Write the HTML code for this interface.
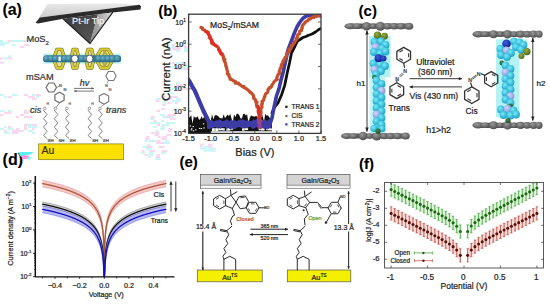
<!DOCTYPE html>
<html><head><meta charset="utf-8"><style>
html,body{margin:0;padding:0;background:#fff;width:550px;height:305px;overflow:hidden}
svg{display:block;font-family:'Liberation Sans',sans-serif}
</style></head><body>
<svg width="550" height="305" viewBox="0 0 550 305" style="font-family:'Liberation Sans',sans-serif">
<rect x="0" y="0" width="550" height="305" fill="#fff"/>
<defs>
<linearGradient id="gface" x1="0" y1="0" x2="0" y2="1"><stop offset="0" stop-color="#e8e8e8"/><stop offset="1" stop-color="#c4c4c4"/></linearGradient>
<linearGradient id="gpyrR" x1="0" y1="0" x2="1" y2="0"><stop offset="0" stop-color="#8a8a8a"/><stop offset="0.6" stop-color="#b8b8b8"/><stop offset="1" stop-color="#e0e0e0"/></linearGradient>
<linearGradient id="gpyrL" x1="0" y1="0" x2="1" y2="1"><stop offset="0" stop-color="#3a3a3a"/><stop offset="1" stop-color="#5a5a5a"/></linearGradient>
<radialGradient id="ggray" cx="0.4" cy="0.35" r="0.7"><stop offset="0" stop-color="#9a9a9a"/><stop offset="1" stop-color="#4a4a4a"/></radialGradient>
<radialGradient id="gcyan" cx="0.4" cy="0.35" r="0.7"><stop offset="0" stop-color="#78ecfa"/><stop offset="1" stop-color="#149cc4"/></radialGradient>
<radialGradient id="gblue" cx="0.4" cy="0.35" r="0.7"><stop offset="0" stop-color="#4060e0"/><stop offset="1" stop-color="#0a1890"/></radialGradient>
<radialGradient id="glav" cx="0.4" cy="0.35" r="0.7"><stop offset="0" stop-color="#d0d8ff"/><stop offset="1" stop-color="#7c90d8"/></radialGradient>
<radialGradient id="gdgreen" cx="0.4" cy="0.35" r="0.7"><stop offset="0" stop-color="#4a8a50"/><stop offset="1" stop-color="#1a4a20"/></radialGradient>
<radialGradient id="ggreen" cx="0.4" cy="0.35" r="0.7"><stop offset="0" stop-color="#9ab040"/><stop offset="1" stop-color="#4a6018"/></radialGradient>
<radialGradient id="gteal" cx="0.4" cy="0.35" r="0.7"><stop offset="0" stop-color="#6ab4cc"/><stop offset="1" stop-color="#24607c"/></radialGradient>
<radialGradient id="gyel" cx="0.4" cy="0.35" r="0.7"><stop offset="0" stop-color="#f0ea70"/><stop offset="1" stop-color="#b0a010"/></radialGradient>
</defs>
<g id="art">
<rect x="0.0" y="40" width="3.2" height="2" fill="#c8f5f5" stroke="none" stroke-width="1" />
<rect x="8.0" y="40" width="4.9" height="2" fill="#f8d6f0" stroke="none" stroke-width="1" />
<rect x="12.0" y="40" width="5.3" height="2" fill="#c8f5f5" stroke="none" stroke-width="1" />
<rect x="16.0" y="40" width="4.6" height="2" fill="#c8f5f5" stroke="none" stroke-width="1" />
<rect x="20.0" y="40" width="4.3" height="2" fill="#c8f5f5" stroke="none" stroke-width="1" />
<rect x="24.0" y="40" width="2.5" height="2" fill="#f8d6f0" stroke="none" stroke-width="1" />
<rect x="0.0" y="42" width="5.4" height="2" fill="#c8f5f5" stroke="none" stroke-width="1" />
<rect x="4.0" y="42" width="5.5" height="2" fill="#c8f5f5" stroke="none" stroke-width="1" />
<rect x="0.0" y="44" width="4.8" height="2" fill="#c8f5f5" stroke="none" stroke-width="1" />
<rect x="12.0" y="44" width="3.0" height="2" fill="#c8f5f5" stroke="none" stroke-width="1" />
<rect x="24.0" y="44" width="5.3" height="2" fill="#f8d6f0" stroke="none" stroke-width="1" />
<rect x="20.0" y="46" width="4.3" height="2" fill="#f8d6f0" stroke="none" stroke-width="1" />
<rect x="8.0" y="55.5" width="3.6" height="2" fill="#c8f5f5" stroke="none" stroke-width="1" />
<rect x="0.0" y="57.5" width="3.2" height="2" fill="#f8d6f0" stroke="none" stroke-width="1" />
<rect x="4.0" y="57.5" width="4.3" height="2" fill="#c8f5f5" stroke="none" stroke-width="1" />
<rect x="8.0" y="57.5" width="4.4" height="2" fill="#f8d6f0" stroke="none" stroke-width="1" />
<rect x="0.0" y="61.5" width="4.0" height="2" fill="#f8d6f0" stroke="none" stroke-width="1" />
<rect x="0.0" y="94" width="3.6" height="2" fill="#c8f5f5" stroke="none" stroke-width="1" />
<rect x="12.0" y="94" width="5.3" height="2" fill="#c8f5f5" stroke="none" stroke-width="1" />
<rect x="24.0" y="94" width="4.1" height="2" fill="#f8d6f0" stroke="none" stroke-width="1" />
<rect x="32.0" y="94" width="3.1" height="2" fill="#c8f5f5" stroke="none" stroke-width="1" />
<rect x="36.0" y="94" width="4.8" height="2" fill="#f8d6f0" stroke="none" stroke-width="1" />
<rect x="4.0" y="96" width="3.4" height="2" fill="#c8f5f5" stroke="none" stroke-width="1" />
<rect x="8.0" y="96" width="3.9" height="2" fill="#f8d6f0" stroke="none" stroke-width="1" />
<rect x="28.0" y="96" width="5.5" height="2" fill="#f8d6f0" stroke="none" stroke-width="1" />
<rect x="32.0" y="96" width="2.7" height="2" fill="#f8d6f0" stroke="none" stroke-width="1" />
<rect x="36.0" y="96" width="3.2" height="2" fill="#c8f5f5" stroke="none" stroke-width="1" />
<rect x="32.0" y="98" width="4.6" height="2" fill="#f8d6f0" stroke="none" stroke-width="1" />
<rect x="0.0" y="110" width="4.7" height="2" fill="#c8f5f5" stroke="none" stroke-width="1" />
<rect x="8.0" y="110" width="3.7" height="2" fill="#c8f5f5" stroke="none" stroke-width="1" />
<rect x="24.0" y="110" width="3.3" height="2" fill="#f8d6f0" stroke="none" stroke-width="1" />
<rect x="28.0" y="110" width="3.2" height="2" fill="#c8f5f5" stroke="none" stroke-width="1" />
<rect x="4.0" y="112" width="5.0" height="2" fill="#f8d6f0" stroke="none" stroke-width="1" />
<rect x="8.0" y="112" width="3.3" height="2" fill="#f8d6f0" stroke="none" stroke-width="1" />
<rect x="24.0" y="112" width="4.5" height="2" fill="#f8d6f0" stroke="none" stroke-width="1" />
<rect x="0.0" y="114" width="3.3" height="2" fill="#f8d6f0" stroke="none" stroke-width="1" />
<rect x="20.0" y="114" width="4.2" height="2" fill="#f8d6f0" stroke="none" stroke-width="1" />
<rect x="16.0" y="116" width="3.2" height="2" fill="#f8d6f0" stroke="none" stroke-width="1" />
<rect x="24.0" y="116" width="4.4" height="2" fill="#f8d6f0" stroke="none" stroke-width="1" />
<rect x="28.0" y="116" width="4.6" height="2" fill="#f8d6f0" stroke="none" stroke-width="1" />
<rect x="24.0" y="124" width="4.9" height="2" fill="#f8d6f0" stroke="none" stroke-width="1" />
<rect x="28.0" y="124" width="5.3" height="2" fill="#c8f5f5" stroke="none" stroke-width="1" />
<rect x="32.0" y="124" width="5.2" height="2" fill="#f8d6f0" stroke="none" stroke-width="1" />
<rect x="4.0" y="126" width="2.4" height="2" fill="#c8f5f5" stroke="none" stroke-width="1" />
<rect x="8.0" y="126" width="3.0" height="2" fill="#f8d6f0" stroke="none" stroke-width="1" />
<rect x="24.0" y="126" width="2.8" height="2" fill="#f8d6f0" stroke="none" stroke-width="1" />
<rect x="28.0" y="126" width="3.1" height="2" fill="#c8f5f5" stroke="none" stroke-width="1" />
<rect x="32.0" y="126" width="5.2" height="2" fill="#c8f5f5" stroke="none" stroke-width="1" />
<rect x="0.0" y="128" width="4.1" height="2" fill="#c8f5f5" stroke="none" stroke-width="1" />
<rect x="8.0" y="128" width="5.5" height="2" fill="#c8f5f5" stroke="none" stroke-width="1" />
<rect x="16.0" y="128" width="3.7" height="2" fill="#f8d6f0" stroke="none" stroke-width="1" />
<rect x="24.0" y="128" width="3.4" height="2" fill="#f8d6f0" stroke="none" stroke-width="1" />
<rect x="32.0" y="128" width="2.6" height="2" fill="#f8d6f0" stroke="none" stroke-width="1" />
<rect x="4.0" y="130" width="3.0" height="2" fill="#f8d6f0" stroke="none" stroke-width="1" />
<rect x="12.0" y="130" width="5.5" height="2" fill="#f8d6f0" stroke="none" stroke-width="1" />
<rect x="16.0" y="130" width="5.1" height="2" fill="#f8d6f0" stroke="none" stroke-width="1" />
<rect x="20.0" y="130" width="3.6" height="2" fill="#f8d6f0" stroke="none" stroke-width="1" />
<rect x="28.0" y="130" width="4.7" height="2" fill="#c8f5f5" stroke="none" stroke-width="1" />
<rect x="4.0" y="132" width="5.4" height="2" fill="#c8f5f5" stroke="none" stroke-width="1" />
<rect x="12.0" y="132" width="5.3" height="2" fill="#f8d6f0" stroke="none" stroke-width="1" />
<rect x="16.0" y="132" width="2.7" height="2" fill="#f8d6f0" stroke="none" stroke-width="1" />
<rect x="32.0" y="132" width="3.1" height="2" fill="#c8f5f5" stroke="none" stroke-width="1" />
<rect x="170.0" y="92" width="2.9" height="2" fill="#c8f5f5" stroke="none" stroke-width="1" />
<rect x="161.4" y="94" width="3.3" height="2" fill="#c8f5f5" stroke="none" stroke-width="1" />
<rect x="160.8" y="96" width="4.5" height="2" fill="#f8d6f0" stroke="none" stroke-width="1" />
<rect x="168.8" y="96" width="3.5" height="2" fill="#f8d6f0" stroke="none" stroke-width="1" />
<rect x="172.8" y="96" width="5.0" height="2" fill="#f8d6f0" stroke="none" stroke-width="1" />
<rect x="156.2" y="98" width="4.6" height="2" fill="#c8f5f5" stroke="none" stroke-width="1" />
<rect x="164.2" y="98" width="4.3" height="2" fill="#c8f5f5" stroke="none" stroke-width="1" />
<rect x="168.2" y="98" width="4.0" height="2" fill="#f8d6f0" stroke="none" stroke-width="1" />
<rect x="176.2" y="98" width="4.4" height="2" fill="#c8f5f5" stroke="none" stroke-width="1" />
<rect x="155.6" y="100" width="3.4" height="2" fill="#f8d6f0" stroke="none" stroke-width="1" />
<rect x="163.6" y="100" width="2.8" height="2" fill="#c8f5f5" stroke="none" stroke-width="1" />
<rect x="171.6" y="100" width="3.6" height="2" fill="#c8f5f5" stroke="none" stroke-width="1" />
<rect x="175.6" y="100" width="5.1" height="2" fill="#c8f5f5" stroke="none" stroke-width="1" />
<rect x="163.0" y="102" width="2.5" height="2" fill="#c8f5f5" stroke="none" stroke-width="1" />
<rect x="167.0" y="102" width="3.6" height="2" fill="#f8d6f0" stroke="none" stroke-width="1" />
<rect x="175.0" y="102" width="2.6" height="2" fill="#f8d6f0" stroke="none" stroke-width="1" />
<rect x="162.4" y="104" width="3.2" height="2" fill="#f8d6f0" stroke="none" stroke-width="1" />
<rect x="161.2" y="108" width="3.8" height="2" fill="#f8d6f0" stroke="none" stroke-width="1" />
<rect x="173.2" y="108" width="3.2" height="2" fill="#c8f5f5" stroke="none" stroke-width="1" />
<rect x="156.6" y="110" width="3.5" height="2" fill="#f8d6f0" stroke="none" stroke-width="1" />
<rect x="159.4" y="114" width="5.5" height="2" fill="#c8f5f5" stroke="none" stroke-width="1" />
<rect x="167.4" y="114" width="3.4" height="2" fill="#f8d6f0" stroke="none" stroke-width="1" />
<rect x="171.4" y="114" width="4.7" height="2" fill="#f8d6f0" stroke="none" stroke-width="1" />
<rect x="150.8" y="116" width="4.2" height="2" fill="#f8d6f0" stroke="none" stroke-width="1" />
<rect x="162.8" y="116" width="4.6" height="2" fill="#c8f5f5" stroke="none" stroke-width="1" />
<rect x="166.8" y="116" width="5.1" height="2" fill="#f8d6f0" stroke="none" stroke-width="1" />
<rect x="170.8" y="116" width="2.9" height="2" fill="#c8f5f5" stroke="none" stroke-width="1" />
<rect x="150.2" y="118" width="3.8" height="2" fill="#c8f5f5" stroke="none" stroke-width="1" />
<rect x="170.2" y="118" width="5.5" height="2" fill="#f8d6f0" stroke="none" stroke-width="1" />
<rect x="153.6" y="120" width="2.9" height="2" fill="#f8d6f0" stroke="none" stroke-width="1" />
<rect x="161.6" y="120" width="2.5" height="2" fill="#c8f5f5" stroke="none" stroke-width="1" />
<rect x="150.0" y="122" width="3.7" height="2" fill="#c8f5f5" stroke="none" stroke-width="1" />
<rect x="154.0" y="122" width="3.6" height="2" fill="#c8f5f5" stroke="none" stroke-width="1" />
<rect x="158.0" y="122" width="2.5" height="2" fill="#c8f5f5" stroke="none" stroke-width="1" />
<rect x="166.0" y="122" width="4.2" height="2" fill="#c8f5f5" stroke="none" stroke-width="1" />
<rect x="170.0" y="122" width="5.4" height="2" fill="#c8f5f5" stroke="none" stroke-width="1" />
<rect x="157.4" y="124" width="2.6" height="2" fill="#f8d6f0" stroke="none" stroke-width="1" />
<rect x="161.4" y="124" width="3.3" height="2" fill="#c8f5f5" stroke="none" stroke-width="1" />
<rect x="165.4" y="124" width="4.2" height="2" fill="#c8f5f5" stroke="none" stroke-width="1" />
<rect x="152.8" y="126" width="3.6" height="2" fill="#c8f5f5" stroke="none" stroke-width="1" />
<rect x="160.8" y="126" width="4.4" height="2" fill="#c8f5f5" stroke="none" stroke-width="1" />
<rect x="160.2" y="128" width="4.9" height="2" fill="#c8f5f5" stroke="none" stroke-width="1" />
<rect x="168.2" y="128" width="4.1" height="2" fill="#f8d6f0" stroke="none" stroke-width="1" />
<rect x="155.6" y="130" width="2.8" height="2" fill="#c8f5f5" stroke="none" stroke-width="1" />
<rect x="167.6" y="130" width="3.7" height="2" fill="#f8d6f0" stroke="none" stroke-width="1" />
<rect x="151.0" y="132" width="3.5" height="2" fill="#f8d6f0" stroke="none" stroke-width="1" />
<rect x="155.0" y="132" width="4.3" height="2" fill="#f8d6f0" stroke="none" stroke-width="1" />
<rect x="154.4" y="134" width="4.5" height="2" fill="#f8d6f0" stroke="none" stroke-width="1" />
<rect x="166.4" y="134" width="5.2" height="2" fill="#f8d6f0" stroke="none" stroke-width="1" />
<rect x="145.8" y="136" width="3.5" height="2" fill="#f8d6f0" stroke="none" stroke-width="1" />
<rect x="157.8" y="136" width="2.8" height="2" fill="#f8d6f0" stroke="none" stroke-width="1" />
<rect x="161.8" y="136" width="5.3" height="2" fill="#f8d6f0" stroke="none" stroke-width="1" />
<rect x="145.2" y="138" width="4.2" height="2" fill="#f8d6f0" stroke="none" stroke-width="1" />
<rect x="161.2" y="138" width="5.6" height="2" fill="#f8d6f0" stroke="none" stroke-width="1" />
<rect x="144.6" y="140" width="2.9" height="2" fill="#c8f5f5" stroke="none" stroke-width="1" />
<rect x="148.6" y="140" width="4.5" height="2" fill="#c8f5f5" stroke="none" stroke-width="1" />
<rect x="152.6" y="140" width="3.2" height="2" fill="#c8f5f5" stroke="none" stroke-width="1" />
<rect x="156.6" y="140" width="4.1" height="2" fill="#f8d6f0" stroke="none" stroke-width="1" />
<rect x="164.6" y="140" width="4.6" height="2" fill="#c8f5f5" stroke="none" stroke-width="1" />
<rect x="156.0" y="142" width="3.7" height="2" fill="#f8d6f0" stroke="none" stroke-width="1" />
<rect x="160.0" y="142" width="4.4" height="2" fill="#f8d6f0" stroke="none" stroke-width="1" />
<rect x="164.0" y="142" width="5.6" height="2" fill="#c8f5f5" stroke="none" stroke-width="1" />
<rect x="147.4" y="144" width="2.7" height="2" fill="#c8f5f5" stroke="none" stroke-width="1" />
<rect x="142.8" y="146" width="4.4" height="2" fill="#c8f5f5" stroke="none" stroke-width="1" />
<rect x="146.8" y="146" width="5.5" height="2" fill="#f8d6f0" stroke="none" stroke-width="1" />
<rect x="158.8" y="146" width="5.6" height="2" fill="#f8d6f0" stroke="none" stroke-width="1" />
<rect x="146.2" y="148" width="4.8" height="2" fill="#c8f5f5" stroke="none" stroke-width="1" />
<rect x="141.6" y="150" width="2.9" height="2" fill="#f8d6f0" stroke="none" stroke-width="1" />
<rect x="149.6" y="150" width="5.5" height="2" fill="#f8d6f0" stroke="none" stroke-width="1" />
<rect x="161.6" y="150" width="5.3" height="2" fill="#f8d6f0" stroke="none" stroke-width="1" />
<rect x="141.0" y="152" width="4.1" height="2" fill="#c8f5f5" stroke="none" stroke-width="1" />
<rect x="149.0" y="152" width="4.4" height="2" fill="#c8f5f5" stroke="none" stroke-width="1" />
<rect x="161.0" y="152" width="5.0" height="2" fill="#c8f5f5" stroke="none" stroke-width="1" />
<rect x="144.4" y="154" width="3.5" height="2" fill="#f8d6f0" stroke="none" stroke-width="1" />
<rect x="148.4" y="154" width="4.9" height="2" fill="#c8f5f5" stroke="none" stroke-width="1" />
<rect x="156.4" y="154" width="3.8" height="2" fill="#f8d6f0" stroke="none" stroke-width="1" />
<rect x="147.8" y="156" width="2.7" height="2" fill="#c8f5f5" stroke="none" stroke-width="1" />
<rect x="155.8" y="156" width="4.4" height="2" fill="#f8d6f0" stroke="none" stroke-width="1" />
<rect x="155.2" y="158" width="5.3" height="2" fill="#c8f5f5" stroke="none" stroke-width="1" />
<rect x="172.0" y="44" width="2.8" height="2" fill="#f8d6f0" stroke="none" stroke-width="1" />
<rect x="180.0" y="44" width="5.0" height="2" fill="#c8f5f5" stroke="none" stroke-width="1" />
<rect x="172.0" y="46" width="3.9" height="2" fill="#c8f5f5" stroke="none" stroke-width="1" />
<rect x="176.0" y="46" width="4.2" height="2" fill="#f8d6f0" stroke="none" stroke-width="1" />
<rect x="184.0" y="46" width="3.1" height="2" fill="#f8d6f0" stroke="none" stroke-width="1" />
<rect x="172.0" y="48" width="4.1" height="2" fill="#f8d6f0" stroke="none" stroke-width="1" />
<rect x="176.0" y="48" width="4.7" height="2" fill="#f8d6f0" stroke="none" stroke-width="1" />
<rect x="184.0" y="48" width="3.6" height="2" fill="#c8f5f5" stroke="none" stroke-width="1" />
<rect x="176.0" y="50" width="3.5" height="2" fill="#c8f5f5" stroke="none" stroke-width="1" />
<rect x="184.0" y="50" width="4.3" height="2" fill="#c8f5f5" stroke="none" stroke-width="1" />
<rect x="172.0" y="62" width="3.3" height="2" fill="#f8d6f0" stroke="none" stroke-width="1" />
<rect x="176.0" y="62" width="3.5" height="2" fill="#c8f5f5" stroke="none" stroke-width="1" />
<rect x="180.0" y="62" width="3.5" height="2" fill="#c8f5f5" stroke="none" stroke-width="1" />
<rect x="180.0" y="64" width="5.4" height="2" fill="#f8d6f0" stroke="none" stroke-width="1" />
<rect x="184.0" y="64" width="3.2" height="2" fill="#c8f5f5" stroke="none" stroke-width="1" />
<rect x="172.0" y="66" width="4.9" height="2" fill="#c8f5f5" stroke="none" stroke-width="1" />
<rect x="176.0" y="66" width="5.3" height="2" fill="#c8f5f5" stroke="none" stroke-width="1" />
<rect x="180.0" y="66" width="4.7" height="2" fill="#c8f5f5" stroke="none" stroke-width="1" />
<rect x="184.0" y="66" width="4.9" height="2" fill="#c8f5f5" stroke="none" stroke-width="1" />
<rect x="176.0" y="68" width="5.0" height="2" fill="#f8d6f0" stroke="none" stroke-width="1" />
<rect x="180.0" y="68" width="5.2" height="2" fill="#c8f5f5" stroke="none" stroke-width="1" />
<rect x="184.0" y="68" width="5.1" height="2" fill="#f8d6f0" stroke="none" stroke-width="1" />
<rect x="176.0" y="82" width="3.1" height="2" fill="#c8f5f5" stroke="none" stroke-width="1" />
<rect x="176.0" y="84" width="3.4" height="2" fill="#f8d6f0" stroke="none" stroke-width="1" />
<rect x="180.0" y="84" width="2.5" height="2" fill="#f8d6f0" stroke="none" stroke-width="1" />
<rect x="176.0" y="86" width="5.0" height="2" fill="#f8d6f0" stroke="none" stroke-width="1" />
<rect x="180.0" y="86" width="4.6" height="2" fill="#c8f5f5" stroke="none" stroke-width="1" />
<rect x="172.0" y="88" width="5.5" height="2" fill="#c8f5f5" stroke="none" stroke-width="1" />
<rect x="180.0" y="88" width="3.2" height="2" fill="#c8f5f5" stroke="none" stroke-width="1" />
<rect x="184.0" y="88" width="4.1" height="2" fill="#f8d6f0" stroke="none" stroke-width="1" />
<rect x="200.0" y="143.6" width="3.8" height="2" fill="#f8d6f0" stroke="none" stroke-width="1" />
<rect x="208.0" y="143.6" width="4.4" height="2" fill="#f8d6f0" stroke="none" stroke-width="1" />
<rect x="200.0" y="145.6" width="2.9" height="2" fill="#f8d6f0" stroke="none" stroke-width="1" />
<rect x="204.0" y="145.6" width="4.3" height="2" fill="#c8f5f5" stroke="none" stroke-width="1" />
<rect x="208.0" y="145.6" width="4.5" height="2" fill="#f8d6f0" stroke="none" stroke-width="1" />
<rect x="200.0" y="147.6" width="5.1" height="2" fill="#c8f5f5" stroke="none" stroke-width="1" />
<rect x="204.0" y="147.6" width="3.0" height="2" fill="#c8f5f5" stroke="none" stroke-width="1" />
<rect x="208.0" y="147.6" width="4.9" height="2" fill="#c8f5f5" stroke="none" stroke-width="1" />
<rect x="212.0" y="147.6" width="4.1" height="2" fill="#c8f5f5" stroke="none" stroke-width="1" />
<rect x="204.0" y="149.6" width="3.9" height="2" fill="#c8f5f5" stroke="none" stroke-width="1" />
<rect x="208.0" y="149.6" width="4.7" height="2" fill="#c8f5f5" stroke="none" stroke-width="1" />
<rect x="212.0" y="149.6" width="4.0" height="2" fill="#c8f5f5" stroke="none" stroke-width="1" />
</g>
<text x="2.4" y="14.8" font-size="16" fill="#000" stroke="#000" stroke-width="0.1" font-weight="bold" font-style="normal" text-anchor="start" >(a)</text>
<polygon points="47.50,4.00 124.00,3.60 139.00,5.60 41.00,17.20 36.50,21.50" fill="url(#gface)" stroke="none" stroke-width="1" />
<polygon points="35.50,22.80 40.00,17.60 139.50,4.80 141.00,6.20 140.50,9.40 112.50,12.60 63.00,18.80 38.00,23.50" fill="#2b2b2b" stroke="none" stroke-width="1" />
<polygon points="63.00,18.80 98.00,14.30 90.00,43.50" fill="url(#gpyrL)" stroke="none" stroke-width="1" />
<polygon points="98.00,14.30 112.50,12.60 90.00,43.50" fill="url(#gpyrR)" stroke="none" stroke-width="1" />
<polyline points="63.00,18.80 90.00,43.50 112.50,12.60" stroke="#222" stroke-width="1.2" fill="none" stroke-linejoin="round" stroke-linecap="round" />
<text x="72" y="24.2" font-size="9.2" fill="#eee" stroke="#eee" stroke-width="0.22" font-weight="normal" font-style="normal" text-anchor="start" >Pt-Ir Tip</text>
<text x="26.4" y="42.4" font-size="9.3" fill="#333" stroke="#333" stroke-width="0.22" font-weight="normal" font-style="normal" text-anchor="start" >MoS</text>
<text x="45.6" y="45" font-size="6" fill="#333" stroke="#333" stroke-width="0.22" font-weight="normal" font-style="normal" text-anchor="start" >2</text>
<rect x="43" y="53.5" width="78" height="10.2" fill="#c4f2f2" stroke="none" stroke-width="1" />
<polygon points="54.70,55.70 56.87,49.40 61.73,49.40 63.90,55.70" fill="#d8d060" stroke="none" stroke-width="1" opacity="0.55"/>
<polyline points="54.70,55.70 56.87,49.40 61.73,49.40 63.90,55.70" stroke="#6a6420" stroke-width="3.4" fill="none" stroke-linejoin="round" stroke-linecap="round" />
<polyline points="54.70,55.70 56.87,49.40 61.73,49.40 63.90,55.70" stroke="#d8cc34" stroke-width="2.4" fill="none" stroke-linejoin="round" stroke-linecap="round" />
<polygon points="54.70,61.70 56.87,68.00 61.73,68.00 63.90,61.70" fill="#d8d060" stroke="none" stroke-width="1" opacity="0.55"/>
<polyline points="54.70,61.70 56.87,68.00 61.73,68.00 63.90,61.70" stroke="#6a6420" stroke-width="3.4" fill="none" stroke-linejoin="round" stroke-linecap="round" />
<polyline points="54.70,61.70 56.87,68.00 61.73,68.00 63.90,61.70" stroke="#d8cc34" stroke-width="2.4" fill="none" stroke-linejoin="round" stroke-linecap="round" />
<polygon points="71.70,55.70 73.13,49.40 76.77,49.40 78.20,55.70" fill="#d8d060" stroke="none" stroke-width="1" opacity="0.55"/>
<polyline points="71.70,55.70 73.13,49.40 76.77,49.40 78.20,55.70" stroke="#6a6420" stroke-width="3.4" fill="none" stroke-linejoin="round" stroke-linecap="round" />
<polyline points="71.70,55.70 73.13,49.40 76.77,49.40 78.20,55.70" stroke="#d8cc34" stroke-width="2.4" fill="none" stroke-linejoin="round" stroke-linecap="round" />
<polygon points="71.70,61.70 73.13,68.00 76.77,68.00 78.20,61.70" fill="#d8d060" stroke="none" stroke-width="1" opacity="0.55"/>
<polyline points="71.70,61.70 73.13,68.00 76.77,68.00 78.20,61.70" stroke="#6a6420" stroke-width="3.4" fill="none" stroke-linejoin="round" stroke-linecap="round" />
<polyline points="71.70,61.70 73.13,68.00 76.77,68.00 78.20,61.70" stroke="#d8cc34" stroke-width="2.4" fill="none" stroke-linejoin="round" stroke-linecap="round" />
<polygon points="86.40,55.70 87.91,49.40 91.69,49.40 93.20,55.70" fill="#d8d060" stroke="none" stroke-width="1" opacity="0.55"/>
<polyline points="86.40,55.70 87.91,49.40 91.69,49.40 93.20,55.70" stroke="#6a6420" stroke-width="3.4" fill="none" stroke-linejoin="round" stroke-linecap="round" />
<polyline points="86.40,55.70 87.91,49.40 91.69,49.40 93.20,55.70" stroke="#d8cc34" stroke-width="2.4" fill="none" stroke-linejoin="round" stroke-linecap="round" />
<polygon points="86.40,61.70 87.91,68.00 91.69,68.00 93.20,61.70" fill="#d8d060" stroke="none" stroke-width="1" opacity="0.55"/>
<polyline points="86.40,61.70 87.91,68.00 91.69,68.00 93.20,61.70" stroke="#6a6420" stroke-width="3.4" fill="none" stroke-linejoin="round" stroke-linecap="round" />
<polyline points="86.40,61.70 87.91,68.00 91.69,68.00 93.20,61.70" stroke="#d8cc34" stroke-width="2.4" fill="none" stroke-linejoin="round" stroke-linecap="round" />
<polygon points="97.30,55.70 100.93,49.40 108.17,49.40 111.80,55.70" fill="#d8d060" stroke="none" stroke-width="1" opacity="0.55"/>
<polyline points="97.30,55.70 100.93,49.40 108.17,49.40 111.80,55.70" stroke="#6a6420" stroke-width="3.4" fill="none" stroke-linejoin="round" stroke-linecap="round" />
<polyline points="97.30,55.70 100.93,49.40 108.17,49.40 111.80,55.70" stroke="#d8cc34" stroke-width="2.4" fill="none" stroke-linejoin="round" stroke-linecap="round" />
<polyline points="102.94,55.70 104.55,50.90 106.97,55.70" stroke="#b8ac28" stroke-width="2.0" fill="none" stroke-linejoin="round" stroke-linecap="round" />
<polygon points="97.30,61.70 100.93,68.00 108.17,68.00 111.80,61.70" fill="#d8d060" stroke="none" stroke-width="1" opacity="0.55"/>
<polyline points="97.30,61.70 100.93,68.00 108.17,68.00 111.80,61.70" stroke="#6a6420" stroke-width="3.4" fill="none" stroke-linejoin="round" stroke-linecap="round" />
<polyline points="97.30,61.70 100.93,68.00 108.17,68.00 111.80,61.70" stroke="#d8cc34" stroke-width="2.4" fill="none" stroke-linejoin="round" stroke-linecap="round" />
<polyline points="102.94,61.70 104.55,66.50 106.97,61.70" stroke="#b8ac28" stroke-width="2.0" fill="none" stroke-linejoin="round" stroke-linecap="round" />
<rect x="43.2" y="55.2" width="78" height="7" rx="3.5" fill="#2f7894"/>
<circle cx="46.4" cy="58.7" r="3.3" fill="url(#gteal)" stroke="none" stroke-width="1" />
<circle cx="51" cy="58.7" r="3.3" fill="url(#gteal)" stroke="none" stroke-width="1" />
<circle cx="55.6" cy="58.7" r="3.3" fill="url(#gteal)" stroke="none" stroke-width="1" />
<circle cx="64.5" cy="58.7" r="3.3" fill="url(#gteal)" stroke="none" stroke-width="1" />
<circle cx="68.8" cy="58.7" r="3.3" fill="url(#gteal)" stroke="none" stroke-width="1" />
<circle cx="81.7" cy="58.7" r="3.3" fill="url(#gteal)" stroke="none" stroke-width="1" />
<circle cx="86.4" cy="58.7" r="3.3" fill="url(#gteal)" stroke="none" stroke-width="1" />
<circle cx="98.7" cy="58.7" r="3.3" fill="url(#gteal)" stroke="none" stroke-width="1" />
<circle cx="103.4" cy="58.7" r="3.3" fill="url(#gteal)" stroke="none" stroke-width="1" />
<circle cx="108" cy="58.7" r="3.3" fill="url(#gteal)" stroke="none" stroke-width="1" />
<circle cx="112.5" cy="58.7" r="3.3" fill="url(#gteal)" stroke="none" stroke-width="1" />
<circle cx="117.6" cy="58.7" r="3.3" fill="url(#gteal)" stroke="none" stroke-width="1" />
<rect x="58.4" y="56.5" width="2.4" height="4.5" fill="#e8f8f8" stroke="none" stroke-width="1" />
<ellipse cx="74.8" cy="58.7" rx="3.3" ry="3.6" fill="#fff" stroke="#4a3a5a" stroke-width="0.8"/>
<ellipse cx="89.6" cy="58.7" rx="3.3" ry="3.6" fill="#fff" stroke="#4a3a5a" stroke-width="0.8"/>
<text x="26" y="79.5" font-size="9.2" fill="#333" stroke="#333" stroke-width="0.22" font-weight="normal" font-style="normal" text-anchor="start" >mSAM</text>
<text x="79.8" y="85.8" font-size="9" fill="#333" stroke="#333" stroke-width="0.22" font-weight="normal" font-style="italic" text-anchor="start" >hv</text>
<line x1="74" y1="88.4" x2="94" y2="88.4" stroke="#555" stroke-width="0.8" />
<polygon points="94.00,88.40 91.50,89.60 91.50,87.20" fill="#555" stroke="none" stroke-width="1" />
<line x1="94" y1="91.1" x2="74" y2="91.1" stroke="#555" stroke-width="0.8" />
<polygon points="74.00,91.10 76.50,89.90 76.50,92.30" fill="#555" stroke="none" stroke-width="1" />
<polyline points="56.50,87.50 53.90,92.00 48.70,92.00 46.10,87.50 48.70,83.00 53.90,83.00 56.50,87.50" stroke="#6a6a6a" stroke-width="1.2" fill="none" stroke-linejoin="round" stroke-linecap="round" />
<text x="59" y="87" font-size="4" fill="#555" stroke="#555" stroke-width="0.22" font-weight="normal" font-style="normal" text-anchor="start" >N</text>
<text x="63.5" y="90.5" font-size="4" fill="#555" stroke="#555" stroke-width="0.22" font-weight="normal" font-style="normal" text-anchor="start" >N</text>
<line x1="56.5" y1="87.5" x2="59.5" y2="86" stroke="#777" stroke-width="0.8" />
<polyline points="64.09,100.15 59.50,102.80 54.91,100.15 54.91,94.85 59.50,92.20 64.09,94.85 64.09,100.15" stroke="#6a6a6a" stroke-width="1.2" fill="none" stroke-linejoin="round" stroke-linecap="round" />
<line x1="59.5" y1="102.8" x2="56.5" y2="107" stroke="#777" stroke-width="0.8" />
<polyline points="116.20,76.00 113.60,80.50 108.40,80.50 105.80,76.00 108.40,71.50 113.60,71.50 116.20,76.00" stroke="#777" stroke-width="1.1" fill="none" stroke-linejoin="round" stroke-linecap="round" />
<line x1="108.5" y1="80.5" x2="107" y2="83.5" stroke="#888" stroke-width="0.8" />
<text x="105" y="86.5" font-size="4" fill="#666" stroke="#666" stroke-width="0.22" font-weight="normal" font-style="normal" text-anchor="start" >N</text>
<text x="108.5" y="90.5" font-size="4" fill="#666" stroke="#666" stroke-width="0.22" font-weight="normal" font-style="normal" text-anchor="start" >N</text>
<polyline points="108.68,101.50 104.00,104.20 99.32,101.50 99.32,96.10 104.00,93.40 108.68,96.10 108.68,101.50" stroke="#777" stroke-width="1.1" fill="none" stroke-linejoin="round" stroke-linecap="round" />
<line x1="104" y1="104.2" x2="101" y2="106.8" stroke="#888" stroke-width="0.8" />
<text x="30" y="113" font-size="9.2" fill="#333" stroke="#333" stroke-width="0.22" font-weight="normal" font-style="italic" text-anchor="start" >cis</text>
<text x="106" y="113" font-size="9.2" fill="#333" stroke="#333" stroke-width="0.22" font-weight="normal" font-style="italic" text-anchor="start" >trans</text>
<circle cx="44.8" cy="108.4" r="1.3" fill="none" stroke="#777" stroke-width="0.7"/>
<text x="46.599999999999994" y="105" font-size="3.5" fill="#777" stroke="#777" stroke-width="0.22" font-weight="normal" font-style="normal" text-anchor="start" >H</text>
<polyline points="43.50,110.30 47.10,114.50 43.50,118.70 47.10,122.90 43.50,127.10 47.10,131.30 43.50,135.50 46.80,138.30" stroke="#777" stroke-width="0.9" fill="none" stroke-linejoin="round" stroke-linecap="round" />
<text x="47.599999999999994" y="141.9" font-size="4.3" fill="#444" stroke="#444" stroke-width="0.22" font-weight="normal" font-style="normal" text-anchor="start" >SH</text>
<circle cx="55.6" cy="108.4" r="1.3" fill="none" stroke="#777" stroke-width="0.7"/>
<polyline points="54.30,110.30 57.90,114.50 54.30,118.70 57.90,122.90 54.30,127.10 57.90,131.30 54.30,135.50 57.60,138.30" stroke="#777" stroke-width="0.9" fill="none" stroke-linejoin="round" stroke-linecap="round" />
<text x="58.4" y="141.9" font-size="4.3" fill="#444" stroke="#444" stroke-width="0.22" font-weight="normal" font-style="normal" text-anchor="start" >SH</text>
<circle cx="66.8" cy="108.4" r="1.3" fill="none" stroke="#777" stroke-width="0.7"/>
<text x="68.6" y="105" font-size="3.5" fill="#777" stroke="#777" stroke-width="0.22" font-weight="normal" font-style="normal" text-anchor="start" >H</text>
<polyline points="65.50,110.30 69.10,114.50 65.50,118.70 69.10,122.90 65.50,127.10 69.10,131.30 65.50,135.50 68.80,138.30" stroke="#777" stroke-width="0.9" fill="none" stroke-linejoin="round" stroke-linecap="round" />
<text x="69.6" y="141.9" font-size="4.3" fill="#444" stroke="#444" stroke-width="0.22" font-weight="normal" font-style="normal" text-anchor="start" >SH</text>
<circle cx="89.4" cy="108.4" r="1.3" fill="none" stroke="#777" stroke-width="0.7"/>
<text x="91.2" y="105" font-size="3.5" fill="#777" stroke="#777" stroke-width="0.22" font-weight="normal" font-style="normal" text-anchor="start" >H</text>
<polyline points="88.10,110.30 91.70,114.50 88.10,118.70 91.70,122.90 88.10,127.10 91.70,131.30 88.10,135.50 91.40,138.30" stroke="#777" stroke-width="0.9" fill="none" stroke-linejoin="round" stroke-linecap="round" />
<text x="92.2" y="141.9" font-size="4.3" fill="#444" stroke="#444" stroke-width="0.22" font-weight="normal" font-style="normal" text-anchor="start" >SH</text>
<circle cx="100" cy="108.4" r="1.3" fill="none" stroke="#777" stroke-width="0.7"/>
<polyline points="98.70,110.30 102.30,114.50 98.70,118.70 102.30,122.90 98.70,127.10 102.30,131.30 98.70,135.50 102.00,138.30" stroke="#777" stroke-width="0.9" fill="none" stroke-linejoin="round" stroke-linecap="round" />
<text x="102.8" y="141.9" font-size="4.3" fill="#444" stroke="#444" stroke-width="0.22" font-weight="normal" font-style="normal" text-anchor="start" >SH</text>
<rect x="38.7" y="143.9" width="84.7" height="15.8" fill="#fce000" stroke="#7a7a20" stroke-width="0.7" />
<text x="41.6" y="154.1" font-size="10.5" fill="#3a3000" stroke="#3a3000" stroke-width="0.22" font-weight="normal" font-style="normal" text-anchor="start" >Au</text>
<text x="158.2" y="16" font-size="15" fill="#000" stroke="#000" stroke-width="0.1" font-weight="bold" font-style="normal" text-anchor="start" >(b)</text>
<clipPath id="cb"><rect x="188.6" y="14.2" width="132.4" height="119.2"/></clipPath>
<g clip-path="url(#cb)">
<polygon points="188.60,116.95 189.90,117.37 191.20,115.11 192.50,123.74 193.80,116.18 195.10,117.40 196.40,117.58 197.70,116.27 199.00,119.65 200.30,119.24 201.60,116.35 202.90,118.88 204.20,116.51 205.50,118.66 206.80,120.64 208.10,120.98 209.40,120.60 210.70,121.36 212.00,113.99 213.30,119.58 214.60,115.68 215.90,115.01 217.20,115.43 218.50,116.43 219.80,118.02 221.10,118.14 222.40,118.45 223.70,114.32 225.00,118.32 226.30,116.35 227.60,114.56 228.90,116.37 230.20,113.82 231.50,118.45 232.80,122.50 234.10,114.25 235.40,117.34 236.70,113.72 238.00,113.72 239.30,115.15 240.60,118.40 241.90,118.49 243.20,113.88 244.50,113.66 245.80,115.54 247.10,114.28 248.40,122.84 249.70,118.29 251.00,115.39 252.30,116.10 253.60,116.48 254.90,116.60 256.20,116.04 257.50,117.10 258.80,115.01 260.10,116.11 261.40,113.56 262.70,116.40 264.00,121.58 265.30,113.80 266.60,115.83 267.90,115.26 269.20,117.19 270.50,118.80 271.80,118.32 272.00,131.20 211.00,131.20 211.00,133.40 188.60,133.40" fill="#111" stroke="none" stroke-width="1" />
<rect x="199.1" y="127.9" width="1.3" height="1.1" fill="#fff" stroke="none" stroke-width="1" />
<rect x="202.9" y="123.3" width="1.3" height="1.1" fill="#fff" stroke="none" stroke-width="1" />
<rect x="189.8" y="125.4" width="1.3" height="1.1" fill="#fff" stroke="none" stroke-width="1" />
<rect x="195.1" y="129.3" width="1.3" height="1.1" fill="#fff" stroke="none" stroke-width="1" />
<rect x="203.4" y="127.4" width="1.3" height="1.1" fill="#fff" stroke="none" stroke-width="1" />
<rect x="200.8" y="128.0" width="1.3" height="1.1" fill="#fff" stroke="none" stroke-width="1" />
<rect x="192.5" y="126.0" width="1.3" height="1.1" fill="#fff" stroke="none" stroke-width="1" />
<rect x="192.8" y="130.2" width="1.3" height="1.1" fill="#fff" stroke="none" stroke-width="1" />
<rect x="190.8" y="129.4" width="1.3" height="1.1" fill="#fff" stroke="none" stroke-width="1" />
<rect x="191.1" y="128.2" width="1.3" height="1.1" fill="#fff" stroke="none" stroke-width="1" />
<rect x="212" y="128.2" width="2.3" height="2.8" fill="#fff" stroke="none" stroke-width="1" />
<rect x="214.3" y="128.2" width="1.1" height="2.9" fill="#fff" stroke="none" stroke-width="1" />
<rect x="215.4" y="128.2" width="3.0" height="3.0" fill="#fff" stroke="none" stroke-width="1" />
<rect x="218.5" y="128.2" width="4.8" height="2.1" fill="#fff" stroke="none" stroke-width="1" />
<rect x="223.2" y="128.2" width="1.5" height="2.4" fill="#fff" stroke="none" stroke-width="1" />
<rect x="226.4" y="128.2" width="1.2" height="2.7" fill="#fff" stroke="none" stroke-width="1" />
<rect x="227.6" y="128.2" width="2.6" height="2.4" fill="#fff" stroke="none" stroke-width="1" />
<rect x="230.2" y="128.2" width="2.9" height="1.5" fill="#fff" stroke="none" stroke-width="1" />
<rect x="242.0" y="128.2" width="2.4" height="2.5" fill="#fff" stroke="none" stroke-width="1" />
<rect x="244.4" y="128.2" width="3.7" height="1.9" fill="#fff" stroke="none" stroke-width="1" />
<rect x="258.6" y="128.2" width="1.9" height="2.1" fill="#fff" stroke="none" stroke-width="1" />
<rect x="260.5" y="128.2" width="4.1" height="2.3" fill="#fff" stroke="none" stroke-width="1" />
<rect x="266.3" y="128.2" width="1.1" height="2.0" fill="#fff" stroke="none" stroke-width="1" />
<rect x="267.4" y="128.2" width="3.5" height="2.2" fill="#fff" stroke="none" stroke-width="1" />
<rect x="271.0" y="128.2" width="1.8" height="2.2" fill="#fff" stroke="none" stroke-width="1" />
<polyline points="272.00,113.00 274.00,108.00 276.00,105.50 278.00,103.00 281.50,95.00 284.70,85.40 287.00,74.00 289.60,62.50 291.50,53.00 294.80,46.50 296.50,43.00 297.50,41.00 300.00,39.50 302.90,37.50 306.00,36.50 308.00,35.50 310.00,34.80 312.50,33.80 315.50,32.00 317.50,30.50 319.00,29.40 321.00,28.50 323.00,27.50" stroke="#111" stroke-width="2.8" fill="none" stroke-linejoin="round" stroke-linecap="round" />
<polyline points="186.00,77.00 189.30,81.00 192.00,86.00 194.80,90.70 197.50,97.00 200.70,104.50 203.50,111.00 206.60,117.30 208.60,121.30" stroke="#3c3ca4" stroke-width="4.2" fill="none" stroke-linejoin="round" stroke-linecap="round" />
<polygon points="207.00,120.57 208.50,120.95 210.00,120.83 211.50,119.26 213.00,121.28 214.50,121.18 216.00,120.23 217.50,120.40 219.00,119.23 220.50,119.81 222.00,120.88 223.50,120.95 225.00,120.56 226.50,119.20 228.00,119.66 229.50,121.36 231.00,119.84 232.50,120.39 234.00,119.65 235.50,120.72 237.00,121.17 238.50,119.99 240.00,119.52 241.50,119.86 243.00,119.21 244.50,119.94 246.00,121.00 247.50,119.89 249.00,120.75 250.50,121.35 252.00,120.85 253.50,119.24 255.00,120.01 256.50,119.22 258.00,119.60 259.50,119.63 261.00,121.25 262.50,119.96 264.00,120.35 265.50,119.44 267.00,120.95 268.50,119.28 270.00,119.40 271.50,120.54 271.50,129.00 270.00,127.62 268.50,129.07 267.00,128.86 265.50,128.60 264.00,128.66 262.50,127.65 261.00,129.06 259.50,128.61 258.00,129.09 256.50,126.91 255.00,128.19 253.50,128.69 252.00,128.83 250.50,126.85 249.00,126.94 247.50,127.95 246.00,127.95 244.50,127.54 243.00,128.43 241.50,128.25 240.00,126.96 238.50,127.20 237.00,127.52 235.50,129.12 234.00,129.06 232.50,128.43 231.00,129.11 229.50,128.89 228.00,127.32 226.50,128.89 225.00,127.10 223.50,127.13 222.00,127.18 220.50,129.00 219.00,127.32 217.50,128.18 216.00,127.39 214.50,127.07 213.00,128.36 211.50,127.92 210.00,129.01 208.50,129.06 207.00,128.58" fill="#3c3ca4" stroke="none" stroke-width="1" />
<polyline points="270.00,124.00 272.00,118.00 274.50,105.00 276.50,96.00 279.00,88.70 281.00,80.00 283.50,70.70 285.80,60.00 288.20,49.30 292.00,39.30 294.80,32.00 297.00,27.00 299.30,23.00 301.50,20.00 303.80,17.60 307.40,15.40 322.00,15.40" stroke="#3c3ca4" stroke-width="3.6" fill="none" stroke-linejoin="round" stroke-linecap="round" />
<polyline points="200.96,27.50 202.55,28.10 202.71,29.53 204.49,30.02 205.01,30.33 205.21,31.29 207.14,31.56 208.47,32.57 208.07,33.52 209.80,35.88 210.10,36.94 209.25,37.73 210.62,38.64 211.97,40.29 211.32,42.26 211.90,43.68 213.43,44.08 214.25,44.98 215.50,45.26 217.44,46.58 218.15,47.53 219.30,49.63 219.81,50.42 220.33,51.87 220.40,52.96 222.42,54.02 223.48,56.62 223.10,56.98 223.60,58.22 224.91,59.42 223.80,60.15 225.35,62.79 225.39,63.25 225.88,64.93 225.76,65.97 226.69,67.26 226.49,67.81 227.16,70.28 227.41,71.04 227.61,71.53 227.49,73.94 228.88,74.52 228.99,76.28 230.10,77.90 230.08,79.12 231.74,79.64 232.88,80.32 233.33,80.76 235.40,81.46 235.15,83.09 237.32,83.17 238.46,83.08 238.57,84.06 239.87,84.47 240.49,85.24 242.99,86.77 243.92,86.47 244.30,87.73 245.84,88.37 246.15,88.54 248.54,90.47 249.61,91.26 249.88,92.33 251.56,92.99 252.05,94.04 253.18,94.77 253.80,97.43 253.49,98.00 255.23,99.56 255.63,99.86 255.85,102.23 257.15,102.16 256.35,103.35 256.54,105.11 257.03,106.99 258.15,107.00 258.26,108.52 258.49,109.55 258.11,110.89 258.58,113.14 259.00,113.47 259.40,116.20 259.64,117.47 258.42,118.16 258.52,119.87 258.71,121.01 258.85,122.20 258.96,122.38 259.09,124.03 259.92,125.23 259.29,126.86 260.02,127.36 259.57,126.79 259.90,126.30 259.33,124.65 259.79,123.21 259.16,122.39 260.73,120.44 259.79,120.23 259.56,117.54 259.62,117.50 260.88,115.62 260.81,113.63 261.01,113.01 260.97,111.62 260.94,110.06 260.54,109.09 261.02,108.23 262.09,106.96 261.67,104.88 261.72,103.98 262.46,103.57 261.94,101.63 262.94,100.85 263.92,99.78 263.85,98.58 264.27,97.57 265.02,96.04 264.99,95.17 265.92,93.43 267.32,92.74 268.32,90.21 267.97,89.70 268.83,88.43 269.95,87.33 270.42,87.71 271.99,85.94 271.77,85.40 273.53,82.86 273.74,82.23 275.59,80.42 277.32,79.32 276.66,78.92 276.96,77.43 277.49,76.07 278.07,74.49 279.59,73.40 279.24,72.42 279.45,70.48 280.06,69.44 280.18,69.34 280.38,67.90 282.26,66.53 281.23,65.00 281.80,64.01 283.40,62.26 282.83,61.59 283.51,60.05 284.63,59.83 285.07,57.32 286.32,57.12 286.47,54.58 286.50,53.84 287.73,52.39 288.78,52.20 289.63,51.09 288.83,49.43 289.65,48.86 291.45,47.56 291.28,45.37 293.00,45.17 293.49,43.95 294.58,42.74 294.53,41.77 295.38,41.20 296.90,39.06 296.16,38.52 297.71,36.75 297.63,35.29 297.99,34.66 299.76,33.58 299.65,31.37 301.46,30.81 301.20,29.81 302.29,28.29 301.83,27.52 302.78,24.93 303.73,24.39 304.91,22.48 305.97,21.99 306.03,21.56 307.99,20.65 308.95,18.75 310.28,19.04 311.05,18.25 312.88,17.00 313.96,17.45 314.85,15.54 315.26,16.08 316.97,16.31 318.33,15.36 320.09,15.96 321.31,15.43 322.00,15.90" stroke="#c4502c" stroke-width="3.2" fill="none" stroke-linejoin="round" stroke-linecap="round" />
<polyline points="206.00,31.50 208.50,34.00 211.00,39.50 213.00,43.00 216.00,46.00" stroke="#e42a24" stroke-width="3.0" fill="none" stroke-linejoin="round" stroke-linecap="round" />
<polyline points="218.50,49.50 221.50,54.50" stroke="#e42a24" stroke-width="3.0" fill="none" stroke-linejoin="round" stroke-linecap="round" />
<polyline points="258.30,106.00 259.10,116.50 259.30,121.00" stroke="#e42a24" stroke-width="2.6" fill="none" stroke-linejoin="round" stroke-linecap="round" />
<polyline points="258.80,120.00 259.50,127.00" stroke="#9040a0" stroke-width="3.0" fill="none" stroke-linejoin="round" stroke-linecap="round" />
</g>
<rect x="188.6" y="14.2" width="132.4" height="119.2" fill="none" stroke="#3a3a3a" stroke-width="1.3" />
<line x1="188.6" y1="133.4" x2="191.6" y2="133.4" stroke="#444" stroke-width="0.8" />
<line x1="321" y1="133.4" x2="318" y2="133.4" stroke="#444" stroke-width="0.8" />
<text x="186" y="136.0" font-size="7.2" fill="#222" stroke="#222" stroke-width="0.22" text-anchor="end">10<tspan font-size="4.8" dy="-3">-4</tspan></text>
<line x1="188.6" y1="111.12" x2="191.6" y2="111.12" stroke="#444" stroke-width="0.8" />
<line x1="321" y1="111.12" x2="318" y2="111.12" stroke="#444" stroke-width="0.8" />
<text x="186" y="113.7" font-size="7.2" fill="#222" stroke="#222" stroke-width="0.22" text-anchor="end">10<tspan font-size="4.8" dy="-3">-3</tspan></text>
<line x1="188.6" y1="88.84" x2="191.6" y2="88.84" stroke="#444" stroke-width="0.8" />
<line x1="321" y1="88.84" x2="318" y2="88.84" stroke="#444" stroke-width="0.8" />
<text x="186" y="91.4" font-size="7.2" fill="#222" stroke="#222" stroke-width="0.22" text-anchor="end">10<tspan font-size="4.8" dy="-3">-2</tspan></text>
<line x1="188.6" y1="66.56" x2="191.6" y2="66.56" stroke="#444" stroke-width="0.8" />
<line x1="321" y1="66.56" x2="318" y2="66.56" stroke="#444" stroke-width="0.8" />
<text x="186" y="69.2" font-size="7.2" fill="#222" stroke="#222" stroke-width="0.22" text-anchor="end">10<tspan font-size="4.8" dy="-3">-1</tspan></text>
<line x1="188.6" y1="44.28" x2="191.6" y2="44.28" stroke="#444" stroke-width="0.8" />
<line x1="321" y1="44.28" x2="318" y2="44.28" stroke="#444" stroke-width="0.8" />
<text x="186" y="46.9" font-size="7.2" fill="#222" stroke="#222" stroke-width="0.22" text-anchor="end">10<tspan font-size="4.8" dy="-3">0</tspan></text>
<line x1="188.6" y1="22.0" x2="191.6" y2="22.0" stroke="#444" stroke-width="0.8" />
<line x1="321" y1="22.0" x2="318" y2="22.0" stroke="#444" stroke-width="0.8" />
<text x="186" y="24.6" font-size="7.2" fill="#222" stroke="#222" stroke-width="0.22" text-anchor="end">10<tspan font-size="4.8" dy="-3">1</tspan></text>
<line x1="188.6" y1="133.4" x2="188.6" y2="130.4" stroke="#444" stroke-width="0.8" />
<text x="188.6" y="141" font-size="7.4" fill="#222" stroke="#222" stroke-width="0.22" font-weight="normal" font-style="normal" text-anchor="middle" >-1.5</text>
<line x1="210.66666666666666" y1="133.4" x2="210.66666666666666" y2="130.4" stroke="#444" stroke-width="0.8" />
<text x="210.7" y="141" font-size="7.4" fill="#222" stroke="#222" stroke-width="0.22" font-weight="normal" font-style="normal" text-anchor="middle" >-1.0</text>
<line x1="232.73333333333332" y1="133.4" x2="232.73333333333332" y2="130.4" stroke="#444" stroke-width="0.8" />
<text x="232.7" y="141" font-size="7.4" fill="#222" stroke="#222" stroke-width="0.22" font-weight="normal" font-style="normal" text-anchor="middle" >-0.5</text>
<line x1="254.8" y1="133.4" x2="254.8" y2="130.4" stroke="#444" stroke-width="0.8" />
<text x="254.8" y="141" font-size="7.4" fill="#222" stroke="#222" stroke-width="0.22" font-weight="normal" font-style="normal" text-anchor="middle" >0.0</text>
<line x1="276.8666666666667" y1="133.4" x2="276.8666666666667" y2="130.4" stroke="#444" stroke-width="0.8" />
<text x="276.9" y="141" font-size="7.4" fill="#222" stroke="#222" stroke-width="0.22" font-weight="normal" font-style="normal" text-anchor="middle" >0.5</text>
<line x1="298.93333333333334" y1="133.4" x2="298.93333333333334" y2="130.4" stroke="#444" stroke-width="0.8" />
<text x="298.9" y="141" font-size="7.4" fill="#222" stroke="#222" stroke-width="0.22" font-weight="normal" font-style="normal" text-anchor="middle" >1.0</text>
<line x1="321.0" y1="133.4" x2="321.0" y2="130.4" stroke="#444" stroke-width="0.8" />
<text x="321.0" y="141" font-size="7.4" fill="#222" stroke="#222" stroke-width="0.22" font-weight="normal" font-style="normal" text-anchor="middle" >1.5</text>
<text x="254.9" y="156.2" font-size="11" fill="#222" stroke="#222" stroke-width="0.22" font-weight="normal" font-style="normal" text-anchor="middle" >Bias (V)</text>
<text x="0" y="0" font-size="11.6" fill="#222" stroke="#222" stroke-width="0.22" text-anchor="middle" transform="translate(169.9,69.2) rotate(-90)">Current (nA)</text>
<text x="210" y="27.6" font-size="8.6" fill="#222" stroke="#222" stroke-width="0.22">MoS<tspan font-size="5.6" dy="2">2</tspan><tspan dy="-2">/mSAM</tspan></text>
<rect x="285.3" y="105.7" width="2.2" height="2.2" fill="#111" stroke="none" stroke-width="1" />
<text x="291.5" y="109.0" font-size="6.6" fill="#222" stroke="#222" stroke-width="0.22" font-weight="normal" font-style="normal" text-anchor="start" >TRANS 1</text>
<rect x="285.3" y="115.0" width="2.2" height="2.2" fill="#8a6a40" stroke="none" stroke-width="1" />
<text x="291.5" y="118.3" font-size="6.6" fill="#222" stroke="#222" stroke-width="0.22" font-weight="normal" font-style="normal" text-anchor="start" >CIS</text>
<rect x="285.3" y="123.3" width="2.2" height="2.2" fill="#3a3aa8" stroke="none" stroke-width="1" />
<text x="291.5" y="126.6" font-size="6.6" fill="#222" stroke="#222" stroke-width="0.22" font-weight="normal" font-style="normal" text-anchor="start" >TRANS 2</text>
<text x="358.6" y="16" font-size="15" fill="#000" stroke="#000" stroke-width="0.1" font-weight="bold" font-style="normal" text-anchor="start" >(c)</text>
<rect x="348" y="23.599999999999998" width="63" height="5.2" rx="2.6" fill="#5a5a5a"/>
<ellipse cx="350" cy="26.2" rx="5.5" ry="3.0" fill="url(#ggray)"/>
<ellipse cx="357" cy="26.2" rx="4.5" ry="2.8" fill="url(#ggray)"/>
<ellipse cx="366.5" cy="26.2" rx="4.3" ry="4.2" fill="url(#ggray)"/>
<ellipse cx="373" cy="26.2" rx="3" ry="2.6" fill="url(#ggray)"/>
<ellipse cx="380.3" cy="26.2" rx="4.6" ry="4.5" fill="url(#ggray)"/>
<ellipse cx="387.5" cy="26.2" rx="4" ry="3.2" fill="url(#ggray)"/>
<ellipse cx="394" cy="26.2" rx="4" ry="3.3" fill="url(#ggray)"/>
<ellipse cx="401" cy="26.2" rx="4" ry="3.3" fill="url(#ggray)"/>
<ellipse cx="409" cy="26.2" rx="4.3" ry="3.5" fill="url(#ggray)"/>
<rect x="344.5" y="133.4" width="63.0" height="5.2" rx="2.6" fill="#5a5a5a"/>
<ellipse cx="346.5" cy="136" rx="5.5" ry="3.0" fill="url(#ggray)"/>
<ellipse cx="353.5" cy="136" rx="4.5" ry="2.8" fill="url(#ggray)"/>
<ellipse cx="363.0" cy="136" rx="4.3" ry="4.2" fill="url(#ggray)"/>
<ellipse cx="369.5" cy="136" rx="3" ry="2.6" fill="url(#ggray)"/>
<ellipse cx="376.8" cy="136" rx="4.6" ry="4.5" fill="url(#ggray)"/>
<ellipse cx="384.0" cy="136" rx="4" ry="3.2" fill="url(#ggray)"/>
<ellipse cx="390.5" cy="136" rx="4" ry="3.3" fill="url(#ggray)"/>
<ellipse cx="397.5" cy="136" rx="4" ry="3.3" fill="url(#ggray)"/>
<ellipse cx="405.5" cy="136" rx="4.3" ry="3.5" fill="url(#ggray)"/>
<rect x="476" y="31.6" width="65" height="5.2" rx="2.6" fill="#5a5a5a"/>
<ellipse cx="478" cy="34.2" rx="5.5" ry="3.2" fill="url(#ggray)"/>
<ellipse cx="485" cy="34.2" rx="4.5" ry="2.8" fill="url(#ggray)"/>
<ellipse cx="493.5" cy="34.2" rx="4.2" ry="4.0" fill="url(#ggray)"/>
<ellipse cx="500" cy="34.2" rx="3" ry="2.6" fill="url(#ggray)"/>
<ellipse cx="507.5" cy="34.2" rx="4.5" ry="4.3" fill="url(#ggray)"/>
<ellipse cx="514" cy="34.2" rx="3.2" ry="2.8" fill="url(#ggray)"/>
<ellipse cx="520.5" cy="34.2" rx="4.2" ry="3.6" fill="url(#ggray)"/>
<ellipse cx="527" cy="34.2" rx="4" ry="3.4" fill="url(#ggray)"/>
<ellipse cx="533.5" cy="34.2" rx="4" ry="3.6" fill="url(#ggray)"/>
<ellipse cx="539" cy="34.2" rx="3.6" ry="3.6" fill="url(#ggray)"/>
<rect x="476" y="122.7" width="65" height="5.2" rx="2.6" fill="#5a5a5a"/>
<ellipse cx="478" cy="125.3" rx="5.5" ry="3.2" fill="url(#ggray)"/>
<ellipse cx="485" cy="125.3" rx="4.5" ry="2.8" fill="url(#ggray)"/>
<ellipse cx="493.5" cy="125.3" rx="4.2" ry="4.0" fill="url(#ggray)"/>
<ellipse cx="500" cy="125.3" rx="3" ry="2.6" fill="url(#ggray)"/>
<ellipse cx="507.5" cy="125.3" rx="4.5" ry="4.3" fill="url(#ggray)"/>
<ellipse cx="514" cy="125.3" rx="3.2" ry="2.8" fill="url(#ggray)"/>
<ellipse cx="520.5" cy="125.3" rx="4.2" ry="3.6" fill="url(#ggray)"/>
<ellipse cx="527" cy="125.3" rx="4" ry="3.4" fill="url(#ggray)"/>
<ellipse cx="533.5" cy="125.3" rx="4" ry="3.6" fill="url(#ggray)"/>
<ellipse cx="539" cy="125.3" rx="3.6" ry="3.6" fill="url(#ggray)"/>
<rect x="369" y="36" width="21.5" height="41" fill="#b0f0f4" stroke="none" stroke-width="1" />
<rect x="369.5" y="77" width="16" height="56" fill="#c4f4f6" stroke="none" stroke-width="1" />
<circle cx="377.5" cy="35.2" r="3.7" fill="url(#ggreen)" stroke="none" stroke-width="1" />
<circle cx="384.5" cy="36.2" r="3.4" fill="url(#ggreen)" stroke="none" stroke-width="1" />
<circle cx="374.5" cy="42" r="3.9" fill="url(#gcyan)" stroke="none" stroke-width="1" />
<circle cx="381" cy="41.5" r="3.9" fill="url(#gcyan)" stroke="none" stroke-width="1" />
<circle cx="385.5" cy="45" r="3.9" fill="url(#gcyan)" stroke="none" stroke-width="1" />
<circle cx="375.5" cy="47" r="3.9" fill="url(#glav)" stroke="none" stroke-width="1" />
<circle cx="382" cy="48.5" r="3.9" fill="url(#gcyan)" stroke="none" stroke-width="1" />
<circle cx="374" cy="52" r="3.9" fill="url(#gcyan)" stroke="none" stroke-width="1" />
<circle cx="380" cy="53.5" r="3.9" fill="url(#gcyan)" stroke="none" stroke-width="1" />
<circle cx="385.5" cy="51.5" r="3.9" fill="url(#gcyan)" stroke="none" stroke-width="1" />
<circle cx="373.5" cy="63.5" r="3.9" fill="url(#gcyan)" stroke="none" stroke-width="1" />
<circle cx="380" cy="64.5" r="3.9" fill="url(#gcyan)" stroke="none" stroke-width="1" />
<circle cx="385" cy="66" r="3.9" fill="url(#gcyan)" stroke="none" stroke-width="1" />
<circle cx="374.5" cy="69.5" r="3.9" fill="url(#glav)" stroke="none" stroke-width="1" />
<circle cx="381" cy="71" r="3.9" fill="url(#gcyan)" stroke="none" stroke-width="1" />
<circle cx="376" cy="74.5" r="3.9" fill="url(#gcyan)" stroke="none" stroke-width="1" />
<circle cx="378.5" cy="58.2" r="3.9" fill="url(#gblue)" stroke="none" stroke-width="1" />
<circle cx="383.5" cy="58.6" r="3.0" fill="url(#gblue)" stroke="none" stroke-width="1" />
<circle cx="374.5" cy="77.2" r="2.3" fill="url(#gdgreen)" stroke="none" stroke-width="1" />
<circle cx="376.5" cy="80.5" r="3.9" fill="url(#gcyan)" stroke="none" stroke-width="1" />
<circle cx="381.5" cy="83.9" r="3.9" fill="url(#gcyan)" stroke="none" stroke-width="1" />
<circle cx="376.5" cy="87.30000000000001" r="3.9" fill="url(#gcyan)" stroke="none" stroke-width="1" />
<circle cx="381.5" cy="90.70000000000002" r="3.9" fill="url(#glav)" stroke="none" stroke-width="1" />
<circle cx="376.5" cy="94.10000000000002" r="3.9" fill="url(#gcyan)" stroke="none" stroke-width="1" />
<circle cx="381.5" cy="97.50000000000003" r="3.9" fill="url(#gcyan)" stroke="none" stroke-width="1" />
<circle cx="376.5" cy="100.90000000000003" r="3.9" fill="url(#gcyan)" stroke="none" stroke-width="1" />
<circle cx="381.5" cy="104.30000000000004" r="3.9" fill="url(#gcyan)" stroke="none" stroke-width="1" />
<circle cx="376.5" cy="107.70000000000005" r="3.9" fill="url(#gcyan)" stroke="none" stroke-width="1" />
<circle cx="381.5" cy="111.10000000000005" r="3.9" fill="url(#gcyan)" stroke="none" stroke-width="1" />
<circle cx="376.5" cy="114.50000000000006" r="3.9" fill="url(#glav)" stroke="none" stroke-width="1" />
<circle cx="381.5" cy="117.90000000000006" r="3.9" fill="url(#gcyan)" stroke="none" stroke-width="1" />
<circle cx="376.5" cy="121.30000000000007" r="3.9" fill="url(#gcyan)" stroke="none" stroke-width="1" />
<circle cx="381.5" cy="124.70000000000007" r="3.9" fill="url(#gcyan)" stroke="none" stroke-width="1" />
<circle cx="376.5" cy="128.10000000000008" r="3.9" fill="url(#gcyan)" stroke="none" stroke-width="1" />
<circle cx="374" cy="128.5" r="3.6" fill="url(#gcyan)" stroke="none" stroke-width="1" />
<circle cx="382" cy="128.8" r="3.5" fill="url(#gcyan)" stroke="none" stroke-width="1" />
<circle cx="378" cy="131.2" r="2.6" fill="url(#gdgreen)" stroke="none" stroke-width="1" />
<line x1="367" y1="31" x2="367" y2="131.5" stroke="#222" stroke-width="0.9" />
<polygon points="367.00,30.00 365.30,34.50 368.70,34.50" fill="#222" stroke="none" stroke-width="1" />
<polygon points="367.00,132.00 365.30,127.50 368.70,127.50" fill="#222" stroke="none" stroke-width="1" />
<text x="356.6" y="85.5" font-size="8" fill="#222" stroke="#222" stroke-width="0.22" font-weight="normal" font-style="normal" text-anchor="start" >h1</text>
<rect x="496" y="39.4" width="23.5" height="78" fill="#b4f2f4" stroke="none" stroke-width="1" />
<rect x="510" y="39.4" width="17" height="16" fill="#b4f2f4" stroke="none" stroke-width="1" />
<circle cx="514" cy="41.5" r="3.9" fill="url(#gcyan)" stroke="none" stroke-width="1" />
<circle cx="519.5" cy="42.5" r="3.9" fill="url(#gcyan)" stroke="none" stroke-width="1" />
<circle cx="523.5" cy="45" r="3.9" fill="url(#gcyan)" stroke="none" stroke-width="1" />
<circle cx="516" cy="47" r="3.9" fill="url(#gcyan)" stroke="none" stroke-width="1" />
<circle cx="521" cy="49.5" r="3.9" fill="url(#gcyan)" stroke="none" stroke-width="1" />
<circle cx="506.5" cy="43.8" r="4.3" fill="url(#gblue)" stroke="none" stroke-width="1" />
<circle cx="527" cy="51.6" r="3.6" fill="url(#ggreen)" stroke="none" stroke-width="1" />
<circle cx="521.5" cy="56" r="3.0" fill="url(#ggreen)" stroke="none" stroke-width="1" />
<circle cx="500.5" cy="49" r="3.9" fill="url(#gcyan)" stroke="none" stroke-width="1" />
<circle cx="506.5" cy="50.5" r="3.9" fill="url(#glav)" stroke="none" stroke-width="1" />
<circle cx="511" cy="53" r="3.9" fill="url(#gcyan)" stroke="none" stroke-width="1" />
<circle cx="501" cy="55" r="3.9" fill="url(#gcyan)" stroke="none" stroke-width="1" />
<circle cx="507" cy="57" r="3.9" fill="url(#gcyan)" stroke="none" stroke-width="1" />
<circle cx="501.8" cy="63" r="2.4" fill="url(#gdgreen)" stroke="none" stroke-width="1" />
<circle cx="505.5" cy="65.5" r="3.9" fill="url(#gcyan)" stroke="none" stroke-width="1" />
<circle cx="510.5" cy="68.9" r="3.9" fill="url(#gcyan)" stroke="none" stroke-width="1" />
<circle cx="505.5" cy="72.30000000000001" r="3.9" fill="url(#glav)" stroke="none" stroke-width="1" />
<circle cx="510.5" cy="75.70000000000002" r="3.9" fill="url(#gcyan)" stroke="none" stroke-width="1" />
<circle cx="505.5" cy="79.10000000000002" r="3.9" fill="url(#gcyan)" stroke="none" stroke-width="1" />
<circle cx="510.5" cy="82.50000000000003" r="3.9" fill="url(#gcyan)" stroke="none" stroke-width="1" />
<circle cx="505.5" cy="85.90000000000003" r="3.9" fill="url(#gcyan)" stroke="none" stroke-width="1" />
<circle cx="510.5" cy="89.30000000000004" r="3.9" fill="url(#gcyan)" stroke="none" stroke-width="1" />
<circle cx="505.5" cy="92.70000000000005" r="3.9" fill="url(#gcyan)" stroke="none" stroke-width="1" />
<circle cx="510.5" cy="96.10000000000005" r="3.9" fill="url(#glav)" stroke="none" stroke-width="1" />
<circle cx="505.5" cy="99.50000000000006" r="3.9" fill="url(#gcyan)" stroke="none" stroke-width="1" />
<circle cx="510.5" cy="102.90000000000006" r="3.9" fill="url(#gcyan)" stroke="none" stroke-width="1" />
<circle cx="510.6" cy="105.8" r="2.3" fill="url(#gdgreen)" stroke="none" stroke-width="1" />
<circle cx="501" cy="109.5" r="3.9" fill="url(#gcyan)" stroke="none" stroke-width="1" />
<circle cx="507.5" cy="109" r="3.9" fill="url(#glav)" stroke="none" stroke-width="1" />
<circle cx="513.5" cy="110.5" r="3.9" fill="url(#gcyan)" stroke="none" stroke-width="1" />
<circle cx="503.5" cy="115" r="3.9" fill="url(#gcyan)" stroke="none" stroke-width="1" />
<circle cx="510.5" cy="115.5" r="3.9" fill="url(#gcyan)" stroke="none" stroke-width="1" />
<circle cx="516" cy="114.5" r="3.9" fill="url(#gcyan)" stroke="none" stroke-width="1" />
<circle cx="508" cy="120.5" r="2.6" fill="url(#gdgreen)" stroke="none" stroke-width="1" />
<line x1="532.8" y1="38" x2="532.8" y2="120.5" stroke="#222" stroke-width="0.9" />
<polygon points="532.80,37.50 531.10,42.00 534.50,42.00" fill="#222" stroke="none" stroke-width="1" />
<polygon points="532.80,121.00 531.10,116.50 534.50,116.50" fill="#222" stroke="none" stroke-width="1" />
<text x="536.5" y="85.5" font-size="8" fill="#222" stroke="#222" stroke-width="0.22" font-weight="normal" font-style="normal" text-anchor="start" >h2</text>
<polyline points="410.54,59.25 403.70,63.20 396.86,59.25 396.86,51.35 403.70,47.40 410.54,51.35 410.54,59.25" stroke="#333" stroke-width="1.3" fill="none" stroke-linejoin="round" stroke-linecap="round" />
<line x1="402.96" y1="60.56" x2="399.51" y2="58.57" stroke="#333" stroke-width="1.04" />
<line x1="399.51" y1="52.03" x2="402.96" y2="50.04" stroke="#333" stroke-width="1.04" />
<line x1="408.63" y1="53.31" x2="408.63" y2="57.29" stroke="#333" stroke-width="1.04" />
<line x1="403.7" y1="63.2" x2="404.6" y2="67.8" stroke="#333" stroke-width="1.2" />
<text x="403.2" y="73.3" font-size="5.2" fill="#333" stroke="#333" stroke-width="0.22" font-weight="normal" font-style="normal" text-anchor="start" >N</text>
<line x1="402.6" y1="72.8" x2="399.3" y2="76.2" stroke="#333" stroke-width="0.8" />
<line x1="403.6" y1="73.8" x2="400.3" y2="77.2" stroke="#333" stroke-width="0.8" />
<text x="395.3" y="80.6" font-size="5.2" fill="#333" stroke="#333" stroke-width="0.22" font-weight="normal" font-style="normal" text-anchor="start" >N</text>
<line x1="396.8" y1="80.6" x2="396.8" y2="82.8" stroke="#333" stroke-width="1.2" />
<polyline points="403.64,94.65 396.80,98.60 389.96,94.65 389.96,86.75 396.80,82.80 403.64,86.75 403.64,94.65" stroke="#333" stroke-width="1.3" fill="none" stroke-linejoin="round" stroke-linecap="round" />
<line x1="400.99" y1="93.97" x2="397.54" y2="95.96" stroke="#333" stroke-width="1.04" />
<line x1="391.87" y1="92.69" x2="391.87" y2="88.71" stroke="#333" stroke-width="1.04" />
<line x1="397.54" y1="85.44" x2="400.99" y2="87.43" stroke="#333" stroke-width="1.04" />
<text x="388.5" y="110.6" font-size="8.5" fill="#222" stroke="#222" stroke-width="0.22" font-weight="normal" font-style="normal" text-anchor="start" >Trans</text>
<text x="416.2" y="65" font-size="8.6" fill="#222" stroke="#222" stroke-width="0.22" font-weight="normal" font-style="normal" text-anchor="start" >Ultraviolet</text>
<text x="418" y="74.8" font-size="8.6" fill="#222" stroke="#222" stroke-width="0.22" font-weight="normal" font-style="normal" text-anchor="start" >(360 nm)</text>
<line x1="409.6" y1="78.7" x2="462" y2="78.7" stroke="#222" stroke-width="0.9" />
<polygon points="462.00,78.70 458.80,80.30 458.80,77.10" fill="#222" stroke="none" stroke-width="1" />
<line x1="462" y1="86.9" x2="409.6" y2="86.9" stroke="#222" stroke-width="0.9" />
<polygon points="409.60,86.90 412.80,85.30 412.80,88.50" fill="#222" stroke="none" stroke-width="1" />
<text x="409.6" y="98.5" font-size="8.6" fill="#222" stroke="#222" stroke-width="0.22" font-weight="normal" font-style="normal" text-anchor="start" >Vis (430 nm)</text>
<text x="426.3" y="132.5" font-size="8.8" fill="#222" stroke="#222" stroke-width="0.22" font-weight="normal" font-style="normal" text-anchor="start" >h1&gt;h2</text>
<text x="468.2" y="82" font-size="5.2" fill="#333" stroke="#333" stroke-width="0.22" font-weight="normal" font-style="normal" text-anchor="start" >N</text>
<text x="476.8" y="76" font-size="5.2" fill="#333" stroke="#333" stroke-width="0.22" font-weight="normal" font-style="normal" text-anchor="start" >N</text>
<line x1="471.8" y1="78.3" x2="476.2" y2="75.0" stroke="#333" stroke-width="0.8" />
<line x1="472.4" y1="79.3" x2="476.8" y2="76.0" stroke="#333" stroke-width="0.8" />
<line x1="480.8" y1="73.6" x2="484.8" y2="75.3" stroke="#333" stroke-width="1.2" />
<polyline points="497.78,83.00 491.20,86.80 484.62,83.00 484.62,75.40 491.20,71.60 497.78,75.40 497.78,83.00" stroke="#333" stroke-width="1.3" fill="none" stroke-linejoin="round" stroke-linecap="round" />
<line x1="495.23" y1="82.35" x2="491.91" y2="84.26" stroke="#333" stroke-width="1.04" />
<line x1="486.46" y1="81.12" x2="486.46" y2="77.28" stroke="#333" stroke-width="1.04" />
<line x1="491.91" y1="74.14" x2="495.23" y2="76.05" stroke="#333" stroke-width="1.04" />
<line x1="470.5" y1="82.5" x2="472" y2="86.8" stroke="#333" stroke-width="1.2" />
<polyline points="478.99,99.35 471.80,103.50 464.61,99.35 464.61,91.05 471.80,86.90 478.99,91.05 478.99,99.35" stroke="#333" stroke-width="1.3" fill="none" stroke-linejoin="round" stroke-linecap="round" />
<line x1="471.02" y1="100.73" x2="467.4" y2="98.64" stroke="#333" stroke-width="1.04" />
<line x1="467.4" y1="91.76" x2="471.02" y2="89.67" stroke="#333" stroke-width="1.04" />
<line x1="476.98" y1="93.11" x2="476.98" y2="97.29" stroke="#333" stroke-width="1.04" />
<text x="465.6" y="114.2" font-size="8.3" fill="#222" stroke="#222" stroke-width="0.22" font-weight="normal" font-style="normal" text-anchor="start" >Cis</text>
<text x="2.6" y="164.8" font-size="16" fill="#000" stroke="#000" stroke-width="0.1" font-weight="bold" font-style="normal" text-anchor="start" >(d)</text>
<clipPath id="cd"><rect x="36" y="170" width="140" height="106.89999999999998"/></clipPath>
<g clip-path="url(#cd)">
<polygon points="42.67,180.37 42.98,180.43 43.29,180.49 43.60,180.56 43.91,180.62 44.22,180.69 44.52,180.75 44.83,180.82 45.14,180.88 45.45,180.95 45.76,181.01 46.06,181.08 46.37,181.15 46.68,181.21 46.99,181.28 47.30,181.35 47.60,181.42 47.91,181.49 48.22,181.56 48.53,181.63 48.84,181.70 49.15,181.77 49.45,181.84 49.76,181.91 50.07,181.98 50.38,182.05 50.69,182.12 50.99,182.20 51.30,182.27 51.61,182.34 51.92,182.42 52.23,182.49 52.53,182.57 52.84,182.64 53.15,182.72 53.46,182.79 53.77,182.87 54.08,182.95 54.38,183.02 54.69,183.10 55.00,183.18 55.31,183.26 55.62,183.34 55.92,183.42 56.23,183.50 56.54,183.58 56.85,183.66 57.16,183.74 57.46,183.83 57.77,183.91 58.08,183.99 58.39,184.08 58.70,184.16 59.01,184.25 59.31,184.33 59.62,184.42 59.93,184.51 60.24,184.60 60.55,184.68 60.85,184.77 61.16,184.86 61.47,184.95 61.78,185.04 62.09,185.14 62.39,185.23 62.70,185.32 63.01,185.41 63.32,185.51 63.63,185.60 63.94,185.70 64.24,185.80 64.55,185.89 64.86,185.99 65.17,186.09 65.48,186.19 65.78,186.29 66.09,186.39 66.40,186.49 66.71,186.60 67.02,186.70 67.32,186.81 67.63,186.91 67.94,187.02 68.25,187.12 68.56,187.23 68.87,187.34 69.17,187.45 69.48,187.56 69.79,187.67 70.10,187.79 70.41,187.90 70.71,188.02 71.02,188.13 71.33,188.25 71.64,188.37 71.95,188.49 72.25,188.61 72.56,188.73 72.87,188.85 73.18,188.98 73.49,189.10 73.80,189.23 74.10,189.36 74.41,189.49 74.72,189.62 75.03,189.75 75.34,189.88 75.64,190.02 75.95,190.15 76.26,190.29 76.57,190.43 76.88,190.57 77.19,190.71 77.49,190.86 77.80,191.00 78.11,191.15 78.42,191.30 78.73,191.45 79.03,191.60 79.34,191.76 79.65,191.91 79.96,192.07 80.27,192.23 80.57,192.40 80.88,192.56 81.19,192.73 81.50,192.90 81.81,193.07 82.11,193.24 82.42,193.42 82.73,193.60 83.04,193.78 83.35,193.96 83.66,194.15 83.96,194.34 84.27,194.53 84.58,194.73 84.89,194.93 85.20,195.13 85.50,195.33 85.81,195.54 86.12,195.75 86.43,195.97 86.74,196.19 87.04,196.41 87.35,196.64 87.66,196.87 87.97,197.10 88.28,197.34 88.59,197.59 88.89,197.84 89.20,198.09 89.51,198.35 89.82,198.62 90.13,198.89 90.43,199.17 90.74,199.45 91.05,199.74 91.36,200.03 91.67,200.34 91.97,200.65 92.28,200.97 92.59,201.30 92.90,201.63 93.21,201.98 93.52,202.33 93.82,202.70 94.13,203.07 94.44,203.46 94.75,203.86 95.06,204.27 95.36,204.70 95.67,205.14 95.98,205.60 96.29,206.08 96.60,206.57 96.91,207.09 97.21,207.62 97.52,208.18 97.83,208.77 98.14,209.38 98.45,210.03 98.75,210.71 99.06,211.43 99.37,212.20 99.68,213.01 99.99,213.88 100.29,214.81 100.60,215.82 100.91,216.92 101.22,218.12 101.53,219.45 101.83,220.93 102.14,222.61 102.45,224.56 102.76,226.85 103.07,229.67 103.38,233.29 103.68,238.40 103.99,247.13 104.30,276.90 104.61,247.13 104.92,238.40 105.22,233.29 105.53,229.67 105.84,226.85 106.15,224.56 106.46,222.61 106.77,220.93 107.07,219.45 107.38,218.12 107.69,216.92 108.00,215.82 108.31,214.81 108.61,213.88 108.92,213.01 109.23,212.20 109.54,211.43 109.85,210.71 110.15,210.03 110.46,209.38 110.77,208.77 111.08,208.18 111.39,207.62 111.69,207.09 112.00,206.57 112.31,206.08 112.62,205.60 112.93,205.14 113.24,204.70 113.54,204.27 113.85,203.86 114.16,203.46 114.47,203.07 114.78,202.70 115.08,202.33 115.39,201.98 115.70,201.63 116.01,201.30 116.32,200.97 116.62,200.65 116.93,200.34 117.24,200.03 117.55,199.74 117.86,199.45 118.17,199.17 118.47,198.89 118.78,198.62 119.09,198.35 119.40,198.09 119.71,197.84 120.01,197.59 120.32,197.34 120.63,197.10 120.94,196.87 121.25,196.64 121.56,196.41 121.86,196.19 122.17,195.97 122.48,195.75 122.79,195.54 123.10,195.33 123.40,195.13 123.71,194.93 124.02,194.73 124.33,194.53 124.64,194.34 124.94,194.15 125.25,193.96 125.56,193.78 125.87,193.60 126.18,193.42 126.48,193.24 126.79,193.07 127.10,192.90 127.41,192.73 127.72,192.56 128.03,192.40 128.33,192.23 128.64,192.07 128.95,191.91 129.26,191.76 129.57,191.60 129.87,191.45 130.18,191.30 130.49,191.15 130.80,191.00 131.11,190.86 131.41,190.71 131.72,190.57 132.03,190.43 132.34,190.29 132.65,190.15 132.96,190.02 133.26,189.88 133.57,189.75 133.88,189.62 134.19,189.49 134.50,189.36 134.80,189.23 135.11,189.10 135.42,188.98 135.73,188.85 136.04,188.73 136.34,188.61 136.65,188.49 136.96,188.37 137.27,188.25 137.58,188.13 137.89,188.02 138.19,187.90 138.50,187.79 138.81,187.67 139.12,187.56 139.43,187.45 139.73,187.34 140.04,187.23 140.35,187.12 140.66,187.02 140.97,186.91 141.28,186.81 141.58,186.70 141.89,186.60 142.20,186.49 142.51,186.39 142.82,186.29 143.12,186.19 143.43,186.09 143.74,185.99 144.05,185.89 144.36,185.80 144.66,185.70 144.97,185.60 145.28,185.51 145.59,185.41 145.90,185.32 146.20,185.23 146.51,185.14 146.82,185.04 147.13,184.95 147.44,184.86 147.75,184.77 148.05,184.68 148.36,184.60 148.67,184.51 148.98,184.42 149.29,184.33 149.59,184.25 149.90,184.16 150.21,184.08 150.52,183.99 150.83,183.91 151.13,183.83 151.44,183.74 151.75,183.66 152.06,183.58 152.37,183.50 152.68,183.42 152.98,183.34 153.29,183.26 153.60,183.18 153.91,183.10 154.22,183.02 154.52,182.95 154.83,182.87 155.14,182.79 155.45,182.72 155.76,182.64 156.06,182.57 156.37,182.49 156.68,182.42 156.99,182.34 157.30,182.27 157.61,182.20 157.91,182.12 158.22,182.05 158.53,181.98 158.84,181.91 159.15,181.84 159.45,181.77 159.76,181.70 160.07,181.63 160.38,181.56 160.69,181.49 161.00,181.42 161.30,181.35 161.61,181.28 161.92,181.21 162.23,181.15 162.54,181.08 162.84,181.01 163.15,180.95 163.46,180.88 163.77,180.82 164.08,180.75 164.38,180.69 164.69,180.62 165.00,180.56 165.31,180.49 165.62,180.43 165.93,180.37 165.93,186.77 165.62,186.83 165.31,186.89 165.00,186.96 164.69,187.02 164.38,187.09 164.08,187.15 163.77,187.22 163.46,187.28 163.15,187.35 162.84,187.41 162.54,187.48 162.23,187.55 161.92,187.61 161.61,187.68 161.30,187.75 161.00,187.82 160.69,187.89 160.38,187.96 160.07,188.03 159.76,188.10 159.45,188.17 159.15,188.24 158.84,188.31 158.53,188.38 158.22,188.45 157.91,188.52 157.61,188.60 157.30,188.67 156.99,188.74 156.68,188.82 156.37,188.89 156.06,188.97 155.76,189.04 155.45,189.12 155.14,189.19 154.83,189.27 154.52,189.35 154.22,189.42 153.91,189.50 153.60,189.58 153.29,189.66 152.98,189.74 152.68,189.82 152.37,189.90 152.06,189.98 151.75,190.06 151.44,190.14 151.13,190.23 150.83,190.31 150.52,190.39 150.21,190.48 149.90,190.56 149.59,190.65 149.29,190.73 148.98,190.82 148.67,190.91 148.36,191.00 148.05,191.08 147.75,191.17 147.44,191.26 147.13,191.35 146.82,191.44 146.51,191.54 146.20,191.63 145.90,191.72 145.59,191.81 145.28,191.91 144.97,192.00 144.66,192.10 144.36,192.20 144.05,192.29 143.74,192.39 143.43,192.49 143.12,192.59 142.82,192.69 142.51,192.79 142.20,192.89 141.89,193.00 141.58,193.10 141.28,193.21 140.97,193.31 140.66,193.42 140.35,193.52 140.04,193.63 139.73,193.74 139.43,193.85 139.12,193.96 138.81,194.07 138.50,194.19 138.19,194.30 137.89,194.42 137.58,194.53 137.27,194.65 136.96,194.77 136.65,194.89 136.34,195.01 136.04,195.13 135.73,195.25 135.42,195.38 135.11,195.50 134.80,195.63 134.50,195.76 134.19,195.89 133.88,196.02 133.57,196.15 133.26,196.28 132.96,196.42 132.65,196.55 132.34,196.69 132.03,196.83 131.72,196.97 131.41,197.11 131.11,197.26 130.80,197.40 130.49,197.55 130.18,197.70 129.87,197.85 129.57,198.00 129.26,198.16 128.95,198.31 128.64,198.47 128.33,198.63 128.03,198.80 127.72,198.96 127.41,199.13 127.10,199.30 126.79,199.47 126.48,199.64 126.18,199.82 125.87,200.00 125.56,200.18 125.25,200.36 124.94,200.55 124.64,200.74 124.33,200.93 124.02,201.13 123.71,201.33 123.40,201.53 123.10,201.73 122.79,201.94 122.48,202.15 122.17,202.37 121.86,202.59 121.56,202.81 121.25,203.04 120.94,203.27 120.63,203.50 120.32,203.74 120.01,203.99 119.71,204.24 119.40,204.49 119.09,204.75 118.78,205.02 118.47,205.29 118.17,205.57 117.86,205.85 117.55,206.14 117.24,206.43 116.93,206.74 116.62,207.05 116.32,207.37 116.01,207.70 115.70,208.03 115.39,208.38 115.08,208.73 114.78,209.10 114.47,209.47 114.16,209.86 113.85,210.26 113.54,210.67 113.24,211.10 112.93,211.54 112.62,212.00 112.31,212.48 112.00,212.97 111.69,213.49 111.39,214.02 111.08,214.58 110.77,215.17 110.46,215.78 110.15,216.43 109.85,217.11 109.54,217.83 109.23,218.60 108.92,219.41 108.61,220.28 108.31,221.21 108.00,222.22 107.69,223.32 107.38,224.52 107.07,225.85 106.77,227.33 106.46,229.01 106.15,230.96 105.84,233.25 105.53,236.07 105.22,239.69 104.92,244.80 104.61,253.53 104.30,276.90 103.99,253.53 103.68,244.80 103.38,239.69 103.07,236.07 102.76,233.25 102.45,230.96 102.14,229.01 101.83,227.33 101.53,225.85 101.22,224.52 100.91,223.32 100.60,222.22 100.29,221.21 99.99,220.28 99.68,219.41 99.37,218.60 99.06,217.83 98.75,217.11 98.45,216.43 98.14,215.78 97.83,215.17 97.52,214.58 97.21,214.02 96.91,213.49 96.60,212.97 96.29,212.48 95.98,212.00 95.67,211.54 95.36,211.10 95.06,210.67 94.75,210.26 94.44,209.86 94.13,209.47 93.82,209.10 93.52,208.73 93.21,208.38 92.90,208.03 92.59,207.70 92.28,207.37 91.97,207.05 91.67,206.74 91.36,206.43 91.05,206.14 90.74,205.85 90.43,205.57 90.13,205.29 89.82,205.02 89.51,204.75 89.20,204.49 88.89,204.24 88.59,203.99 88.28,203.74 87.97,203.50 87.66,203.27 87.35,203.04 87.04,202.81 86.74,202.59 86.43,202.37 86.12,202.15 85.81,201.94 85.50,201.73 85.20,201.53 84.89,201.33 84.58,201.13 84.27,200.93 83.96,200.74 83.66,200.55 83.35,200.36 83.04,200.18 82.73,200.00 82.42,199.82 82.11,199.64 81.81,199.47 81.50,199.30 81.19,199.13 80.88,198.96 80.57,198.80 80.27,198.63 79.96,198.47 79.65,198.31 79.34,198.16 79.03,198.00 78.73,197.85 78.42,197.70 78.11,197.55 77.80,197.40 77.49,197.26 77.19,197.11 76.88,196.97 76.57,196.83 76.26,196.69 75.95,196.55 75.64,196.42 75.34,196.28 75.03,196.15 74.72,196.02 74.41,195.89 74.10,195.76 73.80,195.63 73.49,195.50 73.18,195.38 72.87,195.25 72.56,195.13 72.25,195.01 71.95,194.89 71.64,194.77 71.33,194.65 71.02,194.53 70.71,194.42 70.41,194.30 70.10,194.19 69.79,194.07 69.48,193.96 69.17,193.85 68.87,193.74 68.56,193.63 68.25,193.52 67.94,193.42 67.63,193.31 67.32,193.21 67.02,193.10 66.71,193.00 66.40,192.89 66.09,192.79 65.78,192.69 65.48,192.59 65.17,192.49 64.86,192.39 64.55,192.29 64.24,192.20 63.94,192.10 63.63,192.00 63.32,191.91 63.01,191.81 62.70,191.72 62.39,191.63 62.09,191.54 61.78,191.44 61.47,191.35 61.16,191.26 60.85,191.17 60.55,191.08 60.24,191.00 59.93,190.91 59.62,190.82 59.31,190.73 59.01,190.65 58.70,190.56 58.39,190.48 58.08,190.39 57.77,190.31 57.46,190.23 57.16,190.14 56.85,190.06 56.54,189.98 56.23,189.90 55.92,189.82 55.62,189.74 55.31,189.66 55.00,189.58 54.69,189.50 54.38,189.42 54.08,189.35 53.77,189.27 53.46,189.19 53.15,189.12 52.84,189.04 52.53,188.97 52.23,188.89 51.92,188.82 51.61,188.74 51.30,188.67 50.99,188.60 50.69,188.52 50.38,188.45 50.07,188.38 49.76,188.31 49.45,188.24 49.15,188.17 48.84,188.10 48.53,188.03 48.22,187.96 47.91,187.89 47.60,187.82 47.30,187.75 46.99,187.68 46.68,187.61 46.37,187.55 46.06,187.48 45.76,187.41 45.45,187.35 45.14,187.28 44.83,187.22 44.52,187.15 44.22,187.09 43.91,187.02 43.60,186.96 43.29,186.89 42.98,186.83 42.67,186.77" fill="#f6c8c8" stroke="none" stroke-width="1" />
<polyline points="42.67,180.37 42.98,180.43 43.29,180.49 43.60,180.56 43.91,180.62 44.22,180.69 44.52,180.75 44.83,180.82 45.14,180.88 45.45,180.95 45.76,181.01 46.06,181.08 46.37,181.15 46.68,181.21 46.99,181.28 47.30,181.35 47.60,181.42 47.91,181.49 48.22,181.56 48.53,181.63 48.84,181.70 49.15,181.77 49.45,181.84 49.76,181.91 50.07,181.98 50.38,182.05 50.69,182.12 50.99,182.20 51.30,182.27 51.61,182.34 51.92,182.42 52.23,182.49 52.53,182.57 52.84,182.64 53.15,182.72 53.46,182.79 53.77,182.87 54.08,182.95 54.38,183.02 54.69,183.10 55.00,183.18 55.31,183.26 55.62,183.34 55.92,183.42 56.23,183.50 56.54,183.58 56.85,183.66 57.16,183.74 57.46,183.83 57.77,183.91 58.08,183.99 58.39,184.08 58.70,184.16 59.01,184.25 59.31,184.33 59.62,184.42 59.93,184.51 60.24,184.60 60.55,184.68 60.85,184.77 61.16,184.86 61.47,184.95 61.78,185.04 62.09,185.14 62.39,185.23 62.70,185.32 63.01,185.41 63.32,185.51 63.63,185.60 63.94,185.70 64.24,185.80 64.55,185.89 64.86,185.99 65.17,186.09 65.48,186.19 65.78,186.29 66.09,186.39 66.40,186.49 66.71,186.60 67.02,186.70 67.32,186.81 67.63,186.91 67.94,187.02 68.25,187.12 68.56,187.23 68.87,187.34 69.17,187.45 69.48,187.56 69.79,187.67 70.10,187.79 70.41,187.90 70.71,188.02 71.02,188.13 71.33,188.25 71.64,188.37 71.95,188.49 72.25,188.61 72.56,188.73 72.87,188.85 73.18,188.98 73.49,189.10 73.80,189.23 74.10,189.36 74.41,189.49 74.72,189.62 75.03,189.75 75.34,189.88 75.64,190.02 75.95,190.15 76.26,190.29 76.57,190.43 76.88,190.57 77.19,190.71 77.49,190.86 77.80,191.00 78.11,191.15 78.42,191.30 78.73,191.45 79.03,191.60 79.34,191.76 79.65,191.91 79.96,192.07 80.27,192.23 80.57,192.40 80.88,192.56 81.19,192.73 81.50,192.90 81.81,193.07 82.11,193.24 82.42,193.42 82.73,193.60 83.04,193.78 83.35,193.96 83.66,194.15 83.96,194.34 84.27,194.53 84.58,194.73 84.89,194.93 85.20,195.13 85.50,195.33 85.81,195.54 86.12,195.75 86.43,195.97 86.74,196.19 87.04,196.41 87.35,196.64 87.66,196.87 87.97,197.10 88.28,197.34 88.59,197.59 88.89,197.84 89.20,198.09 89.51,198.35 89.82,198.62 90.13,198.89 90.43,199.17 90.74,199.45 91.05,199.74 91.36,200.03 91.67,200.34 91.97,200.65 92.28,200.97 92.59,201.30 92.90,201.63 93.21,201.98 93.52,202.33 93.82,202.70 94.13,203.07 94.44,203.46 94.75,203.86 95.06,204.27 95.36,204.70 95.67,205.14 95.98,205.60 96.29,206.08 96.60,206.57 96.91,207.09 97.21,207.62 97.52,208.18 97.83,208.77 98.14,209.38 98.45,210.03 98.75,210.71 99.06,211.43 99.37,212.20 99.68,213.01 99.99,213.88 100.29,214.81 100.60,215.82 100.91,216.92 101.22,218.12 101.53,219.45 101.83,220.93 102.14,222.61 102.45,224.56 102.76,226.85 103.07,229.67 103.38,233.29 103.68,238.40 103.99,247.13 104.30,276.90 104.61,247.13 104.92,238.40 105.22,233.29 105.53,229.67 105.84,226.85 106.15,224.56 106.46,222.61 106.77,220.93 107.07,219.45 107.38,218.12 107.69,216.92 108.00,215.82 108.31,214.81 108.61,213.88 108.92,213.01 109.23,212.20 109.54,211.43 109.85,210.71 110.15,210.03 110.46,209.38 110.77,208.77 111.08,208.18 111.39,207.62 111.69,207.09 112.00,206.57 112.31,206.08 112.62,205.60 112.93,205.14 113.24,204.70 113.54,204.27 113.85,203.86 114.16,203.46 114.47,203.07 114.78,202.70 115.08,202.33 115.39,201.98 115.70,201.63 116.01,201.30 116.32,200.97 116.62,200.65 116.93,200.34 117.24,200.03 117.55,199.74 117.86,199.45 118.17,199.17 118.47,198.89 118.78,198.62 119.09,198.35 119.40,198.09 119.71,197.84 120.01,197.59 120.32,197.34 120.63,197.10 120.94,196.87 121.25,196.64 121.56,196.41 121.86,196.19 122.17,195.97 122.48,195.75 122.79,195.54 123.10,195.33 123.40,195.13 123.71,194.93 124.02,194.73 124.33,194.53 124.64,194.34 124.94,194.15 125.25,193.96 125.56,193.78 125.87,193.60 126.18,193.42 126.48,193.24 126.79,193.07 127.10,192.90 127.41,192.73 127.72,192.56 128.03,192.40 128.33,192.23 128.64,192.07 128.95,191.91 129.26,191.76 129.57,191.60 129.87,191.45 130.18,191.30 130.49,191.15 130.80,191.00 131.11,190.86 131.41,190.71 131.72,190.57 132.03,190.43 132.34,190.29 132.65,190.15 132.96,190.02 133.26,189.88 133.57,189.75 133.88,189.62 134.19,189.49 134.50,189.36 134.80,189.23 135.11,189.10 135.42,188.98 135.73,188.85 136.04,188.73 136.34,188.61 136.65,188.49 136.96,188.37 137.27,188.25 137.58,188.13 137.89,188.02 138.19,187.90 138.50,187.79 138.81,187.67 139.12,187.56 139.43,187.45 139.73,187.34 140.04,187.23 140.35,187.12 140.66,187.02 140.97,186.91 141.28,186.81 141.58,186.70 141.89,186.60 142.20,186.49 142.51,186.39 142.82,186.29 143.12,186.19 143.43,186.09 143.74,185.99 144.05,185.89 144.36,185.80 144.66,185.70 144.97,185.60 145.28,185.51 145.59,185.41 145.90,185.32 146.20,185.23 146.51,185.14 146.82,185.04 147.13,184.95 147.44,184.86 147.75,184.77 148.05,184.68 148.36,184.60 148.67,184.51 148.98,184.42 149.29,184.33 149.59,184.25 149.90,184.16 150.21,184.08 150.52,183.99 150.83,183.91 151.13,183.83 151.44,183.74 151.75,183.66 152.06,183.58 152.37,183.50 152.68,183.42 152.98,183.34 153.29,183.26 153.60,183.18 153.91,183.10 154.22,183.02 154.52,182.95 154.83,182.87 155.14,182.79 155.45,182.72 155.76,182.64 156.06,182.57 156.37,182.49 156.68,182.42 156.99,182.34 157.30,182.27 157.61,182.20 157.91,182.12 158.22,182.05 158.53,181.98 158.84,181.91 159.15,181.84 159.45,181.77 159.76,181.70 160.07,181.63 160.38,181.56 160.69,181.49 161.00,181.42 161.30,181.35 161.61,181.28 161.92,181.21 162.23,181.15 162.54,181.08 162.84,181.01 163.15,180.95 163.46,180.88 163.77,180.82 164.08,180.75 164.38,180.69 164.69,180.62 165.00,180.56 165.31,180.49 165.62,180.43 165.93,180.37" stroke="#e08080" stroke-width="0.6" fill="none" stroke-linejoin="round" stroke-linecap="round" />
<polyline points="42.67,186.77 42.98,186.83 43.29,186.89 43.60,186.96 43.91,187.02 44.22,187.09 44.52,187.15 44.83,187.22 45.14,187.28 45.45,187.35 45.76,187.41 46.06,187.48 46.37,187.55 46.68,187.61 46.99,187.68 47.30,187.75 47.60,187.82 47.91,187.89 48.22,187.96 48.53,188.03 48.84,188.10 49.15,188.17 49.45,188.24 49.76,188.31 50.07,188.38 50.38,188.45 50.69,188.52 50.99,188.60 51.30,188.67 51.61,188.74 51.92,188.82 52.23,188.89 52.53,188.97 52.84,189.04 53.15,189.12 53.46,189.19 53.77,189.27 54.08,189.35 54.38,189.42 54.69,189.50 55.00,189.58 55.31,189.66 55.62,189.74 55.92,189.82 56.23,189.90 56.54,189.98 56.85,190.06 57.16,190.14 57.46,190.23 57.77,190.31 58.08,190.39 58.39,190.48 58.70,190.56 59.01,190.65 59.31,190.73 59.62,190.82 59.93,190.91 60.24,191.00 60.55,191.08 60.85,191.17 61.16,191.26 61.47,191.35 61.78,191.44 62.09,191.54 62.39,191.63 62.70,191.72 63.01,191.81 63.32,191.91 63.63,192.00 63.94,192.10 64.24,192.20 64.55,192.29 64.86,192.39 65.17,192.49 65.48,192.59 65.78,192.69 66.09,192.79 66.40,192.89 66.71,193.00 67.02,193.10 67.32,193.21 67.63,193.31 67.94,193.42 68.25,193.52 68.56,193.63 68.87,193.74 69.17,193.85 69.48,193.96 69.79,194.07 70.10,194.19 70.41,194.30 70.71,194.42 71.02,194.53 71.33,194.65 71.64,194.77 71.95,194.89 72.25,195.01 72.56,195.13 72.87,195.25 73.18,195.38 73.49,195.50 73.80,195.63 74.10,195.76 74.41,195.89 74.72,196.02 75.03,196.15 75.34,196.28 75.64,196.42 75.95,196.55 76.26,196.69 76.57,196.83 76.88,196.97 77.19,197.11 77.49,197.26 77.80,197.40 78.11,197.55 78.42,197.70 78.73,197.85 79.03,198.00 79.34,198.16 79.65,198.31 79.96,198.47 80.27,198.63 80.57,198.80 80.88,198.96 81.19,199.13 81.50,199.30 81.81,199.47 82.11,199.64 82.42,199.82 82.73,200.00 83.04,200.18 83.35,200.36 83.66,200.55 83.96,200.74 84.27,200.93 84.58,201.13 84.89,201.33 85.20,201.53 85.50,201.73 85.81,201.94 86.12,202.15 86.43,202.37 86.74,202.59 87.04,202.81 87.35,203.04 87.66,203.27 87.97,203.50 88.28,203.74 88.59,203.99 88.89,204.24 89.20,204.49 89.51,204.75 89.82,205.02 90.13,205.29 90.43,205.57 90.74,205.85 91.05,206.14 91.36,206.43 91.67,206.74 91.97,207.05 92.28,207.37 92.59,207.70 92.90,208.03 93.21,208.38 93.52,208.73 93.82,209.10 94.13,209.47 94.44,209.86 94.75,210.26 95.06,210.67 95.36,211.10 95.67,211.54 95.98,212.00 96.29,212.48 96.60,212.97 96.91,213.49 97.21,214.02 97.52,214.58 97.83,215.17 98.14,215.78 98.45,216.43 98.75,217.11 99.06,217.83 99.37,218.60 99.68,219.41 99.99,220.28 100.29,221.21 100.60,222.22 100.91,223.32 101.22,224.52 101.53,225.85 101.83,227.33 102.14,229.01 102.45,230.96 102.76,233.25 103.07,236.07 103.38,239.69 103.68,244.80 103.99,253.53 104.30,276.90 104.61,253.53 104.92,244.80 105.22,239.69 105.53,236.07 105.84,233.25 106.15,230.96 106.46,229.01 106.77,227.33 107.07,225.85 107.38,224.52 107.69,223.32 108.00,222.22 108.31,221.21 108.61,220.28 108.92,219.41 109.23,218.60 109.54,217.83 109.85,217.11 110.15,216.43 110.46,215.78 110.77,215.17 111.08,214.58 111.39,214.02 111.69,213.49 112.00,212.97 112.31,212.48 112.62,212.00 112.93,211.54 113.24,211.10 113.54,210.67 113.85,210.26 114.16,209.86 114.47,209.47 114.78,209.10 115.08,208.73 115.39,208.38 115.70,208.03 116.01,207.70 116.32,207.37 116.62,207.05 116.93,206.74 117.24,206.43 117.55,206.14 117.86,205.85 118.17,205.57 118.47,205.29 118.78,205.02 119.09,204.75 119.40,204.49 119.71,204.24 120.01,203.99 120.32,203.74 120.63,203.50 120.94,203.27 121.25,203.04 121.56,202.81 121.86,202.59 122.17,202.37 122.48,202.15 122.79,201.94 123.10,201.73 123.40,201.53 123.71,201.33 124.02,201.13 124.33,200.93 124.64,200.74 124.94,200.55 125.25,200.36 125.56,200.18 125.87,200.00 126.18,199.82 126.48,199.64 126.79,199.47 127.10,199.30 127.41,199.13 127.72,198.96 128.03,198.80 128.33,198.63 128.64,198.47 128.95,198.31 129.26,198.16 129.57,198.00 129.87,197.85 130.18,197.70 130.49,197.55 130.80,197.40 131.11,197.26 131.41,197.11 131.72,196.97 132.03,196.83 132.34,196.69 132.65,196.55 132.96,196.42 133.26,196.28 133.57,196.15 133.88,196.02 134.19,195.89 134.50,195.76 134.80,195.63 135.11,195.50 135.42,195.38 135.73,195.25 136.04,195.13 136.34,195.01 136.65,194.89 136.96,194.77 137.27,194.65 137.58,194.53 137.89,194.42 138.19,194.30 138.50,194.19 138.81,194.07 139.12,193.96 139.43,193.85 139.73,193.74 140.04,193.63 140.35,193.52 140.66,193.42 140.97,193.31 141.28,193.21 141.58,193.10 141.89,193.00 142.20,192.89 142.51,192.79 142.82,192.69 143.12,192.59 143.43,192.49 143.74,192.39 144.05,192.29 144.36,192.20 144.66,192.10 144.97,192.00 145.28,191.91 145.59,191.81 145.90,191.72 146.20,191.63 146.51,191.54 146.82,191.44 147.13,191.35 147.44,191.26 147.75,191.17 148.05,191.08 148.36,191.00 148.67,190.91 148.98,190.82 149.29,190.73 149.59,190.65 149.90,190.56 150.21,190.48 150.52,190.39 150.83,190.31 151.13,190.23 151.44,190.14 151.75,190.06 152.06,189.98 152.37,189.90 152.68,189.82 152.98,189.74 153.29,189.66 153.60,189.58 153.91,189.50 154.22,189.42 154.52,189.35 154.83,189.27 155.14,189.19 155.45,189.12 155.76,189.04 156.06,188.97 156.37,188.89 156.68,188.82 156.99,188.74 157.30,188.67 157.61,188.60 157.91,188.52 158.22,188.45 158.53,188.38 158.84,188.31 159.15,188.24 159.45,188.17 159.76,188.10 160.07,188.03 160.38,187.96 160.69,187.89 161.00,187.82 161.30,187.75 161.61,187.68 161.92,187.61 162.23,187.55 162.54,187.48 162.84,187.41 163.15,187.35 163.46,187.28 163.77,187.22 164.08,187.15 164.38,187.09 164.69,187.02 165.00,186.96 165.31,186.89 165.62,186.83 165.93,186.77" stroke="#e08080" stroke-width="0.6" fill="none" stroke-linejoin="round" stroke-linecap="round" />
<polyline points="42.67,183.57 42.98,183.63 43.29,183.69 43.60,183.76 43.91,183.82 44.22,183.89 44.52,183.95 44.83,184.02 45.14,184.08 45.45,184.15 45.76,184.21 46.06,184.28 46.37,184.35 46.68,184.41 46.99,184.48 47.30,184.55 47.60,184.62 47.91,184.69 48.22,184.76 48.53,184.83 48.84,184.90 49.15,184.97 49.45,185.04 49.76,185.11 50.07,185.18 50.38,185.25 50.69,185.32 50.99,185.40 51.30,185.47 51.61,185.54 51.92,185.62 52.23,185.69 52.53,185.77 52.84,185.84 53.15,185.92 53.46,185.99 53.77,186.07 54.08,186.15 54.38,186.22 54.69,186.30 55.00,186.38 55.31,186.46 55.62,186.54 55.92,186.62 56.23,186.70 56.54,186.78 56.85,186.86 57.16,186.94 57.46,187.03 57.77,187.11 58.08,187.19 58.39,187.28 58.70,187.36 59.01,187.45 59.31,187.53 59.62,187.62 59.93,187.71 60.24,187.80 60.55,187.88 60.85,187.97 61.16,188.06 61.47,188.15 61.78,188.24 62.09,188.34 62.39,188.43 62.70,188.52 63.01,188.61 63.32,188.71 63.63,188.80 63.94,188.90 64.24,189.00 64.55,189.09 64.86,189.19 65.17,189.29 65.48,189.39 65.78,189.49 66.09,189.59 66.40,189.69 66.71,189.80 67.02,189.90 67.32,190.01 67.63,190.11 67.94,190.22 68.25,190.32 68.56,190.43 68.87,190.54 69.17,190.65 69.48,190.76 69.79,190.87 70.10,190.99 70.41,191.10 70.71,191.22 71.02,191.33 71.33,191.45 71.64,191.57 71.95,191.69 72.25,191.81 72.56,191.93 72.87,192.05 73.18,192.18 73.49,192.30 73.80,192.43 74.10,192.56 74.41,192.69 74.72,192.82 75.03,192.95 75.34,193.08 75.64,193.22 75.95,193.35 76.26,193.49 76.57,193.63 76.88,193.77 77.19,193.91 77.49,194.06 77.80,194.20 78.11,194.35 78.42,194.50 78.73,194.65 79.03,194.80 79.34,194.96 79.65,195.11 79.96,195.27 80.27,195.43 80.57,195.60 80.88,195.76 81.19,195.93 81.50,196.10 81.81,196.27 82.11,196.44 82.42,196.62 82.73,196.80 83.04,196.98 83.35,197.16 83.66,197.35 83.96,197.54 84.27,197.73 84.58,197.93 84.89,198.13 85.20,198.33 85.50,198.53 85.81,198.74 86.12,198.95 86.43,199.17 86.74,199.39 87.04,199.61 87.35,199.84 87.66,200.07 87.97,200.30 88.28,200.54 88.59,200.79 88.89,201.04 89.20,201.29 89.51,201.55 89.82,201.82 90.13,202.09 90.43,202.37 90.74,202.65 91.05,202.94 91.36,203.23 91.67,203.54 91.97,203.85 92.28,204.17 92.59,204.50 92.90,204.83 93.21,205.18 93.52,205.53 93.82,205.90 94.13,206.27 94.44,206.66 94.75,207.06 95.06,207.47 95.36,207.90 95.67,208.34 95.98,208.80 96.29,209.28 96.60,209.77 96.91,210.29 97.21,210.82 97.52,211.38 97.83,211.97 98.14,212.58 98.45,213.23 98.75,213.91 99.06,214.63 99.37,215.40 99.68,216.21 99.99,217.08 100.29,218.01 100.60,219.02 100.91,220.12 101.22,221.32 101.53,222.65 101.83,224.13 102.14,225.81 102.45,227.76 102.76,230.05 103.07,232.87 103.38,236.49 103.68,241.60 103.99,250.33 104.30,276.90 104.61,250.33 104.92,241.60 105.22,236.49 105.53,232.87 105.84,230.05 106.15,227.76 106.46,225.81 106.77,224.13 107.07,222.65 107.38,221.32 107.69,220.12 108.00,219.02 108.31,218.01 108.61,217.08 108.92,216.21 109.23,215.40 109.54,214.63 109.85,213.91 110.15,213.23 110.46,212.58 110.77,211.97 111.08,211.38 111.39,210.82 111.69,210.29 112.00,209.77 112.31,209.28 112.62,208.80 112.93,208.34 113.24,207.90 113.54,207.47 113.85,207.06 114.16,206.66 114.47,206.27 114.78,205.90 115.08,205.53 115.39,205.18 115.70,204.83 116.01,204.50 116.32,204.17 116.62,203.85 116.93,203.54 117.24,203.23 117.55,202.94 117.86,202.65 118.17,202.37 118.47,202.09 118.78,201.82 119.09,201.55 119.40,201.29 119.71,201.04 120.01,200.79 120.32,200.54 120.63,200.30 120.94,200.07 121.25,199.84 121.56,199.61 121.86,199.39 122.17,199.17 122.48,198.95 122.79,198.74 123.10,198.53 123.40,198.33 123.71,198.13 124.02,197.93 124.33,197.73 124.64,197.54 124.94,197.35 125.25,197.16 125.56,196.98 125.87,196.80 126.18,196.62 126.48,196.44 126.79,196.27 127.10,196.10 127.41,195.93 127.72,195.76 128.03,195.60 128.33,195.43 128.64,195.27 128.95,195.11 129.26,194.96 129.57,194.80 129.87,194.65 130.18,194.50 130.49,194.35 130.80,194.20 131.11,194.06 131.41,193.91 131.72,193.77 132.03,193.63 132.34,193.49 132.65,193.35 132.96,193.22 133.26,193.08 133.57,192.95 133.88,192.82 134.19,192.69 134.50,192.56 134.80,192.43 135.11,192.30 135.42,192.18 135.73,192.05 136.04,191.93 136.34,191.81 136.65,191.69 136.96,191.57 137.27,191.45 137.58,191.33 137.89,191.22 138.19,191.10 138.50,190.99 138.81,190.87 139.12,190.76 139.43,190.65 139.73,190.54 140.04,190.43 140.35,190.32 140.66,190.22 140.97,190.11 141.28,190.01 141.58,189.90 141.89,189.80 142.20,189.69 142.51,189.59 142.82,189.49 143.12,189.39 143.43,189.29 143.74,189.19 144.05,189.09 144.36,189.00 144.66,188.90 144.97,188.80 145.28,188.71 145.59,188.61 145.90,188.52 146.20,188.43 146.51,188.34 146.82,188.24 147.13,188.15 147.44,188.06 147.75,187.97 148.05,187.88 148.36,187.80 148.67,187.71 148.98,187.62 149.29,187.53 149.59,187.45 149.90,187.36 150.21,187.28 150.52,187.19 150.83,187.11 151.13,187.03 151.44,186.94 151.75,186.86 152.06,186.78 152.37,186.70 152.68,186.62 152.98,186.54 153.29,186.46 153.60,186.38 153.91,186.30 154.22,186.22 154.52,186.15 154.83,186.07 155.14,185.99 155.45,185.92 155.76,185.84 156.06,185.77 156.37,185.69 156.68,185.62 156.99,185.54 157.30,185.47 157.61,185.40 157.91,185.32 158.22,185.25 158.53,185.18 158.84,185.11 159.15,185.04 159.45,184.97 159.76,184.90 160.07,184.83 160.38,184.76 160.69,184.69 161.00,184.62 161.30,184.55 161.61,184.48 161.92,184.41 162.23,184.35 162.54,184.28 162.84,184.21 163.15,184.15 163.46,184.08 163.77,184.02 164.08,183.95 164.38,183.89 164.69,183.82 165.00,183.76 165.31,183.69 165.62,183.63 165.93,183.57" stroke="#a85a3a" stroke-width="1.3" fill="none" stroke-linejoin="round" stroke-linecap="round" />
<polygon points="42.67,201.96 42.98,202.02 43.29,202.09 43.60,202.15 43.91,202.21 44.22,202.28 44.52,202.34 44.83,202.41 45.14,202.47 45.45,202.54 45.76,202.61 46.06,202.67 46.37,202.74 46.68,202.81 46.99,202.87 47.30,202.94 47.60,203.01 47.91,203.08 48.22,203.15 48.53,203.22 48.84,203.29 49.15,203.36 49.45,203.43 49.76,203.50 50.07,203.57 50.38,203.64 50.69,203.71 50.99,203.79 51.30,203.86 51.61,203.93 51.92,204.01 52.23,204.08 52.53,204.16 52.84,204.23 53.15,204.31 53.46,204.38 53.77,204.46 54.08,204.54 54.38,204.62 54.69,204.69 55.00,204.77 55.31,204.85 55.62,204.93 55.92,205.01 56.23,205.09 56.54,205.17 56.85,205.25 57.16,205.34 57.46,205.42 57.77,205.50 58.08,205.59 58.39,205.67 58.70,205.75 59.01,205.84 59.31,205.93 59.62,206.01 59.93,206.10 60.24,206.19 60.55,206.28 60.85,206.36 61.16,206.45 61.47,206.54 61.78,206.64 62.09,206.73 62.39,206.82 62.70,206.91 63.01,207.01 63.32,207.10 63.63,207.20 63.94,207.29 64.24,207.39 64.55,207.49 64.86,207.58 65.17,207.68 65.48,207.78 65.78,207.88 66.09,207.98 66.40,208.09 66.71,208.19 67.02,208.29 67.32,208.40 67.63,208.50 67.94,208.61 68.25,208.72 68.56,208.82 68.87,208.93 69.17,209.04 69.48,209.15 69.79,209.27 70.10,209.38 70.41,209.49 70.71,209.61 71.02,209.72 71.33,209.84 71.64,209.96 71.95,210.08 72.25,210.20 72.56,210.32 72.87,210.45 73.18,210.57 73.49,210.69 73.80,210.82 74.10,210.95 74.41,211.08 74.72,211.21 75.03,211.34 75.34,211.47 75.64,211.61 75.95,211.75 76.26,211.88 76.57,212.02 76.88,212.16 77.19,212.31 77.49,212.45 77.80,212.60 78.11,212.74 78.42,212.89 78.73,213.04 79.03,213.20 79.34,213.35 79.65,213.51 79.96,213.67 80.27,213.83 80.57,213.99 80.88,214.15 81.19,214.32 81.50,214.49 81.81,214.66 82.11,214.83 82.42,215.01 82.73,215.19 83.04,215.37 83.35,215.55 83.66,215.74 83.96,215.93 84.27,216.12 84.58,216.32 84.89,216.52 85.20,216.72 85.50,216.92 85.81,217.13 86.12,217.34 86.43,217.56 86.74,217.78 87.04,218.00 87.35,218.23 87.66,218.46 87.97,218.70 88.28,218.94 88.59,219.18 88.89,219.43 89.20,219.68 89.51,219.94 89.82,220.21 90.13,220.48 90.43,220.76 90.74,221.04 91.05,221.33 91.36,221.63 91.67,221.93 91.97,222.24 92.28,222.56 92.59,222.89 92.90,223.22 93.21,223.57 93.52,223.92 93.82,224.29 94.13,224.67 94.44,225.05 94.75,225.45 95.06,225.87 95.36,226.29 95.67,226.74 95.98,227.19 96.29,227.67 96.60,228.16 96.91,228.68 97.21,229.21 97.52,229.77 97.83,230.36 98.14,230.98 98.45,231.62 98.75,232.30 99.06,233.02 99.37,233.79 99.68,234.60 99.99,235.47 100.29,236.40 100.60,237.41 100.91,238.51 101.22,239.71 101.53,241.04 101.83,242.52 102.14,244.21 102.45,246.15 102.76,248.45 103.07,251.26 103.38,254.88 103.68,259.99 103.99,268.73 104.30,276.90 104.61,268.73 104.92,259.99 105.22,254.88 105.53,251.26 105.84,248.45 106.15,246.15 106.46,244.21 106.77,242.52 107.07,241.04 107.38,239.71 107.69,238.51 108.00,237.41 108.31,236.40 108.61,235.47 108.92,234.60 109.23,233.79 109.54,233.02 109.85,232.30 110.15,231.62 110.46,230.98 110.77,230.36 111.08,229.77 111.39,229.21 111.69,228.68 112.00,228.16 112.31,227.67 112.62,227.19 112.93,226.74 113.24,226.29 113.54,225.87 113.85,225.45 114.16,225.05 114.47,224.67 114.78,224.29 115.08,223.92 115.39,223.57 115.70,223.22 116.01,222.89 116.32,222.56 116.62,222.24 116.93,221.93 117.24,221.63 117.55,221.33 117.86,221.04 118.17,220.76 118.47,220.48 118.78,220.21 119.09,219.94 119.40,219.68 119.71,219.43 120.01,219.18 120.32,218.94 120.63,218.70 120.94,218.46 121.25,218.23 121.56,218.00 121.86,217.78 122.17,217.56 122.48,217.34 122.79,217.13 123.10,216.92 123.40,216.72 123.71,216.52 124.02,216.32 124.33,216.12 124.64,215.93 124.94,215.74 125.25,215.55 125.56,215.37 125.87,215.19 126.18,215.01 126.48,214.83 126.79,214.66 127.10,214.49 127.41,214.32 127.72,214.15 128.03,213.99 128.33,213.83 128.64,213.67 128.95,213.51 129.26,213.35 129.57,213.20 129.87,213.04 130.18,212.89 130.49,212.74 130.80,212.60 131.11,212.45 131.41,212.31 131.72,212.16 132.03,212.02 132.34,211.88 132.65,211.75 132.96,211.61 133.26,211.47 133.57,211.34 133.88,211.21 134.19,211.08 134.50,210.95 134.80,210.82 135.11,210.69 135.42,210.57 135.73,210.45 136.04,210.32 136.34,210.20 136.65,210.08 136.96,209.96 137.27,209.84 137.58,209.72 137.89,209.61 138.19,209.49 138.50,209.38 138.81,209.27 139.12,209.15 139.43,209.04 139.73,208.93 140.04,208.82 140.35,208.72 140.66,208.61 140.97,208.50 141.28,208.40 141.58,208.29 141.89,208.19 142.20,208.09 142.51,207.98 142.82,207.88 143.12,207.78 143.43,207.68 143.74,207.58 144.05,207.49 144.36,207.39 144.66,207.29 144.97,207.20 145.28,207.10 145.59,207.01 145.90,206.91 146.20,206.82 146.51,206.73 146.82,206.64 147.13,206.54 147.44,206.45 147.75,206.36 148.05,206.28 148.36,206.19 148.67,206.10 148.98,206.01 149.29,205.93 149.59,205.84 149.90,205.75 150.21,205.67 150.52,205.59 150.83,205.50 151.13,205.42 151.44,205.34 151.75,205.25 152.06,205.17 152.37,205.09 152.68,205.01 152.98,204.93 153.29,204.85 153.60,204.77 153.91,204.69 154.22,204.62 154.52,204.54 154.83,204.46 155.14,204.38 155.45,204.31 155.76,204.23 156.06,204.16 156.37,204.08 156.68,204.01 156.99,203.93 157.30,203.86 157.61,203.79 157.91,203.71 158.22,203.64 158.53,203.57 158.84,203.50 159.15,203.43 159.45,203.36 159.76,203.29 160.07,203.22 160.38,203.15 160.69,203.08 161.00,203.01 161.30,202.94 161.61,202.87 161.92,202.81 162.23,202.74 162.54,202.67 162.84,202.61 163.15,202.54 163.46,202.47 163.77,202.41 164.08,202.34 164.38,202.28 164.69,202.21 165.00,202.15 165.31,202.09 165.62,202.02 165.93,201.96 165.93,206.36 165.62,206.42 165.31,206.49 165.00,206.55 164.69,206.61 164.38,206.68 164.08,206.74 163.77,206.81 163.46,206.87 163.15,206.94 162.84,207.01 162.54,207.07 162.23,207.14 161.92,207.21 161.61,207.27 161.30,207.34 161.00,207.41 160.69,207.48 160.38,207.55 160.07,207.62 159.76,207.69 159.45,207.76 159.15,207.83 158.84,207.90 158.53,207.97 158.22,208.04 157.91,208.11 157.61,208.19 157.30,208.26 156.99,208.33 156.68,208.41 156.37,208.48 156.06,208.56 155.76,208.63 155.45,208.71 155.14,208.78 154.83,208.86 154.52,208.94 154.22,209.02 153.91,209.09 153.60,209.17 153.29,209.25 152.98,209.33 152.68,209.41 152.37,209.49 152.06,209.57 151.75,209.65 151.44,209.74 151.13,209.82 150.83,209.90 150.52,209.99 150.21,210.07 149.90,210.15 149.59,210.24 149.29,210.33 148.98,210.41 148.67,210.50 148.36,210.59 148.05,210.68 147.75,210.76 147.44,210.85 147.13,210.94 146.82,211.04 146.51,211.13 146.20,211.22 145.90,211.31 145.59,211.41 145.28,211.50 144.97,211.60 144.66,211.69 144.36,211.79 144.05,211.89 143.74,211.98 143.43,212.08 143.12,212.18 142.82,212.28 142.51,212.38 142.20,212.49 141.89,212.59 141.58,212.69 141.28,212.80 140.97,212.90 140.66,213.01 140.35,213.12 140.04,213.22 139.73,213.33 139.43,213.44 139.12,213.55 138.81,213.67 138.50,213.78 138.19,213.89 137.89,214.01 137.58,214.12 137.27,214.24 136.96,214.36 136.65,214.48 136.34,214.60 136.04,214.72 135.73,214.85 135.42,214.97 135.11,215.09 134.80,215.22 134.50,215.35 134.19,215.48 133.88,215.61 133.57,215.74 133.26,215.87 132.96,216.01 132.65,216.15 132.34,216.28 132.03,216.42 131.72,216.56 131.41,216.71 131.11,216.85 130.80,217.00 130.49,217.14 130.18,217.29 129.87,217.44 129.57,217.60 129.26,217.75 128.95,217.91 128.64,218.07 128.33,218.23 128.03,218.39 127.72,218.55 127.41,218.72 127.10,218.89 126.79,219.06 126.48,219.23 126.18,219.41 125.87,219.59 125.56,219.77 125.25,219.95 124.94,220.14 124.64,220.33 124.33,220.52 124.02,220.72 123.71,220.92 123.40,221.12 123.10,221.32 122.79,221.53 122.48,221.74 122.17,221.96 121.86,222.18 121.56,222.40 121.25,222.63 120.94,222.86 120.63,223.10 120.32,223.34 120.01,223.58 119.71,223.83 119.40,224.08 119.09,224.34 118.78,224.61 118.47,224.88 118.17,225.16 117.86,225.44 117.55,225.73 117.24,226.03 116.93,226.33 116.62,226.64 116.32,226.96 116.01,227.29 115.70,227.62 115.39,227.97 115.08,228.32 114.78,228.69 114.47,229.07 114.16,229.45 113.85,229.85 113.54,230.27 113.24,230.69 112.93,231.14 112.62,231.59 112.31,232.07 112.00,232.56 111.69,233.08 111.39,233.61 111.08,234.17 110.77,234.76 110.46,235.38 110.15,236.02 109.85,236.70 109.54,237.42 109.23,238.19 108.92,239.00 108.61,239.87 108.31,240.80 108.00,241.81 107.69,242.91 107.38,244.11 107.07,245.44 106.77,246.92 106.46,248.61 106.15,250.55 105.84,252.85 105.53,255.66 105.22,259.28 104.92,264.39 104.61,273.13 104.30,276.90 103.99,273.13 103.68,264.39 103.38,259.28 103.07,255.66 102.76,252.85 102.45,250.55 102.14,248.61 101.83,246.92 101.53,245.44 101.22,244.11 100.91,242.91 100.60,241.81 100.29,240.80 99.99,239.87 99.68,239.00 99.37,238.19 99.06,237.42 98.75,236.70 98.45,236.02 98.14,235.38 97.83,234.76 97.52,234.17 97.21,233.61 96.91,233.08 96.60,232.56 96.29,232.07 95.98,231.59 95.67,231.14 95.36,230.69 95.06,230.27 94.75,229.85 94.44,229.45 94.13,229.07 93.82,228.69 93.52,228.32 93.21,227.97 92.90,227.62 92.59,227.29 92.28,226.96 91.97,226.64 91.67,226.33 91.36,226.03 91.05,225.73 90.74,225.44 90.43,225.16 90.13,224.88 89.82,224.61 89.51,224.34 89.20,224.08 88.89,223.83 88.59,223.58 88.28,223.34 87.97,223.10 87.66,222.86 87.35,222.63 87.04,222.40 86.74,222.18 86.43,221.96 86.12,221.74 85.81,221.53 85.50,221.32 85.20,221.12 84.89,220.92 84.58,220.72 84.27,220.52 83.96,220.33 83.66,220.14 83.35,219.95 83.04,219.77 82.73,219.59 82.42,219.41 82.11,219.23 81.81,219.06 81.50,218.89 81.19,218.72 80.88,218.55 80.57,218.39 80.27,218.23 79.96,218.07 79.65,217.91 79.34,217.75 79.03,217.60 78.73,217.44 78.42,217.29 78.11,217.14 77.80,217.00 77.49,216.85 77.19,216.71 76.88,216.56 76.57,216.42 76.26,216.28 75.95,216.15 75.64,216.01 75.34,215.87 75.03,215.74 74.72,215.61 74.41,215.48 74.10,215.35 73.80,215.22 73.49,215.09 73.18,214.97 72.87,214.85 72.56,214.72 72.25,214.60 71.95,214.48 71.64,214.36 71.33,214.24 71.02,214.12 70.71,214.01 70.41,213.89 70.10,213.78 69.79,213.67 69.48,213.55 69.17,213.44 68.87,213.33 68.56,213.22 68.25,213.12 67.94,213.01 67.63,212.90 67.32,212.80 67.02,212.69 66.71,212.59 66.40,212.49 66.09,212.38 65.78,212.28 65.48,212.18 65.17,212.08 64.86,211.98 64.55,211.89 64.24,211.79 63.94,211.69 63.63,211.60 63.32,211.50 63.01,211.41 62.70,211.31 62.39,211.22 62.09,211.13 61.78,211.04 61.47,210.94 61.16,210.85 60.85,210.76 60.55,210.68 60.24,210.59 59.93,210.50 59.62,210.41 59.31,210.33 59.01,210.24 58.70,210.15 58.39,210.07 58.08,209.99 57.77,209.90 57.46,209.82 57.16,209.74 56.85,209.65 56.54,209.57 56.23,209.49 55.92,209.41 55.62,209.33 55.31,209.25 55.00,209.17 54.69,209.09 54.38,209.02 54.08,208.94 53.77,208.86 53.46,208.78 53.15,208.71 52.84,208.63 52.53,208.56 52.23,208.48 51.92,208.41 51.61,208.33 51.30,208.26 50.99,208.19 50.69,208.11 50.38,208.04 50.07,207.97 49.76,207.90 49.45,207.83 49.15,207.76 48.84,207.69 48.53,207.62 48.22,207.55 47.91,207.48 47.60,207.41 47.30,207.34 46.99,207.27 46.68,207.21 46.37,207.14 46.06,207.07 45.76,207.01 45.45,206.94 45.14,206.87 44.83,206.81 44.52,206.74 44.22,206.68 43.91,206.61 43.60,206.55 43.29,206.49 42.98,206.42 42.67,206.36" fill="#d0d0d0" stroke="none" stroke-width="1" />
<polyline points="42.67,201.96 42.98,202.02 43.29,202.09 43.60,202.15 43.91,202.21 44.22,202.28 44.52,202.34 44.83,202.41 45.14,202.47 45.45,202.54 45.76,202.61 46.06,202.67 46.37,202.74 46.68,202.81 46.99,202.87 47.30,202.94 47.60,203.01 47.91,203.08 48.22,203.15 48.53,203.22 48.84,203.29 49.15,203.36 49.45,203.43 49.76,203.50 50.07,203.57 50.38,203.64 50.69,203.71 50.99,203.79 51.30,203.86 51.61,203.93 51.92,204.01 52.23,204.08 52.53,204.16 52.84,204.23 53.15,204.31 53.46,204.38 53.77,204.46 54.08,204.54 54.38,204.62 54.69,204.69 55.00,204.77 55.31,204.85 55.62,204.93 55.92,205.01 56.23,205.09 56.54,205.17 56.85,205.25 57.16,205.34 57.46,205.42 57.77,205.50 58.08,205.59 58.39,205.67 58.70,205.75 59.01,205.84 59.31,205.93 59.62,206.01 59.93,206.10 60.24,206.19 60.55,206.28 60.85,206.36 61.16,206.45 61.47,206.54 61.78,206.64 62.09,206.73 62.39,206.82 62.70,206.91 63.01,207.01 63.32,207.10 63.63,207.20 63.94,207.29 64.24,207.39 64.55,207.49 64.86,207.58 65.17,207.68 65.48,207.78 65.78,207.88 66.09,207.98 66.40,208.09 66.71,208.19 67.02,208.29 67.32,208.40 67.63,208.50 67.94,208.61 68.25,208.72 68.56,208.82 68.87,208.93 69.17,209.04 69.48,209.15 69.79,209.27 70.10,209.38 70.41,209.49 70.71,209.61 71.02,209.72 71.33,209.84 71.64,209.96 71.95,210.08 72.25,210.20 72.56,210.32 72.87,210.45 73.18,210.57 73.49,210.69 73.80,210.82 74.10,210.95 74.41,211.08 74.72,211.21 75.03,211.34 75.34,211.47 75.64,211.61 75.95,211.75 76.26,211.88 76.57,212.02 76.88,212.16 77.19,212.31 77.49,212.45 77.80,212.60 78.11,212.74 78.42,212.89 78.73,213.04 79.03,213.20 79.34,213.35 79.65,213.51 79.96,213.67 80.27,213.83 80.57,213.99 80.88,214.15 81.19,214.32 81.50,214.49 81.81,214.66 82.11,214.83 82.42,215.01 82.73,215.19 83.04,215.37 83.35,215.55 83.66,215.74 83.96,215.93 84.27,216.12 84.58,216.32 84.89,216.52 85.20,216.72 85.50,216.92 85.81,217.13 86.12,217.34 86.43,217.56 86.74,217.78 87.04,218.00 87.35,218.23 87.66,218.46 87.97,218.70 88.28,218.94 88.59,219.18 88.89,219.43 89.20,219.68 89.51,219.94 89.82,220.21 90.13,220.48 90.43,220.76 90.74,221.04 91.05,221.33 91.36,221.63 91.67,221.93 91.97,222.24 92.28,222.56 92.59,222.89 92.90,223.22 93.21,223.57 93.52,223.92 93.82,224.29 94.13,224.67 94.44,225.05 94.75,225.45 95.06,225.87 95.36,226.29 95.67,226.74 95.98,227.19 96.29,227.67 96.60,228.16 96.91,228.68 97.21,229.21 97.52,229.77 97.83,230.36 98.14,230.98 98.45,231.62 98.75,232.30 99.06,233.02 99.37,233.79 99.68,234.60 99.99,235.47 100.29,236.40 100.60,237.41 100.91,238.51 101.22,239.71 101.53,241.04 101.83,242.52 102.14,244.21 102.45,246.15 102.76,248.45 103.07,251.26 103.38,254.88 103.68,259.99 103.99,268.73 104.30,276.90 104.61,268.73 104.92,259.99 105.22,254.88 105.53,251.26 105.84,248.45 106.15,246.15 106.46,244.21 106.77,242.52 107.07,241.04 107.38,239.71 107.69,238.51 108.00,237.41 108.31,236.40 108.61,235.47 108.92,234.60 109.23,233.79 109.54,233.02 109.85,232.30 110.15,231.62 110.46,230.98 110.77,230.36 111.08,229.77 111.39,229.21 111.69,228.68 112.00,228.16 112.31,227.67 112.62,227.19 112.93,226.74 113.24,226.29 113.54,225.87 113.85,225.45 114.16,225.05 114.47,224.67 114.78,224.29 115.08,223.92 115.39,223.57 115.70,223.22 116.01,222.89 116.32,222.56 116.62,222.24 116.93,221.93 117.24,221.63 117.55,221.33 117.86,221.04 118.17,220.76 118.47,220.48 118.78,220.21 119.09,219.94 119.40,219.68 119.71,219.43 120.01,219.18 120.32,218.94 120.63,218.70 120.94,218.46 121.25,218.23 121.56,218.00 121.86,217.78 122.17,217.56 122.48,217.34 122.79,217.13 123.10,216.92 123.40,216.72 123.71,216.52 124.02,216.32 124.33,216.12 124.64,215.93 124.94,215.74 125.25,215.55 125.56,215.37 125.87,215.19 126.18,215.01 126.48,214.83 126.79,214.66 127.10,214.49 127.41,214.32 127.72,214.15 128.03,213.99 128.33,213.83 128.64,213.67 128.95,213.51 129.26,213.35 129.57,213.20 129.87,213.04 130.18,212.89 130.49,212.74 130.80,212.60 131.11,212.45 131.41,212.31 131.72,212.16 132.03,212.02 132.34,211.88 132.65,211.75 132.96,211.61 133.26,211.47 133.57,211.34 133.88,211.21 134.19,211.08 134.50,210.95 134.80,210.82 135.11,210.69 135.42,210.57 135.73,210.45 136.04,210.32 136.34,210.20 136.65,210.08 136.96,209.96 137.27,209.84 137.58,209.72 137.89,209.61 138.19,209.49 138.50,209.38 138.81,209.27 139.12,209.15 139.43,209.04 139.73,208.93 140.04,208.82 140.35,208.72 140.66,208.61 140.97,208.50 141.28,208.40 141.58,208.29 141.89,208.19 142.20,208.09 142.51,207.98 142.82,207.88 143.12,207.78 143.43,207.68 143.74,207.58 144.05,207.49 144.36,207.39 144.66,207.29 144.97,207.20 145.28,207.10 145.59,207.01 145.90,206.91 146.20,206.82 146.51,206.73 146.82,206.64 147.13,206.54 147.44,206.45 147.75,206.36 148.05,206.28 148.36,206.19 148.67,206.10 148.98,206.01 149.29,205.93 149.59,205.84 149.90,205.75 150.21,205.67 150.52,205.59 150.83,205.50 151.13,205.42 151.44,205.34 151.75,205.25 152.06,205.17 152.37,205.09 152.68,205.01 152.98,204.93 153.29,204.85 153.60,204.77 153.91,204.69 154.22,204.62 154.52,204.54 154.83,204.46 155.14,204.38 155.45,204.31 155.76,204.23 156.06,204.16 156.37,204.08 156.68,204.01 156.99,203.93 157.30,203.86 157.61,203.79 157.91,203.71 158.22,203.64 158.53,203.57 158.84,203.50 159.15,203.43 159.45,203.36 159.76,203.29 160.07,203.22 160.38,203.15 160.69,203.08 161.00,203.01 161.30,202.94 161.61,202.87 161.92,202.81 162.23,202.74 162.54,202.67 162.84,202.61 163.15,202.54 163.46,202.47 163.77,202.41 164.08,202.34 164.38,202.28 164.69,202.21 165.00,202.15 165.31,202.09 165.62,202.02 165.93,201.96" stroke="#777" stroke-width="0.6" fill="none" stroke-linejoin="round" stroke-linecap="round" />
<polyline points="42.67,206.36 42.98,206.42 43.29,206.49 43.60,206.55 43.91,206.61 44.22,206.68 44.52,206.74 44.83,206.81 45.14,206.87 45.45,206.94 45.76,207.01 46.06,207.07 46.37,207.14 46.68,207.21 46.99,207.27 47.30,207.34 47.60,207.41 47.91,207.48 48.22,207.55 48.53,207.62 48.84,207.69 49.15,207.76 49.45,207.83 49.76,207.90 50.07,207.97 50.38,208.04 50.69,208.11 50.99,208.19 51.30,208.26 51.61,208.33 51.92,208.41 52.23,208.48 52.53,208.56 52.84,208.63 53.15,208.71 53.46,208.78 53.77,208.86 54.08,208.94 54.38,209.02 54.69,209.09 55.00,209.17 55.31,209.25 55.62,209.33 55.92,209.41 56.23,209.49 56.54,209.57 56.85,209.65 57.16,209.74 57.46,209.82 57.77,209.90 58.08,209.99 58.39,210.07 58.70,210.15 59.01,210.24 59.31,210.33 59.62,210.41 59.93,210.50 60.24,210.59 60.55,210.68 60.85,210.76 61.16,210.85 61.47,210.94 61.78,211.04 62.09,211.13 62.39,211.22 62.70,211.31 63.01,211.41 63.32,211.50 63.63,211.60 63.94,211.69 64.24,211.79 64.55,211.89 64.86,211.98 65.17,212.08 65.48,212.18 65.78,212.28 66.09,212.38 66.40,212.49 66.71,212.59 67.02,212.69 67.32,212.80 67.63,212.90 67.94,213.01 68.25,213.12 68.56,213.22 68.87,213.33 69.17,213.44 69.48,213.55 69.79,213.67 70.10,213.78 70.41,213.89 70.71,214.01 71.02,214.12 71.33,214.24 71.64,214.36 71.95,214.48 72.25,214.60 72.56,214.72 72.87,214.85 73.18,214.97 73.49,215.09 73.80,215.22 74.10,215.35 74.41,215.48 74.72,215.61 75.03,215.74 75.34,215.87 75.64,216.01 75.95,216.15 76.26,216.28 76.57,216.42 76.88,216.56 77.19,216.71 77.49,216.85 77.80,217.00 78.11,217.14 78.42,217.29 78.73,217.44 79.03,217.60 79.34,217.75 79.65,217.91 79.96,218.07 80.27,218.23 80.57,218.39 80.88,218.55 81.19,218.72 81.50,218.89 81.81,219.06 82.11,219.23 82.42,219.41 82.73,219.59 83.04,219.77 83.35,219.95 83.66,220.14 83.96,220.33 84.27,220.52 84.58,220.72 84.89,220.92 85.20,221.12 85.50,221.32 85.81,221.53 86.12,221.74 86.43,221.96 86.74,222.18 87.04,222.40 87.35,222.63 87.66,222.86 87.97,223.10 88.28,223.34 88.59,223.58 88.89,223.83 89.20,224.08 89.51,224.34 89.82,224.61 90.13,224.88 90.43,225.16 90.74,225.44 91.05,225.73 91.36,226.03 91.67,226.33 91.97,226.64 92.28,226.96 92.59,227.29 92.90,227.62 93.21,227.97 93.52,228.32 93.82,228.69 94.13,229.07 94.44,229.45 94.75,229.85 95.06,230.27 95.36,230.69 95.67,231.14 95.98,231.59 96.29,232.07 96.60,232.56 96.91,233.08 97.21,233.61 97.52,234.17 97.83,234.76 98.14,235.38 98.45,236.02 98.75,236.70 99.06,237.42 99.37,238.19 99.68,239.00 99.99,239.87 100.29,240.80 100.60,241.81 100.91,242.91 101.22,244.11 101.53,245.44 101.83,246.92 102.14,248.61 102.45,250.55 102.76,252.85 103.07,255.66 103.38,259.28 103.68,264.39 103.99,273.13 104.30,276.90 104.61,273.13 104.92,264.39 105.22,259.28 105.53,255.66 105.84,252.85 106.15,250.55 106.46,248.61 106.77,246.92 107.07,245.44 107.38,244.11 107.69,242.91 108.00,241.81 108.31,240.80 108.61,239.87 108.92,239.00 109.23,238.19 109.54,237.42 109.85,236.70 110.15,236.02 110.46,235.38 110.77,234.76 111.08,234.17 111.39,233.61 111.69,233.08 112.00,232.56 112.31,232.07 112.62,231.59 112.93,231.14 113.24,230.69 113.54,230.27 113.85,229.85 114.16,229.45 114.47,229.07 114.78,228.69 115.08,228.32 115.39,227.97 115.70,227.62 116.01,227.29 116.32,226.96 116.62,226.64 116.93,226.33 117.24,226.03 117.55,225.73 117.86,225.44 118.17,225.16 118.47,224.88 118.78,224.61 119.09,224.34 119.40,224.08 119.71,223.83 120.01,223.58 120.32,223.34 120.63,223.10 120.94,222.86 121.25,222.63 121.56,222.40 121.86,222.18 122.17,221.96 122.48,221.74 122.79,221.53 123.10,221.32 123.40,221.12 123.71,220.92 124.02,220.72 124.33,220.52 124.64,220.33 124.94,220.14 125.25,219.95 125.56,219.77 125.87,219.59 126.18,219.41 126.48,219.23 126.79,219.06 127.10,218.89 127.41,218.72 127.72,218.55 128.03,218.39 128.33,218.23 128.64,218.07 128.95,217.91 129.26,217.75 129.57,217.60 129.87,217.44 130.18,217.29 130.49,217.14 130.80,217.00 131.11,216.85 131.41,216.71 131.72,216.56 132.03,216.42 132.34,216.28 132.65,216.15 132.96,216.01 133.26,215.87 133.57,215.74 133.88,215.61 134.19,215.48 134.50,215.35 134.80,215.22 135.11,215.09 135.42,214.97 135.73,214.85 136.04,214.72 136.34,214.60 136.65,214.48 136.96,214.36 137.27,214.24 137.58,214.12 137.89,214.01 138.19,213.89 138.50,213.78 138.81,213.67 139.12,213.55 139.43,213.44 139.73,213.33 140.04,213.22 140.35,213.12 140.66,213.01 140.97,212.90 141.28,212.80 141.58,212.69 141.89,212.59 142.20,212.49 142.51,212.38 142.82,212.28 143.12,212.18 143.43,212.08 143.74,211.98 144.05,211.89 144.36,211.79 144.66,211.69 144.97,211.60 145.28,211.50 145.59,211.41 145.90,211.31 146.20,211.22 146.51,211.13 146.82,211.04 147.13,210.94 147.44,210.85 147.75,210.76 148.05,210.68 148.36,210.59 148.67,210.50 148.98,210.41 149.29,210.33 149.59,210.24 149.90,210.15 150.21,210.07 150.52,209.99 150.83,209.90 151.13,209.82 151.44,209.74 151.75,209.65 152.06,209.57 152.37,209.49 152.68,209.41 152.98,209.33 153.29,209.25 153.60,209.17 153.91,209.09 154.22,209.02 154.52,208.94 154.83,208.86 155.14,208.78 155.45,208.71 155.76,208.63 156.06,208.56 156.37,208.48 156.68,208.41 156.99,208.33 157.30,208.26 157.61,208.19 157.91,208.11 158.22,208.04 158.53,207.97 158.84,207.90 159.15,207.83 159.45,207.76 159.76,207.69 160.07,207.62 160.38,207.55 160.69,207.48 161.00,207.41 161.30,207.34 161.61,207.27 161.92,207.21 162.23,207.14 162.54,207.07 162.84,207.01 163.15,206.94 163.46,206.87 163.77,206.81 164.08,206.74 164.38,206.68 164.69,206.61 165.00,206.55 165.31,206.49 165.62,206.42 165.93,206.36" stroke="#777" stroke-width="0.6" fill="none" stroke-linejoin="round" stroke-linecap="round" />
<polyline points="42.67,204.16 42.98,204.22 43.29,204.29 43.60,204.35 43.91,204.41 44.22,204.48 44.52,204.54 44.83,204.61 45.14,204.67 45.45,204.74 45.76,204.81 46.06,204.87 46.37,204.94 46.68,205.01 46.99,205.07 47.30,205.14 47.60,205.21 47.91,205.28 48.22,205.35 48.53,205.42 48.84,205.49 49.15,205.56 49.45,205.63 49.76,205.70 50.07,205.77 50.38,205.84 50.69,205.91 50.99,205.99 51.30,206.06 51.61,206.13 51.92,206.21 52.23,206.28 52.53,206.36 52.84,206.43 53.15,206.51 53.46,206.58 53.77,206.66 54.08,206.74 54.38,206.82 54.69,206.89 55.00,206.97 55.31,207.05 55.62,207.13 55.92,207.21 56.23,207.29 56.54,207.37 56.85,207.45 57.16,207.54 57.46,207.62 57.77,207.70 58.08,207.79 58.39,207.87 58.70,207.95 59.01,208.04 59.31,208.13 59.62,208.21 59.93,208.30 60.24,208.39 60.55,208.48 60.85,208.56 61.16,208.65 61.47,208.74 61.78,208.84 62.09,208.93 62.39,209.02 62.70,209.11 63.01,209.21 63.32,209.30 63.63,209.40 63.94,209.49 64.24,209.59 64.55,209.69 64.86,209.78 65.17,209.88 65.48,209.98 65.78,210.08 66.09,210.18 66.40,210.29 66.71,210.39 67.02,210.49 67.32,210.60 67.63,210.70 67.94,210.81 68.25,210.92 68.56,211.02 68.87,211.13 69.17,211.24 69.48,211.35 69.79,211.47 70.10,211.58 70.41,211.69 70.71,211.81 71.02,211.92 71.33,212.04 71.64,212.16 71.95,212.28 72.25,212.40 72.56,212.52 72.87,212.65 73.18,212.77 73.49,212.89 73.80,213.02 74.10,213.15 74.41,213.28 74.72,213.41 75.03,213.54 75.34,213.67 75.64,213.81 75.95,213.95 76.26,214.08 76.57,214.22 76.88,214.36 77.19,214.51 77.49,214.65 77.80,214.80 78.11,214.94 78.42,215.09 78.73,215.24 79.03,215.40 79.34,215.55 79.65,215.71 79.96,215.87 80.27,216.03 80.57,216.19 80.88,216.35 81.19,216.52 81.50,216.69 81.81,216.86 82.11,217.03 82.42,217.21 82.73,217.39 83.04,217.57 83.35,217.75 83.66,217.94 83.96,218.13 84.27,218.32 84.58,218.52 84.89,218.72 85.20,218.92 85.50,219.12 85.81,219.33 86.12,219.54 86.43,219.76 86.74,219.98 87.04,220.20 87.35,220.43 87.66,220.66 87.97,220.90 88.28,221.14 88.59,221.38 88.89,221.63 89.20,221.88 89.51,222.14 89.82,222.41 90.13,222.68 90.43,222.96 90.74,223.24 91.05,223.53 91.36,223.83 91.67,224.13 91.97,224.44 92.28,224.76 92.59,225.09 92.90,225.42 93.21,225.77 93.52,226.12 93.82,226.49 94.13,226.87 94.44,227.25 94.75,227.65 95.06,228.07 95.36,228.49 95.67,228.94 95.98,229.39 96.29,229.87 96.60,230.36 96.91,230.88 97.21,231.41 97.52,231.97 97.83,232.56 98.14,233.18 98.45,233.82 98.75,234.50 99.06,235.22 99.37,235.99 99.68,236.80 99.99,237.67 100.29,238.60 100.60,239.61 100.91,240.71 101.22,241.91 101.53,243.24 101.83,244.72 102.14,246.41 102.45,248.35 102.76,250.65 103.07,253.46 103.38,257.08 103.68,262.19 103.99,270.93 104.30,276.90 104.61,270.93 104.92,262.19 105.22,257.08 105.53,253.46 105.84,250.65 106.15,248.35 106.46,246.41 106.77,244.72 107.07,243.24 107.38,241.91 107.69,240.71 108.00,239.61 108.31,238.60 108.61,237.67 108.92,236.80 109.23,235.99 109.54,235.22 109.85,234.50 110.15,233.82 110.46,233.18 110.77,232.56 111.08,231.97 111.39,231.41 111.69,230.88 112.00,230.36 112.31,229.87 112.62,229.39 112.93,228.94 113.24,228.49 113.54,228.07 113.85,227.65 114.16,227.25 114.47,226.87 114.78,226.49 115.08,226.12 115.39,225.77 115.70,225.42 116.01,225.09 116.32,224.76 116.62,224.44 116.93,224.13 117.24,223.83 117.55,223.53 117.86,223.24 118.17,222.96 118.47,222.68 118.78,222.41 119.09,222.14 119.40,221.88 119.71,221.63 120.01,221.38 120.32,221.14 120.63,220.90 120.94,220.66 121.25,220.43 121.56,220.20 121.86,219.98 122.17,219.76 122.48,219.54 122.79,219.33 123.10,219.12 123.40,218.92 123.71,218.72 124.02,218.52 124.33,218.32 124.64,218.13 124.94,217.94 125.25,217.75 125.56,217.57 125.87,217.39 126.18,217.21 126.48,217.03 126.79,216.86 127.10,216.69 127.41,216.52 127.72,216.35 128.03,216.19 128.33,216.03 128.64,215.87 128.95,215.71 129.26,215.55 129.57,215.40 129.87,215.24 130.18,215.09 130.49,214.94 130.80,214.80 131.11,214.65 131.41,214.51 131.72,214.36 132.03,214.22 132.34,214.08 132.65,213.95 132.96,213.81 133.26,213.67 133.57,213.54 133.88,213.41 134.19,213.28 134.50,213.15 134.80,213.02 135.11,212.89 135.42,212.77 135.73,212.65 136.04,212.52 136.34,212.40 136.65,212.28 136.96,212.16 137.27,212.04 137.58,211.92 137.89,211.81 138.19,211.69 138.50,211.58 138.81,211.47 139.12,211.35 139.43,211.24 139.73,211.13 140.04,211.02 140.35,210.92 140.66,210.81 140.97,210.70 141.28,210.60 141.58,210.49 141.89,210.39 142.20,210.29 142.51,210.18 142.82,210.08 143.12,209.98 143.43,209.88 143.74,209.78 144.05,209.69 144.36,209.59 144.66,209.49 144.97,209.40 145.28,209.30 145.59,209.21 145.90,209.11 146.20,209.02 146.51,208.93 146.82,208.84 147.13,208.74 147.44,208.65 147.75,208.56 148.05,208.48 148.36,208.39 148.67,208.30 148.98,208.21 149.29,208.13 149.59,208.04 149.90,207.95 150.21,207.87 150.52,207.79 150.83,207.70 151.13,207.62 151.44,207.54 151.75,207.45 152.06,207.37 152.37,207.29 152.68,207.21 152.98,207.13 153.29,207.05 153.60,206.97 153.91,206.89 154.22,206.82 154.52,206.74 154.83,206.66 155.14,206.58 155.45,206.51 155.76,206.43 156.06,206.36 156.37,206.28 156.68,206.21 156.99,206.13 157.30,206.06 157.61,205.99 157.91,205.91 158.22,205.84 158.53,205.77 158.84,205.70 159.15,205.63 159.45,205.56 159.76,205.49 160.07,205.42 160.38,205.35 160.69,205.28 161.00,205.21 161.30,205.14 161.61,205.07 161.92,205.01 162.23,204.94 162.54,204.87 162.84,204.81 163.15,204.74 163.46,204.67 163.77,204.61 164.08,204.54 164.38,204.48 164.69,204.41 165.00,204.35 165.31,204.29 165.62,204.22 165.93,204.16" stroke="#111" stroke-width="1.3" fill="none" stroke-linejoin="round" stroke-linecap="round" />
<polygon points="42.67,205.91 42.98,205.97 43.29,206.03 43.60,206.10 43.91,206.16 44.22,206.23 44.52,206.29 44.83,206.36 45.14,206.42 45.45,206.49 45.76,206.55 46.06,206.62 46.37,206.69 46.68,206.75 46.99,206.82 47.30,206.89 47.60,206.96 47.91,207.03 48.22,207.10 48.53,207.17 48.84,207.24 49.15,207.31 49.45,207.38 49.76,207.45 50.07,207.52 50.38,207.59 50.69,207.66 50.99,207.74 51.30,207.81 51.61,207.88 51.92,207.96 52.23,208.03 52.53,208.11 52.84,208.18 53.15,208.26 53.46,208.33 53.77,208.41 54.08,208.49 54.38,208.56 54.69,208.64 55.00,208.72 55.31,208.80 55.62,208.88 55.92,208.96 56.23,209.04 56.54,209.12 56.85,209.20 57.16,209.28 57.46,209.37 57.77,209.45 58.08,209.53 58.39,209.62 58.70,209.70 59.01,209.79 59.31,209.87 59.62,209.96 59.93,210.05 60.24,210.14 60.55,210.22 60.85,210.31 61.16,210.40 61.47,210.49 61.78,210.58 62.09,210.68 62.39,210.77 62.70,210.86 63.01,210.95 63.32,211.05 63.63,211.14 63.94,211.24 64.24,211.34 64.55,211.43 64.86,211.53 65.17,211.63 65.48,211.73 65.78,211.83 66.09,211.93 66.40,212.03 66.71,212.14 67.02,212.24 67.32,212.35 67.63,212.45 67.94,212.56 68.25,212.66 68.56,212.77 68.87,212.88 69.17,212.99 69.48,213.10 69.79,213.21 70.10,213.33 70.41,213.44 70.71,213.56 71.02,213.67 71.33,213.79 71.64,213.91 71.95,214.03 72.25,214.15 72.56,214.27 72.87,214.39 73.18,214.52 73.49,214.64 73.80,214.77 74.10,214.90 74.41,215.03 74.72,215.16 75.03,215.29 75.34,215.42 75.64,215.56 75.95,215.69 76.26,215.83 76.57,215.97 76.88,216.11 77.19,216.25 77.49,216.40 77.80,216.54 78.11,216.69 78.42,216.84 78.73,216.99 79.03,217.14 79.34,217.30 79.65,217.45 79.96,217.61 80.27,217.77 80.57,217.94 80.88,218.10 81.19,218.27 81.50,218.44 81.81,218.61 82.11,218.78 82.42,218.96 82.73,219.14 83.04,219.32 83.35,219.50 83.66,219.69 83.96,219.88 84.27,220.07 84.58,220.27 84.89,220.47 85.20,220.67 85.50,220.87 85.81,221.08 86.12,221.29 86.43,221.51 86.74,221.73 87.04,221.95 87.35,222.18 87.66,222.41 87.97,222.64 88.28,222.88 88.59,223.13 88.89,223.38 89.20,223.63 89.51,223.89 89.82,224.16 90.13,224.43 90.43,224.71 90.74,224.99 91.05,225.28 91.36,225.57 91.67,225.88 91.97,226.19 92.28,226.51 92.59,226.84 92.90,227.17 93.21,227.52 93.52,227.87 93.82,228.24 94.13,228.61 94.44,229.00 94.75,229.40 95.06,229.81 95.36,230.24 95.67,230.68 95.98,231.14 96.29,231.62 96.60,232.11 96.91,232.63 97.21,233.16 97.52,233.72 97.83,234.31 98.14,234.92 98.45,235.57 98.75,236.25 99.06,236.97 99.37,237.74 99.68,238.55 99.99,239.42 100.29,240.35 100.60,241.36 100.91,242.46 101.22,243.66 101.53,244.99 101.83,246.47 102.14,248.15 102.45,250.10 102.76,252.39 103.07,255.21 103.38,258.83 103.68,263.94 103.99,272.67 104.30,276.90 104.61,272.67 104.92,263.94 105.22,258.83 105.53,255.21 105.84,252.39 106.15,250.10 106.46,248.15 106.77,246.47 107.07,244.99 107.38,243.66 107.69,242.46 108.00,241.36 108.31,240.35 108.61,239.42 108.92,238.55 109.23,237.74 109.54,236.97 109.85,236.25 110.15,235.57 110.46,234.92 110.77,234.31 111.08,233.72 111.39,233.16 111.69,232.63 112.00,232.11 112.31,231.62 112.62,231.14 112.93,230.68 113.24,230.24 113.54,229.81 113.85,229.40 114.16,229.00 114.47,228.61 114.78,228.24 115.08,227.87 115.39,227.52 115.70,227.17 116.01,226.84 116.32,226.51 116.62,226.19 116.93,225.88 117.24,225.57 117.55,225.28 117.86,224.99 118.17,224.71 118.47,224.43 118.78,224.16 119.09,223.89 119.40,223.63 119.71,223.38 120.01,223.13 120.32,222.88 120.63,222.64 120.94,222.41 121.25,222.18 121.56,221.95 121.86,221.73 122.17,221.51 122.48,221.29 122.79,221.08 123.10,220.87 123.40,220.67 123.71,220.47 124.02,220.27 124.33,220.07 124.64,219.88 124.94,219.69 125.25,219.50 125.56,219.32 125.87,219.14 126.18,218.96 126.48,218.78 126.79,218.61 127.10,218.44 127.41,218.27 127.72,218.10 128.03,217.94 128.33,217.77 128.64,217.61 128.95,217.45 129.26,217.30 129.57,217.14 129.87,216.99 130.18,216.84 130.49,216.69 130.80,216.54 131.11,216.40 131.41,216.25 131.72,216.11 132.03,215.97 132.34,215.83 132.65,215.69 132.96,215.56 133.26,215.42 133.57,215.29 133.88,215.16 134.19,215.03 134.50,214.90 134.80,214.77 135.11,214.64 135.42,214.52 135.73,214.39 136.04,214.27 136.34,214.15 136.65,214.03 136.96,213.91 137.27,213.79 137.58,213.67 137.89,213.56 138.19,213.44 138.50,213.33 138.81,213.21 139.12,213.10 139.43,212.99 139.73,212.88 140.04,212.77 140.35,212.66 140.66,212.56 140.97,212.45 141.28,212.35 141.58,212.24 141.89,212.14 142.20,212.03 142.51,211.93 142.82,211.83 143.12,211.73 143.43,211.63 143.74,211.53 144.05,211.43 144.36,211.34 144.66,211.24 144.97,211.14 145.28,211.05 145.59,210.95 145.90,210.86 146.20,210.77 146.51,210.68 146.82,210.58 147.13,210.49 147.44,210.40 147.75,210.31 148.05,210.22 148.36,210.14 148.67,210.05 148.98,209.96 149.29,209.87 149.59,209.79 149.90,209.70 150.21,209.62 150.52,209.53 150.83,209.45 151.13,209.37 151.44,209.28 151.75,209.20 152.06,209.12 152.37,209.04 152.68,208.96 152.98,208.88 153.29,208.80 153.60,208.72 153.91,208.64 154.22,208.56 154.52,208.49 154.83,208.41 155.14,208.33 155.45,208.26 155.76,208.18 156.06,208.11 156.37,208.03 156.68,207.96 156.99,207.88 157.30,207.81 157.61,207.74 157.91,207.66 158.22,207.59 158.53,207.52 158.84,207.45 159.15,207.38 159.45,207.31 159.76,207.24 160.07,207.17 160.38,207.10 160.69,207.03 161.00,206.96 161.30,206.89 161.61,206.82 161.92,206.75 162.23,206.69 162.54,206.62 162.84,206.55 163.15,206.49 163.46,206.42 163.77,206.36 164.08,206.29 164.38,206.23 164.69,206.16 165.00,206.10 165.31,206.03 165.62,205.97 165.93,205.91 165.93,212.71 165.62,212.77 165.31,212.83 165.00,212.90 164.69,212.96 164.38,213.03 164.08,213.09 163.77,213.16 163.46,213.22 163.15,213.29 162.84,213.35 162.54,213.42 162.23,213.49 161.92,213.55 161.61,213.62 161.30,213.69 161.00,213.76 160.69,213.83 160.38,213.90 160.07,213.97 159.76,214.04 159.45,214.11 159.15,214.18 158.84,214.25 158.53,214.32 158.22,214.39 157.91,214.46 157.61,214.54 157.30,214.61 156.99,214.68 156.68,214.76 156.37,214.83 156.06,214.91 155.76,214.98 155.45,215.06 155.14,215.13 154.83,215.21 154.52,215.29 154.22,215.36 153.91,215.44 153.60,215.52 153.29,215.60 152.98,215.68 152.68,215.76 152.37,215.84 152.06,215.92 151.75,216.00 151.44,216.08 151.13,216.17 150.83,216.25 150.52,216.33 150.21,216.42 149.90,216.50 149.59,216.59 149.29,216.67 148.98,216.76 148.67,216.85 148.36,216.94 148.05,217.02 147.75,217.11 147.44,217.20 147.13,217.29 146.82,217.38 146.51,217.48 146.20,217.57 145.90,217.66 145.59,217.75 145.28,217.85 144.97,217.94 144.66,218.04 144.36,218.14 144.05,218.23 143.74,218.33 143.43,218.43 143.12,218.53 142.82,218.63 142.51,218.73 142.20,218.83 141.89,218.94 141.58,219.04 141.28,219.15 140.97,219.25 140.66,219.36 140.35,219.46 140.04,219.57 139.73,219.68 139.43,219.79 139.12,219.90 138.81,220.01 138.50,220.13 138.19,220.24 137.89,220.36 137.58,220.47 137.27,220.59 136.96,220.71 136.65,220.83 136.34,220.95 136.04,221.07 135.73,221.19 135.42,221.32 135.11,221.44 134.80,221.57 134.50,221.70 134.19,221.83 133.88,221.96 133.57,222.09 133.26,222.22 132.96,222.36 132.65,222.49 132.34,222.63 132.03,222.77 131.72,222.91 131.41,223.05 131.11,223.20 130.80,223.34 130.49,223.49 130.18,223.64 129.87,223.79 129.57,223.94 129.26,224.10 128.95,224.25 128.64,224.41 128.33,224.57 128.03,224.74 127.72,224.90 127.41,225.07 127.10,225.24 126.79,225.41 126.48,225.58 126.18,225.76 125.87,225.94 125.56,226.12 125.25,226.30 124.94,226.49 124.64,226.68 124.33,226.87 124.02,227.07 123.71,227.27 123.40,227.47 123.10,227.67 122.79,227.88 122.48,228.09 122.17,228.31 121.86,228.53 121.56,228.75 121.25,228.98 120.94,229.21 120.63,229.44 120.32,229.68 120.01,229.93 119.71,230.18 119.40,230.43 119.09,230.69 118.78,230.96 118.47,231.23 118.17,231.51 117.86,231.79 117.55,232.08 117.24,232.37 116.93,232.68 116.62,232.99 116.32,233.31 116.01,233.64 115.70,233.97 115.39,234.32 115.08,234.67 114.78,235.04 114.47,235.41 114.16,235.80 113.85,236.20 113.54,236.61 113.24,237.04 112.93,237.48 112.62,237.94 112.31,238.42 112.00,238.91 111.69,239.43 111.39,239.96 111.08,240.52 110.77,241.11 110.46,241.72 110.15,242.37 109.85,243.05 109.54,243.77 109.23,244.54 108.92,245.35 108.61,246.22 108.31,247.15 108.00,248.16 107.69,249.26 107.38,250.46 107.07,251.79 106.77,253.27 106.46,254.95 106.15,256.90 105.84,259.19 105.53,262.01 105.22,265.63 104.92,270.74 104.61,276.90 104.30,276.90 103.99,276.90 103.68,270.74 103.38,265.63 103.07,262.01 102.76,259.19 102.45,256.90 102.14,254.95 101.83,253.27 101.53,251.79 101.22,250.46 100.91,249.26 100.60,248.16 100.29,247.15 99.99,246.22 99.68,245.35 99.37,244.54 99.06,243.77 98.75,243.05 98.45,242.37 98.14,241.72 97.83,241.11 97.52,240.52 97.21,239.96 96.91,239.43 96.60,238.91 96.29,238.42 95.98,237.94 95.67,237.48 95.36,237.04 95.06,236.61 94.75,236.20 94.44,235.80 94.13,235.41 93.82,235.04 93.52,234.67 93.21,234.32 92.90,233.97 92.59,233.64 92.28,233.31 91.97,232.99 91.67,232.68 91.36,232.37 91.05,232.08 90.74,231.79 90.43,231.51 90.13,231.23 89.82,230.96 89.51,230.69 89.20,230.43 88.89,230.18 88.59,229.93 88.28,229.68 87.97,229.44 87.66,229.21 87.35,228.98 87.04,228.75 86.74,228.53 86.43,228.31 86.12,228.09 85.81,227.88 85.50,227.67 85.20,227.47 84.89,227.27 84.58,227.07 84.27,226.87 83.96,226.68 83.66,226.49 83.35,226.30 83.04,226.12 82.73,225.94 82.42,225.76 82.11,225.58 81.81,225.41 81.50,225.24 81.19,225.07 80.88,224.90 80.57,224.74 80.27,224.57 79.96,224.41 79.65,224.25 79.34,224.10 79.03,223.94 78.73,223.79 78.42,223.64 78.11,223.49 77.80,223.34 77.49,223.20 77.19,223.05 76.88,222.91 76.57,222.77 76.26,222.63 75.95,222.49 75.64,222.36 75.34,222.22 75.03,222.09 74.72,221.96 74.41,221.83 74.10,221.70 73.80,221.57 73.49,221.44 73.18,221.32 72.87,221.19 72.56,221.07 72.25,220.95 71.95,220.83 71.64,220.71 71.33,220.59 71.02,220.47 70.71,220.36 70.41,220.24 70.10,220.13 69.79,220.01 69.48,219.90 69.17,219.79 68.87,219.68 68.56,219.57 68.25,219.46 67.94,219.36 67.63,219.25 67.32,219.15 67.02,219.04 66.71,218.94 66.40,218.83 66.09,218.73 65.78,218.63 65.48,218.53 65.17,218.43 64.86,218.33 64.55,218.23 64.24,218.14 63.94,218.04 63.63,217.94 63.32,217.85 63.01,217.75 62.70,217.66 62.39,217.57 62.09,217.48 61.78,217.38 61.47,217.29 61.16,217.20 60.85,217.11 60.55,217.02 60.24,216.94 59.93,216.85 59.62,216.76 59.31,216.67 59.01,216.59 58.70,216.50 58.39,216.42 58.08,216.33 57.77,216.25 57.46,216.17 57.16,216.08 56.85,216.00 56.54,215.92 56.23,215.84 55.92,215.76 55.62,215.68 55.31,215.60 55.00,215.52 54.69,215.44 54.38,215.36 54.08,215.29 53.77,215.21 53.46,215.13 53.15,215.06 52.84,214.98 52.53,214.91 52.23,214.83 51.92,214.76 51.61,214.68 51.30,214.61 50.99,214.54 50.69,214.46 50.38,214.39 50.07,214.32 49.76,214.25 49.45,214.18 49.15,214.11 48.84,214.04 48.53,213.97 48.22,213.90 47.91,213.83 47.60,213.76 47.30,213.69 46.99,213.62 46.68,213.55 46.37,213.49 46.06,213.42 45.76,213.35 45.45,213.29 45.14,213.22 44.83,213.16 44.52,213.09 44.22,213.03 43.91,212.96 43.60,212.90 43.29,212.83 42.98,212.77 42.67,212.71" fill="#b8b8f0" stroke="none" stroke-width="1" />
<polyline points="42.67,205.91 42.98,205.97 43.29,206.03 43.60,206.10 43.91,206.16 44.22,206.23 44.52,206.29 44.83,206.36 45.14,206.42 45.45,206.49 45.76,206.55 46.06,206.62 46.37,206.69 46.68,206.75 46.99,206.82 47.30,206.89 47.60,206.96 47.91,207.03 48.22,207.10 48.53,207.17 48.84,207.24 49.15,207.31 49.45,207.38 49.76,207.45 50.07,207.52 50.38,207.59 50.69,207.66 50.99,207.74 51.30,207.81 51.61,207.88 51.92,207.96 52.23,208.03 52.53,208.11 52.84,208.18 53.15,208.26 53.46,208.33 53.77,208.41 54.08,208.49 54.38,208.56 54.69,208.64 55.00,208.72 55.31,208.80 55.62,208.88 55.92,208.96 56.23,209.04 56.54,209.12 56.85,209.20 57.16,209.28 57.46,209.37 57.77,209.45 58.08,209.53 58.39,209.62 58.70,209.70 59.01,209.79 59.31,209.87 59.62,209.96 59.93,210.05 60.24,210.14 60.55,210.22 60.85,210.31 61.16,210.40 61.47,210.49 61.78,210.58 62.09,210.68 62.39,210.77 62.70,210.86 63.01,210.95 63.32,211.05 63.63,211.14 63.94,211.24 64.24,211.34 64.55,211.43 64.86,211.53 65.17,211.63 65.48,211.73 65.78,211.83 66.09,211.93 66.40,212.03 66.71,212.14 67.02,212.24 67.32,212.35 67.63,212.45 67.94,212.56 68.25,212.66 68.56,212.77 68.87,212.88 69.17,212.99 69.48,213.10 69.79,213.21 70.10,213.33 70.41,213.44 70.71,213.56 71.02,213.67 71.33,213.79 71.64,213.91 71.95,214.03 72.25,214.15 72.56,214.27 72.87,214.39 73.18,214.52 73.49,214.64 73.80,214.77 74.10,214.90 74.41,215.03 74.72,215.16 75.03,215.29 75.34,215.42 75.64,215.56 75.95,215.69 76.26,215.83 76.57,215.97 76.88,216.11 77.19,216.25 77.49,216.40 77.80,216.54 78.11,216.69 78.42,216.84 78.73,216.99 79.03,217.14 79.34,217.30 79.65,217.45 79.96,217.61 80.27,217.77 80.57,217.94 80.88,218.10 81.19,218.27 81.50,218.44 81.81,218.61 82.11,218.78 82.42,218.96 82.73,219.14 83.04,219.32 83.35,219.50 83.66,219.69 83.96,219.88 84.27,220.07 84.58,220.27 84.89,220.47 85.20,220.67 85.50,220.87 85.81,221.08 86.12,221.29 86.43,221.51 86.74,221.73 87.04,221.95 87.35,222.18 87.66,222.41 87.97,222.64 88.28,222.88 88.59,223.13 88.89,223.38 89.20,223.63 89.51,223.89 89.82,224.16 90.13,224.43 90.43,224.71 90.74,224.99 91.05,225.28 91.36,225.57 91.67,225.88 91.97,226.19 92.28,226.51 92.59,226.84 92.90,227.17 93.21,227.52 93.52,227.87 93.82,228.24 94.13,228.61 94.44,229.00 94.75,229.40 95.06,229.81 95.36,230.24 95.67,230.68 95.98,231.14 96.29,231.62 96.60,232.11 96.91,232.63 97.21,233.16 97.52,233.72 97.83,234.31 98.14,234.92 98.45,235.57 98.75,236.25 99.06,236.97 99.37,237.74 99.68,238.55 99.99,239.42 100.29,240.35 100.60,241.36 100.91,242.46 101.22,243.66 101.53,244.99 101.83,246.47 102.14,248.15 102.45,250.10 102.76,252.39 103.07,255.21 103.38,258.83 103.68,263.94 103.99,272.67 104.30,276.90 104.61,272.67 104.92,263.94 105.22,258.83 105.53,255.21 105.84,252.39 106.15,250.10 106.46,248.15 106.77,246.47 107.07,244.99 107.38,243.66 107.69,242.46 108.00,241.36 108.31,240.35 108.61,239.42 108.92,238.55 109.23,237.74 109.54,236.97 109.85,236.25 110.15,235.57 110.46,234.92 110.77,234.31 111.08,233.72 111.39,233.16 111.69,232.63 112.00,232.11 112.31,231.62 112.62,231.14 112.93,230.68 113.24,230.24 113.54,229.81 113.85,229.40 114.16,229.00 114.47,228.61 114.78,228.24 115.08,227.87 115.39,227.52 115.70,227.17 116.01,226.84 116.32,226.51 116.62,226.19 116.93,225.88 117.24,225.57 117.55,225.28 117.86,224.99 118.17,224.71 118.47,224.43 118.78,224.16 119.09,223.89 119.40,223.63 119.71,223.38 120.01,223.13 120.32,222.88 120.63,222.64 120.94,222.41 121.25,222.18 121.56,221.95 121.86,221.73 122.17,221.51 122.48,221.29 122.79,221.08 123.10,220.87 123.40,220.67 123.71,220.47 124.02,220.27 124.33,220.07 124.64,219.88 124.94,219.69 125.25,219.50 125.56,219.32 125.87,219.14 126.18,218.96 126.48,218.78 126.79,218.61 127.10,218.44 127.41,218.27 127.72,218.10 128.03,217.94 128.33,217.77 128.64,217.61 128.95,217.45 129.26,217.30 129.57,217.14 129.87,216.99 130.18,216.84 130.49,216.69 130.80,216.54 131.11,216.40 131.41,216.25 131.72,216.11 132.03,215.97 132.34,215.83 132.65,215.69 132.96,215.56 133.26,215.42 133.57,215.29 133.88,215.16 134.19,215.03 134.50,214.90 134.80,214.77 135.11,214.64 135.42,214.52 135.73,214.39 136.04,214.27 136.34,214.15 136.65,214.03 136.96,213.91 137.27,213.79 137.58,213.67 137.89,213.56 138.19,213.44 138.50,213.33 138.81,213.21 139.12,213.10 139.43,212.99 139.73,212.88 140.04,212.77 140.35,212.66 140.66,212.56 140.97,212.45 141.28,212.35 141.58,212.24 141.89,212.14 142.20,212.03 142.51,211.93 142.82,211.83 143.12,211.73 143.43,211.63 143.74,211.53 144.05,211.43 144.36,211.34 144.66,211.24 144.97,211.14 145.28,211.05 145.59,210.95 145.90,210.86 146.20,210.77 146.51,210.68 146.82,210.58 147.13,210.49 147.44,210.40 147.75,210.31 148.05,210.22 148.36,210.14 148.67,210.05 148.98,209.96 149.29,209.87 149.59,209.79 149.90,209.70 150.21,209.62 150.52,209.53 150.83,209.45 151.13,209.37 151.44,209.28 151.75,209.20 152.06,209.12 152.37,209.04 152.68,208.96 152.98,208.88 153.29,208.80 153.60,208.72 153.91,208.64 154.22,208.56 154.52,208.49 154.83,208.41 155.14,208.33 155.45,208.26 155.76,208.18 156.06,208.11 156.37,208.03 156.68,207.96 156.99,207.88 157.30,207.81 157.61,207.74 157.91,207.66 158.22,207.59 158.53,207.52 158.84,207.45 159.15,207.38 159.45,207.31 159.76,207.24 160.07,207.17 160.38,207.10 160.69,207.03 161.00,206.96 161.30,206.89 161.61,206.82 161.92,206.75 162.23,206.69 162.54,206.62 162.84,206.55 163.15,206.49 163.46,206.42 163.77,206.36 164.08,206.29 164.38,206.23 164.69,206.16 165.00,206.10 165.31,206.03 165.62,205.97 165.93,205.91" stroke="#6a6ad8" stroke-width="0.6" fill="none" stroke-linejoin="round" stroke-linecap="round" />
<polyline points="42.67,212.71 42.98,212.77 43.29,212.83 43.60,212.90 43.91,212.96 44.22,213.03 44.52,213.09 44.83,213.16 45.14,213.22 45.45,213.29 45.76,213.35 46.06,213.42 46.37,213.49 46.68,213.55 46.99,213.62 47.30,213.69 47.60,213.76 47.91,213.83 48.22,213.90 48.53,213.97 48.84,214.04 49.15,214.11 49.45,214.18 49.76,214.25 50.07,214.32 50.38,214.39 50.69,214.46 50.99,214.54 51.30,214.61 51.61,214.68 51.92,214.76 52.23,214.83 52.53,214.91 52.84,214.98 53.15,215.06 53.46,215.13 53.77,215.21 54.08,215.29 54.38,215.36 54.69,215.44 55.00,215.52 55.31,215.60 55.62,215.68 55.92,215.76 56.23,215.84 56.54,215.92 56.85,216.00 57.16,216.08 57.46,216.17 57.77,216.25 58.08,216.33 58.39,216.42 58.70,216.50 59.01,216.59 59.31,216.67 59.62,216.76 59.93,216.85 60.24,216.94 60.55,217.02 60.85,217.11 61.16,217.20 61.47,217.29 61.78,217.38 62.09,217.48 62.39,217.57 62.70,217.66 63.01,217.75 63.32,217.85 63.63,217.94 63.94,218.04 64.24,218.14 64.55,218.23 64.86,218.33 65.17,218.43 65.48,218.53 65.78,218.63 66.09,218.73 66.40,218.83 66.71,218.94 67.02,219.04 67.32,219.15 67.63,219.25 67.94,219.36 68.25,219.46 68.56,219.57 68.87,219.68 69.17,219.79 69.48,219.90 69.79,220.01 70.10,220.13 70.41,220.24 70.71,220.36 71.02,220.47 71.33,220.59 71.64,220.71 71.95,220.83 72.25,220.95 72.56,221.07 72.87,221.19 73.18,221.32 73.49,221.44 73.80,221.57 74.10,221.70 74.41,221.83 74.72,221.96 75.03,222.09 75.34,222.22 75.64,222.36 75.95,222.49 76.26,222.63 76.57,222.77 76.88,222.91 77.19,223.05 77.49,223.20 77.80,223.34 78.11,223.49 78.42,223.64 78.73,223.79 79.03,223.94 79.34,224.10 79.65,224.25 79.96,224.41 80.27,224.57 80.57,224.74 80.88,224.90 81.19,225.07 81.50,225.24 81.81,225.41 82.11,225.58 82.42,225.76 82.73,225.94 83.04,226.12 83.35,226.30 83.66,226.49 83.96,226.68 84.27,226.87 84.58,227.07 84.89,227.27 85.20,227.47 85.50,227.67 85.81,227.88 86.12,228.09 86.43,228.31 86.74,228.53 87.04,228.75 87.35,228.98 87.66,229.21 87.97,229.44 88.28,229.68 88.59,229.93 88.89,230.18 89.20,230.43 89.51,230.69 89.82,230.96 90.13,231.23 90.43,231.51 90.74,231.79 91.05,232.08 91.36,232.37 91.67,232.68 91.97,232.99 92.28,233.31 92.59,233.64 92.90,233.97 93.21,234.32 93.52,234.67 93.82,235.04 94.13,235.41 94.44,235.80 94.75,236.20 95.06,236.61 95.36,237.04 95.67,237.48 95.98,237.94 96.29,238.42 96.60,238.91 96.91,239.43 97.21,239.96 97.52,240.52 97.83,241.11 98.14,241.72 98.45,242.37 98.75,243.05 99.06,243.77 99.37,244.54 99.68,245.35 99.99,246.22 100.29,247.15 100.60,248.16 100.91,249.26 101.22,250.46 101.53,251.79 101.83,253.27 102.14,254.95 102.45,256.90 102.76,259.19 103.07,262.01 103.38,265.63 103.68,270.74 103.99,276.90 104.30,276.90 104.61,276.90 104.92,270.74 105.22,265.63 105.53,262.01 105.84,259.19 106.15,256.90 106.46,254.95 106.77,253.27 107.07,251.79 107.38,250.46 107.69,249.26 108.00,248.16 108.31,247.15 108.61,246.22 108.92,245.35 109.23,244.54 109.54,243.77 109.85,243.05 110.15,242.37 110.46,241.72 110.77,241.11 111.08,240.52 111.39,239.96 111.69,239.43 112.00,238.91 112.31,238.42 112.62,237.94 112.93,237.48 113.24,237.04 113.54,236.61 113.85,236.20 114.16,235.80 114.47,235.41 114.78,235.04 115.08,234.67 115.39,234.32 115.70,233.97 116.01,233.64 116.32,233.31 116.62,232.99 116.93,232.68 117.24,232.37 117.55,232.08 117.86,231.79 118.17,231.51 118.47,231.23 118.78,230.96 119.09,230.69 119.40,230.43 119.71,230.18 120.01,229.93 120.32,229.68 120.63,229.44 120.94,229.21 121.25,228.98 121.56,228.75 121.86,228.53 122.17,228.31 122.48,228.09 122.79,227.88 123.10,227.67 123.40,227.47 123.71,227.27 124.02,227.07 124.33,226.87 124.64,226.68 124.94,226.49 125.25,226.30 125.56,226.12 125.87,225.94 126.18,225.76 126.48,225.58 126.79,225.41 127.10,225.24 127.41,225.07 127.72,224.90 128.03,224.74 128.33,224.57 128.64,224.41 128.95,224.25 129.26,224.10 129.57,223.94 129.87,223.79 130.18,223.64 130.49,223.49 130.80,223.34 131.11,223.20 131.41,223.05 131.72,222.91 132.03,222.77 132.34,222.63 132.65,222.49 132.96,222.36 133.26,222.22 133.57,222.09 133.88,221.96 134.19,221.83 134.50,221.70 134.80,221.57 135.11,221.44 135.42,221.32 135.73,221.19 136.04,221.07 136.34,220.95 136.65,220.83 136.96,220.71 137.27,220.59 137.58,220.47 137.89,220.36 138.19,220.24 138.50,220.13 138.81,220.01 139.12,219.90 139.43,219.79 139.73,219.68 140.04,219.57 140.35,219.46 140.66,219.36 140.97,219.25 141.28,219.15 141.58,219.04 141.89,218.94 142.20,218.83 142.51,218.73 142.82,218.63 143.12,218.53 143.43,218.43 143.74,218.33 144.05,218.23 144.36,218.14 144.66,218.04 144.97,217.94 145.28,217.85 145.59,217.75 145.90,217.66 146.20,217.57 146.51,217.48 146.82,217.38 147.13,217.29 147.44,217.20 147.75,217.11 148.05,217.02 148.36,216.94 148.67,216.85 148.98,216.76 149.29,216.67 149.59,216.59 149.90,216.50 150.21,216.42 150.52,216.33 150.83,216.25 151.13,216.17 151.44,216.08 151.75,216.00 152.06,215.92 152.37,215.84 152.68,215.76 152.98,215.68 153.29,215.60 153.60,215.52 153.91,215.44 154.22,215.36 154.52,215.29 154.83,215.21 155.14,215.13 155.45,215.06 155.76,214.98 156.06,214.91 156.37,214.83 156.68,214.76 156.99,214.68 157.30,214.61 157.61,214.54 157.91,214.46 158.22,214.39 158.53,214.32 158.84,214.25 159.15,214.18 159.45,214.11 159.76,214.04 160.07,213.97 160.38,213.90 160.69,213.83 161.00,213.76 161.30,213.69 161.61,213.62 161.92,213.55 162.23,213.49 162.54,213.42 162.84,213.35 163.15,213.29 163.46,213.22 163.77,213.16 164.08,213.09 164.38,213.03 164.69,212.96 165.00,212.90 165.31,212.83 165.62,212.77 165.93,212.71" stroke="#6a6ad8" stroke-width="0.6" fill="none" stroke-linejoin="round" stroke-linecap="round" />
<polyline points="42.67,209.31 42.98,209.37 43.29,209.43 43.60,209.50 43.91,209.56 44.22,209.63 44.52,209.69 44.83,209.76 45.14,209.82 45.45,209.89 45.76,209.95 46.06,210.02 46.37,210.09 46.68,210.15 46.99,210.22 47.30,210.29 47.60,210.36 47.91,210.43 48.22,210.50 48.53,210.57 48.84,210.64 49.15,210.71 49.45,210.78 49.76,210.85 50.07,210.92 50.38,210.99 50.69,211.06 50.99,211.14 51.30,211.21 51.61,211.28 51.92,211.36 52.23,211.43 52.53,211.51 52.84,211.58 53.15,211.66 53.46,211.73 53.77,211.81 54.08,211.89 54.38,211.96 54.69,212.04 55.00,212.12 55.31,212.20 55.62,212.28 55.92,212.36 56.23,212.44 56.54,212.52 56.85,212.60 57.16,212.68 57.46,212.77 57.77,212.85 58.08,212.93 58.39,213.02 58.70,213.10 59.01,213.19 59.31,213.27 59.62,213.36 59.93,213.45 60.24,213.54 60.55,213.62 60.85,213.71 61.16,213.80 61.47,213.89 61.78,213.98 62.09,214.08 62.39,214.17 62.70,214.26 63.01,214.35 63.32,214.45 63.63,214.54 63.94,214.64 64.24,214.74 64.55,214.83 64.86,214.93 65.17,215.03 65.48,215.13 65.78,215.23 66.09,215.33 66.40,215.43 66.71,215.54 67.02,215.64 67.32,215.75 67.63,215.85 67.94,215.96 68.25,216.06 68.56,216.17 68.87,216.28 69.17,216.39 69.48,216.50 69.79,216.61 70.10,216.73 70.41,216.84 70.71,216.96 71.02,217.07 71.33,217.19 71.64,217.31 71.95,217.43 72.25,217.55 72.56,217.67 72.87,217.79 73.18,217.92 73.49,218.04 73.80,218.17 74.10,218.30 74.41,218.43 74.72,218.56 75.03,218.69 75.34,218.82 75.64,218.96 75.95,219.09 76.26,219.23 76.57,219.37 76.88,219.51 77.19,219.65 77.49,219.80 77.80,219.94 78.11,220.09 78.42,220.24 78.73,220.39 79.03,220.54 79.34,220.70 79.65,220.85 79.96,221.01 80.27,221.17 80.57,221.34 80.88,221.50 81.19,221.67 81.50,221.84 81.81,222.01 82.11,222.18 82.42,222.36 82.73,222.54 83.04,222.72 83.35,222.90 83.66,223.09 83.96,223.28 84.27,223.47 84.58,223.67 84.89,223.87 85.20,224.07 85.50,224.27 85.81,224.48 86.12,224.69 86.43,224.91 86.74,225.13 87.04,225.35 87.35,225.58 87.66,225.81 87.97,226.04 88.28,226.28 88.59,226.53 88.89,226.78 89.20,227.03 89.51,227.29 89.82,227.56 90.13,227.83 90.43,228.11 90.74,228.39 91.05,228.68 91.36,228.97 91.67,229.28 91.97,229.59 92.28,229.91 92.59,230.24 92.90,230.57 93.21,230.92 93.52,231.27 93.82,231.64 94.13,232.01 94.44,232.40 94.75,232.80 95.06,233.21 95.36,233.64 95.67,234.08 95.98,234.54 96.29,235.02 96.60,235.51 96.91,236.03 97.21,236.56 97.52,237.12 97.83,237.71 98.14,238.32 98.45,238.97 98.75,239.65 99.06,240.37 99.37,241.14 99.68,241.95 99.99,242.82 100.29,243.75 100.60,244.76 100.91,245.86 101.22,247.06 101.53,248.39 101.83,249.87 102.14,251.55 102.45,253.50 102.76,255.79 103.07,258.61 103.38,262.23 103.68,267.34 103.99,276.07 104.30,276.90 104.61,276.07 104.92,267.34 105.22,262.23 105.53,258.61 105.84,255.79 106.15,253.50 106.46,251.55 106.77,249.87 107.07,248.39 107.38,247.06 107.69,245.86 108.00,244.76 108.31,243.75 108.61,242.82 108.92,241.95 109.23,241.14 109.54,240.37 109.85,239.65 110.15,238.97 110.46,238.32 110.77,237.71 111.08,237.12 111.39,236.56 111.69,236.03 112.00,235.51 112.31,235.02 112.62,234.54 112.93,234.08 113.24,233.64 113.54,233.21 113.85,232.80 114.16,232.40 114.47,232.01 114.78,231.64 115.08,231.27 115.39,230.92 115.70,230.57 116.01,230.24 116.32,229.91 116.62,229.59 116.93,229.28 117.24,228.97 117.55,228.68 117.86,228.39 118.17,228.11 118.47,227.83 118.78,227.56 119.09,227.29 119.40,227.03 119.71,226.78 120.01,226.53 120.32,226.28 120.63,226.04 120.94,225.81 121.25,225.58 121.56,225.35 121.86,225.13 122.17,224.91 122.48,224.69 122.79,224.48 123.10,224.27 123.40,224.07 123.71,223.87 124.02,223.67 124.33,223.47 124.64,223.28 124.94,223.09 125.25,222.90 125.56,222.72 125.87,222.54 126.18,222.36 126.48,222.18 126.79,222.01 127.10,221.84 127.41,221.67 127.72,221.50 128.03,221.34 128.33,221.17 128.64,221.01 128.95,220.85 129.26,220.70 129.57,220.54 129.87,220.39 130.18,220.24 130.49,220.09 130.80,219.94 131.11,219.80 131.41,219.65 131.72,219.51 132.03,219.37 132.34,219.23 132.65,219.09 132.96,218.96 133.26,218.82 133.57,218.69 133.88,218.56 134.19,218.43 134.50,218.30 134.80,218.17 135.11,218.04 135.42,217.92 135.73,217.79 136.04,217.67 136.34,217.55 136.65,217.43 136.96,217.31 137.27,217.19 137.58,217.07 137.89,216.96 138.19,216.84 138.50,216.73 138.81,216.61 139.12,216.50 139.43,216.39 139.73,216.28 140.04,216.17 140.35,216.06 140.66,215.96 140.97,215.85 141.28,215.75 141.58,215.64 141.89,215.54 142.20,215.43 142.51,215.33 142.82,215.23 143.12,215.13 143.43,215.03 143.74,214.93 144.05,214.83 144.36,214.74 144.66,214.64 144.97,214.54 145.28,214.45 145.59,214.35 145.90,214.26 146.20,214.17 146.51,214.08 146.82,213.98 147.13,213.89 147.44,213.80 147.75,213.71 148.05,213.62 148.36,213.54 148.67,213.45 148.98,213.36 149.29,213.27 149.59,213.19 149.90,213.10 150.21,213.02 150.52,212.93 150.83,212.85 151.13,212.77 151.44,212.68 151.75,212.60 152.06,212.52 152.37,212.44 152.68,212.36 152.98,212.28 153.29,212.20 153.60,212.12 153.91,212.04 154.22,211.96 154.52,211.89 154.83,211.81 155.14,211.73 155.45,211.66 155.76,211.58 156.06,211.51 156.37,211.43 156.68,211.36 156.99,211.28 157.30,211.21 157.61,211.14 157.91,211.06 158.22,210.99 158.53,210.92 158.84,210.85 159.15,210.78 159.45,210.71 159.76,210.64 160.07,210.57 160.38,210.50 160.69,210.43 161.00,210.36 161.30,210.29 161.61,210.22 161.92,210.15 162.23,210.09 162.54,210.02 162.84,209.95 163.15,209.89 163.46,209.82 163.77,209.76 164.08,209.69 164.38,209.63 164.69,209.56 165.00,209.50 165.31,209.43 165.62,209.37 165.93,209.31" stroke="#1010c0" stroke-width="1.3" fill="none" stroke-linejoin="round" stroke-linecap="round" />
</g>
<line x1="35.3" y1="176" x2="35.3" y2="276.9" stroke="#111" stroke-width="1.5" />
<line x1="35.3" y1="276.9" x2="174.5" y2="276.9" stroke="#111" stroke-width="1.4" />
<line x1="33" y1="276.7" x2="35.3" y2="276.7" stroke="#111" stroke-width="0.9" />
<line x1="34" y1="269.6558981014628" x2="35.3" y2="269.6558981014628" stroke="#111" stroke-width="0.6" />
<line x1="34" y1="265.5353626395599" x2="35.3" y2="265.5353626395599" stroke="#111" stroke-width="0.6" />
<line x1="34" y1="262.6117962029257" x2="35.3" y2="262.6117962029257" stroke="#111" stroke-width="0.6" />
<line x1="34" y1="260.34410189853713" x2="35.3" y2="260.34410189853713" stroke="#111" stroke-width="0.6" />
<line x1="34" y1="258.49126074102276" x2="35.3" y2="258.49126074102276" stroke="#111" stroke-width="0.6" />
<line x1="34" y1="256.92470586366636" x2="35.3" y2="256.92470586366636" stroke="#111" stroke-width="0.6" />
<line x1="34" y1="255.5676943043885" x2="35.3" y2="255.5676943043885" stroke="#111" stroke-width="0.6" />
<line x1="34" y1="254.3707252791198" x2="35.3" y2="254.3707252791198" stroke="#111" stroke-width="0.6" />
<text x="31.4" y="279.1" font-size="6.6" fill="#222" stroke="#222" stroke-width="0.22" text-anchor="end">10<tspan font-size="4.4" dy="-2.8">-2</tspan></text>
<line x1="33" y1="253.3" x2="35.3" y2="253.3" stroke="#111" stroke-width="0.9" />
<line x1="34" y1="246.25589810146286" x2="35.3" y2="246.25589810146286" stroke="#111" stroke-width="0.6" />
<line x1="34" y1="242.1353626395599" x2="35.3" y2="242.1353626395599" stroke="#111" stroke-width="0.6" />
<line x1="34" y1="239.21179620292568" x2="35.3" y2="239.21179620292568" stroke="#111" stroke-width="0.6" />
<line x1="34" y1="236.94410189853716" x2="35.3" y2="236.94410189853716" stroke="#111" stroke-width="0.6" />
<line x1="34" y1="235.09126074102275" x2="35.3" y2="235.09126074102275" stroke="#111" stroke-width="0.6" />
<line x1="34" y1="233.5247058636664" x2="35.3" y2="233.5247058636664" stroke="#111" stroke-width="0.6" />
<line x1="34" y1="232.16769430438853" x2="35.3" y2="232.16769430438853" stroke="#111" stroke-width="0.6" />
<line x1="34" y1="230.97072527911982" x2="35.3" y2="230.97072527911982" stroke="#111" stroke-width="0.6" />
<text x="31.4" y="255.7" font-size="6.6" fill="#222" stroke="#222" stroke-width="0.22" text-anchor="end">10<tspan font-size="4.4" dy="-2.8">-1</tspan></text>
<line x1="33" y1="229.9" x2="35.3" y2="229.9" stroke="#111" stroke-width="0.9" />
<line x1="34" y1="222.85589810146286" x2="35.3" y2="222.85589810146286" stroke="#111" stroke-width="0.6" />
<line x1="34" y1="218.7353626395599" x2="35.3" y2="218.7353626395599" stroke="#111" stroke-width="0.6" />
<line x1="34" y1="215.81179620292568" x2="35.3" y2="215.81179620292568" stroke="#111" stroke-width="0.6" />
<line x1="34" y1="213.54410189853718" x2="35.3" y2="213.54410189853718" stroke="#111" stroke-width="0.6" />
<line x1="34" y1="211.69126074102275" x2="35.3" y2="211.69126074102275" stroke="#111" stroke-width="0.6" />
<line x1="34" y1="210.1247058636664" x2="35.3" y2="210.1247058636664" stroke="#111" stroke-width="0.6" />
<line x1="34" y1="208.76769430438853" x2="35.3" y2="208.76769430438853" stroke="#111" stroke-width="0.6" />
<line x1="34" y1="207.5707252791198" x2="35.3" y2="207.5707252791198" stroke="#111" stroke-width="0.6" />
<text x="31.4" y="232.3" font-size="6.6" fill="#222" stroke="#222" stroke-width="0.22" text-anchor="end">10<tspan font-size="4.4" dy="-2.8">0</tspan></text>
<line x1="33" y1="206.5" x2="35.3" y2="206.5" stroke="#111" stroke-width="0.9" />
<line x1="34" y1="199.45589810146285" x2="35.3" y2="199.45589810146285" stroke="#111" stroke-width="0.6" />
<line x1="34" y1="195.3353626395599" x2="35.3" y2="195.3353626395599" stroke="#111" stroke-width="0.6" />
<line x1="34" y1="192.41179620292567" x2="35.3" y2="192.41179620292567" stroke="#111" stroke-width="0.6" />
<line x1="34" y1="190.14410189853714" x2="35.3" y2="190.14410189853714" stroke="#111" stroke-width="0.6" />
<line x1="34" y1="188.29126074102274" x2="35.3" y2="188.29126074102274" stroke="#111" stroke-width="0.6" />
<line x1="34" y1="186.7247058636664" x2="35.3" y2="186.7247058636664" stroke="#111" stroke-width="0.6" />
<line x1="34" y1="185.36769430438852" x2="35.3" y2="185.36769430438852" stroke="#111" stroke-width="0.6" />
<line x1="34" y1="184.1707252791198" x2="35.3" y2="184.1707252791198" stroke="#111" stroke-width="0.6" />
<text x="31.4" y="208.9" font-size="6.6" fill="#222" stroke="#222" stroke-width="0.22" text-anchor="end">10<tspan font-size="4.4" dy="-2.8">1</tspan></text>
<line x1="33" y1="183.10000000000002" x2="35.3" y2="183.10000000000002" stroke="#111" stroke-width="0.9" />
<text x="31.4" y="185.5" font-size="6.6" fill="#222" stroke="#222" stroke-width="0.22" text-anchor="end">10<tspan font-size="4.4" dy="-2.8">2</tspan></text>
<line x1="42.675" y1="276.9" x2="42.675" y2="278.4" stroke="#111" stroke-width="0.8" />
<line x1="54.99999999999999" y1="276.9" x2="54.99999999999999" y2="278.9" stroke="#111" stroke-width="0.8" />
<line x1="67.32499999999999" y1="276.9" x2="67.32499999999999" y2="278.4" stroke="#111" stroke-width="0.8" />
<line x1="79.64999999999999" y1="276.9" x2="79.64999999999999" y2="278.9" stroke="#111" stroke-width="0.8" />
<line x1="91.975" y1="276.9" x2="91.975" y2="278.4" stroke="#111" stroke-width="0.8" />
<line x1="104.3" y1="276.9" x2="104.3" y2="278.9" stroke="#111" stroke-width="0.8" />
<line x1="116.625" y1="276.9" x2="116.625" y2="278.4" stroke="#111" stroke-width="0.8" />
<line x1="128.95" y1="276.9" x2="128.95" y2="278.9" stroke="#111" stroke-width="0.8" />
<line x1="141.275" y1="276.9" x2="141.275" y2="278.4" stroke="#111" stroke-width="0.8" />
<line x1="153.6" y1="276.9" x2="153.6" y2="278.9" stroke="#111" stroke-width="0.8" />
<line x1="165.925" y1="276.9" x2="165.925" y2="278.4" stroke="#111" stroke-width="0.8" />
<text x="55.0" y="288.2" font-size="7.2" fill="#222" stroke="#222" stroke-width="0.22" font-weight="normal" font-style="normal" text-anchor="middle" >&#8722;0.4</text>
<text x="79.6" y="288.2" font-size="7.2" fill="#222" stroke="#222" stroke-width="0.22" font-weight="normal" font-style="normal" text-anchor="middle" >&#8722;0.2</text>
<text x="104.3" y="288.2" font-size="7.2" fill="#222" stroke="#222" stroke-width="0.22" font-weight="normal" font-style="normal" text-anchor="middle" >0.0</text>
<text x="128.9" y="288.2" font-size="7.2" fill="#222" stroke="#222" stroke-width="0.22" font-weight="normal" font-style="normal" text-anchor="middle" >0.2</text>
<text x="153.6" y="288.2" font-size="7.2" fill="#222" stroke="#222" stroke-width="0.22" font-weight="normal" font-style="normal" text-anchor="middle" >0.4</text>
<text x="106.2" y="297.3" font-size="7.1" fill="#222" stroke="#222" stroke-width="0.22" font-weight="normal" font-style="normal" text-anchor="middle" >Voltage (V)</text>
<text font-size="7.3" fill="#222" stroke="#222" stroke-width="0.22" text-anchor="middle" transform="translate(12.6,228.4) rotate(-90)">Current density (A m<tspan font-size="4.9" dy="-2.8">&#8722;2</tspan><tspan dy="2.8">)</tspan></text>
<text x="153.6" y="197.2" font-size="7.4" fill="#222" stroke="#222" stroke-width="0.22" font-weight="normal" font-style="normal" text-anchor="start" >Cis</text>
<text x="150.7" y="223.3" font-size="6.8" fill="#222" stroke="#222" stroke-width="0.22" font-weight="normal" font-style="normal" text-anchor="start" >Trans</text>
<line x1="171" y1="211.5" x2="171" y2="181.5" stroke="#222" stroke-width="0.9" />
<polygon points="171.00,181.50 172.70,184.70 169.30,184.70" fill="#222" stroke="none" stroke-width="1" />
<line x1="175.8" y1="181.5" x2="175.8" y2="211.5" stroke="#222" stroke-width="0.9" />
<polygon points="175.80,211.50 174.10,208.30 177.50,208.30" fill="#222" stroke="none" stroke-width="1" />
<text x="179.4" y="167.1" font-size="15" fill="#000" stroke="#000" stroke-width="0.1" font-weight="bold" font-style="normal" text-anchor="start" >(e)</text>
<rect x="200.6" y="174.4" width="60.400000000000006" height="14.2" fill="#d4d4d4" stroke="#555" stroke-width="0.7" />
<rect x="201.0" y="185.4" width="59.60000000000001" height="2.9" fill="#f4f4f4" stroke="none" stroke-width="1" />
<line x1="200.6" y1="185.2" x2="261" y2="185.2" stroke="#666" stroke-width="0.6" />
<text x="232.60000000000002" y="182.6" font-size="7.1" fill="#222" stroke="#222" stroke-width="0.22" text-anchor="middle">GaIn/Ga<tspan font-size="4.8" dy="1.8">2</tspan><tspan dy="-1.8">O</tspan><tspan font-size="4.8" dy="1.8">3</tspan></text>
<rect x="287" y="174.4" width="63" height="14.2" fill="#d4d4d4" stroke="#555" stroke-width="0.7" />
<rect x="287.4" y="185.4" width="62.2" height="2.9" fill="#f4f4f4" stroke="none" stroke-width="1" />
<line x1="287" y1="185.2" x2="350" y2="185.2" stroke="#666" stroke-width="0.6" />
<text x="320.3" y="182.6" font-size="7.1" fill="#222" stroke="#222" stroke-width="0.22" text-anchor="middle">GaIn/Ga<tspan font-size="4.8" dy="1.8">2</tspan><tspan dy="-1.8">O</tspan><tspan font-size="4.8" dy="1.8">3</tspan></text>
<rect x="197.3" y="270" width="64.89999999999998" height="11.8" fill="#f4f000" stroke="#555" stroke-width="0.7" />
<text x="229.75" y="279.6" font-size="7.2" fill="#222" stroke="#222" stroke-width="0.22" text-anchor="middle">Au<tspan font-size="4.8" dy="-3">TS</tspan></text>
<rect x="287.3" y="270" width="63.5" height="11.8" fill="#f4f000" stroke="#555" stroke-width="0.7" />
<text x="319.05" y="279.6" font-size="7.2" fill="#222" stroke="#222" stroke-width="0.22" text-anchor="middle">Au<tspan font-size="4.8" dy="-3">TS</tspan></text>
<line x1="202.8" y1="270" x2="202.8" y2="191.3" stroke="#222" stroke-width="0.7" />
<polygon points="202.80,191.30 204.10,193.80 201.50,193.80" fill="#222" stroke="none" stroke-width="1" />
<line x1="202.8" y1="191.3" x2="202.8" y2="270" stroke="#222" stroke-width="0.7" />
<polygon points="202.80,270.00 201.50,267.50 204.10,267.50" fill="#222" stroke="none" stroke-width="1" />
<line x1="348.6" y1="268.7" x2="348.6" y2="191.3" stroke="#222" stroke-width="0.7" />
<polygon points="348.60,191.30 349.90,193.80 347.30,193.80" fill="#222" stroke="none" stroke-width="1" />
<line x1="348.6" y1="191.3" x2="348.6" y2="268.7" stroke="#222" stroke-width="0.7" />
<polygon points="348.60,268.70 347.30,266.20 349.90,266.20" fill="#222" stroke="none" stroke-width="1" />
<rect x="333.5" y="224" width="21" height="7.5" fill="#fff" stroke="none" stroke-width="1" />
<text x="333.7" y="229.6" font-size="7.0" fill="#222" stroke="#222" stroke-width="0.22" font-weight="normal" font-style="normal" text-anchor="start" >13.3 &#197;</text>
<rect x="195.5" y="224" width="21" height="7.5" fill="#fff" stroke="none" stroke-width="1" />
<text x="195.9" y="229.4" font-size="7.0" fill="#222" stroke="#222" stroke-width="0.22" font-weight="normal" font-style="normal" text-anchor="start" >15.4 &#197;</text>
<line x1="250.4" y1="229.2" x2="288" y2="229.2" stroke="#222" stroke-width="1.0" />
<polygon points="288.00,229.20 285.00,230.70 285.00,227.70" fill="#222" stroke="none" stroke-width="1" />
<line x1="288" y1="234.6" x2="249.8" y2="234.6" stroke="#222" stroke-width="1.0" />
<polygon points="249.80,234.60 252.80,233.10 252.80,236.10" fill="#222" stroke="none" stroke-width="1" />
<text x="269.4" y="227.5" font-size="5.3" fill="#222" stroke="#222" stroke-width="0.22" font-weight="normal" font-style="normal" text-anchor="middle" >365 nm</text>
<text x="269.4" y="239.8" font-size="5.3" fill="#222" stroke="#222" stroke-width="0.22" font-weight="normal" font-style="normal" text-anchor="middle" >520 nm</text>
<polyline points="225.58,205.65 219.60,209.10 213.62,205.65 213.62,198.75 219.60,195.30 225.58,198.75 225.58,205.65" stroke="#2a2a2a" stroke-width="1.0" fill="none" stroke-linejoin="round" stroke-linecap="round" />
<line x1="218.95" y1="206.8" x2="215.94" y2="205.06" stroke="#2a2a2a" stroke-width="0.8" />
<line x1="215.94" y1="199.34" x2="218.95" y2="197.6" stroke="#2a2a2a" stroke-width="0.8" />
<line x1="223.9" y1="200.46" x2="223.9" y2="203.94" stroke="#2a2a2a" stroke-width="0.8" />
<polyline points="225.60,198.70 231.00,195.30 236.00,202.20 232.30,208.40 225.60,205.70" stroke="#2a2a2a" stroke-width="1.0" fill="none" stroke-linejoin="round" stroke-linecap="round" />
<line x1="231" y1="195.3" x2="230.4" y2="189.3" stroke="#2a2a2a" stroke-width="1.0" />
<line x1="231" y1="195.3" x2="237.3" y2="191.6" stroke="#2a2a2a" stroke-width="1.0" />
<polyline points="236.00,202.20 239.10,196.60 245.40,196.00 248.50,201.50 246.20,207.80 240.20,208.80 236.00,202.20" stroke="#2a2a2a" stroke-width="1.0" fill="none" stroke-linejoin="round" stroke-linecap="round" />
<line x1="240.3" y1="197.8" x2="244.6" y2="197.3" stroke="#2a2a2a" stroke-width="0.8" />
<polyline points="259.00,207.80 255.80,213.34 249.40,213.34 246.20,207.80 249.40,202.26 255.80,202.26 259.00,207.80" stroke="#2a2a2a" stroke-width="1.0" fill="none" stroke-linejoin="round" stroke-linecap="round" />
<line x1="256.86" y1="208.4" x2="255.25" y2="211.19" stroke="#2a2a2a" stroke-width="0.8" />
<line x1="249.95" y1="211.19" x2="248.34" y2="208.4" stroke="#2a2a2a" stroke-width="0.8" />
<line x1="250.99" y1="203.81" x2="254.21" y2="203.81" stroke="#2a2a2a" stroke-width="0.8" />
<line x1="259" y1="207.8" x2="265.5" y2="207.8" stroke="#2a2a2a" stroke-width="1.0" />
<text x="264.2" y="209.4" font-size="3.4" fill="#444" stroke="#444" stroke-width="0.22" font-weight="normal" font-style="normal" text-anchor="start" >NO</text>
<text x="236.2" y="221.4" font-size="5.3" fill="#b44e32" stroke="#b44e32" stroke-width="0.1" font-weight="bold" font-style="normal" text-anchor="start" >Closed</text>
<polyline points="232.30,208.40 234.60,215.20 232.70,216.00 230.40,220.90 231.70,224.80" stroke="#2a2a2a" stroke-width="1.0" fill="none" stroke-linejoin="round" stroke-linecap="round" />
<polyline points="231.70,226.30 226.80,230.70" stroke="#2a2a2a" stroke-width="1.0" fill="none" stroke-linejoin="round" stroke-linecap="round" />
<line x1="226.8" y1="230.7" x2="220.2" y2="229.3" stroke="#2a2a2a" stroke-width="1.0" />
<line x1="226.6" y1="231.9" x2="220.0" y2="230.5" stroke="#2a2a2a" stroke-width="1.0" />
<polyline points="226.80,230.70 228.80,234.70 225.80,239.60 227.80,243.50 223.90,248.50 225.80,252.40 222.90,256.30 223.90,259.30" stroke="#2a2a2a" stroke-width="1.0" fill="none" stroke-linejoin="round" stroke-linecap="round" />
<polyline points="223.90,270.00 223.90,259.30 229.80,256.30 235.70,259.30 235.70,270.00" stroke="#2a2a2a" stroke-width="1.0" fill="none" stroke-linejoin="round" stroke-linecap="round" />
<polyline points="299.09,205.50 293.20,208.90 287.31,205.50 287.31,198.70 293.20,195.30 299.09,198.70 299.09,205.50" stroke="#2a2a2a" stroke-width="1.0" fill="none" stroke-linejoin="round" stroke-linecap="round" />
<line x1="292.56" y1="206.63" x2="289.6" y2="204.92" stroke="#2a2a2a" stroke-width="0.8" />
<line x1="289.6" y1="199.28" x2="292.56" y2="197.57" stroke="#2a2a2a" stroke-width="0.8" />
<line x1="297.44" y1="200.39" x2="297.44" y2="203.81" stroke="#2a2a2a" stroke-width="0.8" />
<polyline points="299.10,198.50 305.00,196.50 309.60,202.40 305.70,207.70 299.10,205.70" stroke="#2a2a2a" stroke-width="1.0" fill="none" stroke-linejoin="round" stroke-linecap="round" />
<line x1="306.5" y1="203.5" x2="304.5" y2="206.3" stroke="#2a2a2a" stroke-width="0.8" />
<line x1="305" y1="196.5" x2="304.3" y2="190.6" stroke="#2a2a2a" stroke-width="1.0" />
<line x1="305" y1="196.5" x2="311.6" y2="191.9" stroke="#2a2a2a" stroke-width="1.0" />
<polyline points="309.60,202.40 317.50,202.40 322.00,207.70 328.00,207.70" stroke="#2a2a2a" stroke-width="1.0" fill="none" stroke-linejoin="round" stroke-linecap="round" />
<line x1="318.2" y1="204.5" x2="321.4" y2="208.9" stroke="#2a2a2a" stroke-width="0.8" />
<polyline points="341.20,208.00 337.90,213.72 331.30,213.72 328.00,208.00 331.30,202.28 337.90,202.28 341.20,208.00" stroke="#2a2a2a" stroke-width="1.0" fill="none" stroke-linejoin="round" stroke-linecap="round" />
<line x1="336.26" y1="212.12" x2="332.94" y2="212.12" stroke="#2a2a2a" stroke-width="0.8" />
<line x1="330.2" y1="207.38" x2="331.87" y2="204.5" stroke="#2a2a2a" stroke-width="0.8" />
<line x1="337.33" y1="204.5" x2="339.0" y2="207.38" stroke="#2a2a2a" stroke-width="0.8" />
<line x1="337.9" y1="202.3" x2="340.4" y2="196.5" stroke="#2a2a2a" stroke-width="1.0" />
<text x="340.2" y="197.8" font-size="3.4" fill="#444" stroke="#444" stroke-width="0.22" font-weight="normal" font-style="normal" text-anchor="start" >NO</text>
<line x1="331.3" y1="213.7" x2="326.5" y2="221.8" stroke="#2a2a2a" stroke-width="1.0" />
<circle cx="326" cy="222.6" r="1.3" fill="#334" stroke="none" stroke-width="1" />
<circle cx="303.7" cy="210.3" r="1.0" fill="#222" stroke="none" stroke-width="1" />
<text x="308.4" y="219.5" font-size="5.3" fill="#5aa03a" stroke="#5aa03a" stroke-width="0.22" font-weight="normal" font-style="normal" text-anchor="start" >Open</text>
<polyline points="305.70,207.70 308.30,214.20 304.30,218.80 305.00,224.80" stroke="#2a2a2a" stroke-width="1.0" fill="none" stroke-linejoin="round" stroke-linecap="round" />
<polyline points="305.00,226.30 300.20,230.70" stroke="#2a2a2a" stroke-width="1.0" fill="none" stroke-linejoin="round" stroke-linecap="round" />
<line x1="300.2" y1="230.7" x2="293.6" y2="229.3" stroke="#2a2a2a" stroke-width="1.0" />
<line x1="300" y1="231.9" x2="293.4" y2="230.5" stroke="#2a2a2a" stroke-width="1.0" />
<polyline points="300.20,230.70 302.20,234.70 299.20,239.60 301.20,243.50 297.30,248.50 299.20,252.40 296.30,256.30 297.30,259.30" stroke="#2a2a2a" stroke-width="1.0" fill="none" stroke-linejoin="round" stroke-linecap="round" />
<polyline points="297.30,270.00 297.30,259.30 303.20,256.30 309.10,259.30 309.10,270.00" stroke="#2a2a2a" stroke-width="1.0" fill="none" stroke-linejoin="round" stroke-linecap="round" />
<text x="359" y="169.3" font-size="15" fill="#000" stroke="#000" stroke-width="0.1" font-weight="bold" font-style="normal" text-anchor="start" >(f)</text>
<polygon points="391.10,182.99 394.75,184.84 398.39,186.68 402.03,188.53 405.68,190.38 409.32,192.23 412.97,194.07 416.62,195.92 420.26,197.78 423.90,199.63 427.55,201.50 431.19,203.38 434.84,205.28 438.49,207.21 442.13,209.21 445.77,211.31 449.42,213.60 453.06,216.23 456.71,219.60 460.36,224.95 460.36,238.15 456.71,232.80 453.06,229.43 449.42,226.80 445.77,224.51 442.13,222.41 438.49,220.41 434.84,218.48 431.19,216.58 427.55,214.70 423.90,212.83 420.26,210.98 416.62,209.12 412.97,207.27 409.32,205.43 405.68,203.58 402.03,201.73 398.39,199.88 394.75,198.04 391.10,196.19" fill="#e2f4dc" stroke="none" stroke-width="1" />
<polygon points="467.64,224.87 471.29,219.45 474.94,216.00 478.58,213.29 482.23,210.93 485.87,208.75 489.51,206.68 493.16,204.67 496.81,202.69 500.45,200.73 504.10,198.79 507.74,196.86 511.38,194.93 515.03,193.00 518.67,191.08 522.32,189.15 525.97,187.23 529.61,185.31 533.25,183.39 536.90,181.46 536.90,194.66 533.25,196.59 529.61,198.51 525.97,200.43 522.32,202.35 518.67,204.28 515.03,206.20 511.38,208.13 507.74,210.06 504.10,211.99 500.45,213.93 496.81,215.89 493.16,217.87 489.51,219.88 485.87,221.95 482.23,224.13 478.58,226.49 474.94,229.20 471.29,232.65 467.64,238.07" fill="#e2f4dc" stroke="none" stroke-width="1" />
<polygon points="391.10,206.79 394.75,208.64 398.39,210.48 402.03,212.33 405.68,214.18 409.32,216.03 412.97,217.87 416.62,219.72 420.26,221.58 423.90,223.43 427.55,225.30 431.19,227.18 434.84,229.08 438.49,231.01 442.13,233.01 445.77,235.11 449.42,237.40 453.06,240.03 456.71,243.40 460.36,248.75 460.36,261.95 456.71,256.60 453.06,253.23 449.42,250.60 445.77,248.31 442.13,246.21 438.49,244.21 434.84,242.28 431.19,240.38 427.55,238.50 423.90,236.63 420.26,234.78 416.62,232.92 412.97,231.07 409.32,229.23 405.68,227.38 402.03,225.53 398.39,223.68 394.75,221.84 391.10,219.99" fill="#f8dcdc" stroke="none" stroke-width="1" />
<polygon points="467.64,248.75 471.29,243.40 474.94,240.03 478.58,237.40 482.23,235.11 485.87,233.01 489.51,231.01 493.16,229.08 496.81,227.18 500.45,225.30 504.10,223.43 507.74,221.58 511.38,219.72 515.03,217.87 518.67,216.03 522.32,214.18 525.97,212.33 529.61,210.48 533.25,208.64 536.90,206.79 536.90,219.99 533.25,221.84 529.61,223.68 525.97,225.53 522.32,227.38 518.67,229.23 515.03,231.07 511.38,232.92 507.74,234.78 504.10,236.63 500.45,238.50 496.81,240.38 493.16,242.28 489.51,244.21 485.87,246.21 482.23,248.31 478.58,250.60 474.94,253.23 471.29,256.60 467.64,261.95" fill="#f8dcdc" stroke="none" stroke-width="1" />
<clipPath id="cf"><rect x="384.6" y="182.5" width="159.0" height="85.5"/></clipPath>
<g clip-path="url(#cf)">
<line x1="391.1" y1="182.99281416008284" x2="391.1" y2="196.19281416008283" stroke="#2e9a2a" stroke-width="0.75" />
<line x1="389.90000000000003" y1="182.99281416008284" x2="392.3" y2="182.99281416008284" stroke="#2e9a2a" stroke-width="0.6" />
<line x1="389.90000000000003" y1="196.19281416008283" x2="392.3" y2="196.19281416008283" stroke="#2e9a2a" stroke-width="0.6" />
<line x1="394.745" y1="184.83878316480744" x2="394.745" y2="198.03878316480743" stroke="#2e9a2a" stroke-width="0.75" />
<line x1="393.545" y1="184.83878316480744" x2="395.945" y2="184.83878316480744" stroke="#2e9a2a" stroke-width="0.6" />
<line x1="393.545" y1="198.03878316480743" x2="395.945" y2="198.03878316480743" stroke="#2e9a2a" stroke-width="0.6" />
<line x1="398.39" y1="186.68489325226284" x2="398.39" y2="199.88489325226283" stroke="#2e9a2a" stroke-width="0.75" />
<line x1="397.19" y1="186.68489325226284" x2="399.59" y2="186.68489325226284" stroke="#2e9a2a" stroke-width="0.6" />
<line x1="397.19" y1="199.88489325226283" x2="399.59" y2="199.88489325226283" stroke="#2e9a2a" stroke-width="0.6" />
<line x1="402.03499999999997" y1="188.53123596985276" x2="402.03499999999997" y2="201.73123596985275" stroke="#2e9a2a" stroke-width="0.75" />
<line x1="400.835" y1="188.53123596985276" x2="403.23499999999996" y2="188.53123596985276" stroke="#2e9a2a" stroke-width="0.6" />
<line x1="400.835" y1="201.73123596985275" x2="403.23499999999996" y2="201.73123596985275" stroke="#2e9a2a" stroke-width="0.6" />
<line x1="405.68" y1="190.37796229504255" x2="405.68" y2="203.57796229504254" stroke="#2e9a2a" stroke-width="0.75" />
<line x1="404.48" y1="190.37796229504255" x2="406.88" y2="190.37796229504255" stroke="#2e9a2a" stroke-width="0.6" />
<line x1="404.48" y1="203.57796229504254" x2="406.88" y2="203.57796229504254" stroke="#2e9a2a" stroke-width="0.6" />
<line x1="409.325" y1="192.225321259941" x2="409.325" y2="205.425321259941" stroke="#2e9a2a" stroke-width="0.75" />
<line x1="408.125" y1="192.225321259941" x2="410.525" y2="192.225321259941" stroke="#2e9a2a" stroke-width="0.6" />
<line x1="408.125" y1="205.425321259941" x2="410.525" y2="205.425321259941" stroke="#2e9a2a" stroke-width="0.6" />
<line x1="412.97" y1="194.07372375470078" x2="412.97" y2="207.27372375470077" stroke="#2e9a2a" stroke-width="0.75" />
<line x1="411.77000000000004" y1="194.07372375470078" x2="414.17" y2="194.07372375470078" stroke="#2e9a2a" stroke-width="0.6" />
<line x1="411.77000000000004" y1="207.27372375470077" x2="414.17" y2="207.27372375470077" stroke="#2e9a2a" stroke-width="0.6" />
<line x1="416.615" y1="195.92384805439022" x2="416.615" y2="209.1238480543902" stroke="#2e9a2a" stroke-width="0.75" />
<line x1="415.415" y1="195.92384805439022" x2="417.815" y2="195.92384805439022" stroke="#2e9a2a" stroke-width="0.6" />
<line x1="415.415" y1="209.1238480543902" x2="417.815" y2="209.1238480543902" stroke="#2e9a2a" stroke-width="0.6" />
<line x1="420.26" y1="197.77681471082124" x2="420.26" y2="210.97681471082123" stroke="#2e9a2a" stroke-width="0.75" />
<line x1="419.06" y1="197.77681471082124" x2="421.46" y2="197.77681471082124" stroke="#2e9a2a" stroke-width="0.6" />
<line x1="419.06" y1="210.97681471082123" x2="421.46" y2="210.97681471082123" stroke="#2e9a2a" stroke-width="0.6" />
<line x1="423.905" y1="199.63447737902257" x2="423.905" y2="212.83447737902256" stroke="#2e9a2a" stroke-width="0.75" />
<line x1="422.705" y1="199.63447737902257" x2="425.10499999999996" y2="199.63447737902257" stroke="#2e9a2a" stroke-width="0.6" />
<line x1="422.705" y1="212.83447737902256" x2="425.10499999999996" y2="212.83447737902256" stroke="#2e9a2a" stroke-width="0.6" />
<line x1="427.55" y1="201.49990910045003" x2="427.55" y2="214.69990910045001" stroke="#2e9a2a" stroke-width="0.75" />
<line x1="426.35" y1="201.49990910045003" x2="428.75" y2="201.49990910045003" stroke="#2e9a2a" stroke-width="0.6" />
<line x1="426.35" y1="214.69990910045001" x2="428.75" y2="214.69990910045001" stroke="#2e9a2a" stroke-width="0.6" />
<line x1="431.195" y1="203.37822275369095" x2="431.195" y2="216.57822275369094" stroke="#2e9a2a" stroke-width="0.75" />
<line x1="429.995" y1="203.37822275369095" x2="432.395" y2="203.37822275369095" stroke="#2e9a2a" stroke-width="0.6" />
<line x1="429.995" y1="216.57822275369094" x2="432.395" y2="216.57822275369094" stroke="#2e9a2a" stroke-width="0.6" />
<line x1="434.84" y1="205.2779757099611" x2="434.84" y2="218.4779757099611" stroke="#2e9a2a" stroke-width="0.75" />
<line x1="433.64" y1="205.2779757099611" x2="436.03999999999996" y2="205.2779757099611" stroke="#2e9a2a" stroke-width="0.6" />
<line x1="433.64" y1="218.4779757099611" x2="436.03999999999996" y2="218.4779757099611" stroke="#2e9a2a" stroke-width="0.6" />
<line x1="438.485" y1="207.21363211365446" x2="438.485" y2="220.41363211365444" stroke="#2e9a2a" stroke-width="0.75" />
<line x1="437.285" y1="207.21363211365446" x2="439.685" y2="207.21363211365446" stroke="#2e9a2a" stroke-width="0.6" />
<line x1="437.285" y1="220.41363211365444" x2="439.685" y2="220.41363211365444" stroke="#2e9a2a" stroke-width="0.6" />
<line x1="442.13" y1="209.21004471689326" x2="442.13" y2="222.41004471689325" stroke="#2e9a2a" stroke-width="0.75" />
<line x1="440.93" y1="209.21004471689326" x2="443.33" y2="209.21004471689326" stroke="#2e9a2a" stroke-width="0.6" />
<line x1="440.93" y1="222.41004471689325" x2="443.33" y2="222.41004471689325" stroke="#2e9a2a" stroke-width="0.6" />
<line x1="445.775" y1="211.3111102376893" x2="445.775" y2="224.51111023768928" stroke="#2e9a2a" stroke-width="0.75" />
<line x1="444.575" y1="211.3111102376893" x2="446.97499999999997" y2="211.3111102376893" stroke="#2e9a2a" stroke-width="0.6" />
<line x1="444.575" y1="224.51111023768928" x2="446.97499999999997" y2="224.51111023768928" stroke="#2e9a2a" stroke-width="0.6" />
<line x1="449.42" y1="213.59809219383" x2="449.42" y2="226.79809219383" stroke="#2e9a2a" stroke-width="0.75" />
<line x1="448.22" y1="213.59809219383" x2="450.62" y2="213.59809219383" stroke="#2e9a2a" stroke-width="0.6" />
<line x1="448.22" y1="226.79809219383" x2="450.62" y2="226.79809219383" stroke="#2e9a2a" stroke-width="0.6" />
<line x1="453.065" y1="216.23433483972894" x2="453.065" y2="229.43433483972893" stroke="#2e9a2a" stroke-width="0.75" />
<line x1="451.865" y1="216.23433483972894" x2="454.265" y2="216.23433483972894" stroke="#2e9a2a" stroke-width="0.6" />
<line x1="451.865" y1="229.43433483972893" x2="454.265" y2="229.43433483972893" stroke="#2e9a2a" stroke-width="0.6" />
<line x1="456.71" y1="219.60240826878234" x2="456.71" y2="232.80240826878233" stroke="#2e9a2a" stroke-width="0.75" />
<line x1="455.51" y1="219.60240826878234" x2="457.90999999999997" y2="219.60240826878234" stroke="#2e9a2a" stroke-width="0.6" />
<line x1="455.51" y1="232.80240826878233" x2="457.90999999999997" y2="232.80240826878233" stroke="#2e9a2a" stroke-width="0.6" />
<line x1="460.355" y1="224.948273126726" x2="460.355" y2="238.148273126726" stroke="#2e9a2a" stroke-width="0.75" />
<line x1="459.15500000000003" y1="224.948273126726" x2="461.555" y2="224.948273126726" stroke="#2e9a2a" stroke-width="0.6" />
<line x1="459.15500000000003" y1="238.148273126726" x2="461.555" y2="238.148273126726" stroke="#2e9a2a" stroke-width="0.6" />
<line x1="467.645" y1="224.87177312672603" x2="467.645" y2="238.07177312672601" stroke="#2e9a2a" stroke-width="0.75" />
<line x1="466.445" y1="224.87177312672603" x2="468.84499999999997" y2="224.87177312672603" stroke="#2e9a2a" stroke-width="0.6" />
<line x1="466.445" y1="238.07177312672601" x2="468.84499999999997" y2="238.07177312672601" stroke="#2e9a2a" stroke-width="0.6" />
<line x1="471.29" y1="219.44940826878232" x2="471.29" y2="232.6494082687823" stroke="#2e9a2a" stroke-width="0.75" />
<line x1="470.09000000000003" y1="219.44940826878232" x2="472.49" y2="219.44940826878232" stroke="#2e9a2a" stroke-width="0.6" />
<line x1="470.09000000000003" y1="232.6494082687823" x2="472.49" y2="232.6494082687823" stroke="#2e9a2a" stroke-width="0.6" />
<line x1="474.935" y1="216.00483483972894" x2="474.935" y2="229.20483483972893" stroke="#2e9a2a" stroke-width="0.75" />
<line x1="473.735" y1="216.00483483972894" x2="476.135" y2="216.00483483972894" stroke="#2e9a2a" stroke-width="0.6" />
<line x1="473.735" y1="229.20483483972893" x2="476.135" y2="229.20483483972893" stroke="#2e9a2a" stroke-width="0.6" />
<line x1="478.58" y1="213.29209219383" x2="478.58" y2="226.49209219383" stroke="#2e9a2a" stroke-width="0.75" />
<line x1="477.38" y1="213.29209219383" x2="479.78" y2="213.29209219383" stroke="#2e9a2a" stroke-width="0.6" />
<line x1="477.38" y1="226.49209219383" x2="479.78" y2="226.49209219383" stroke="#2e9a2a" stroke-width="0.6" />
<line x1="482.225" y1="210.9286102376893" x2="482.225" y2="224.1286102376893" stroke="#2e9a2a" stroke-width="0.75" />
<line x1="481.02500000000003" y1="210.9286102376893" x2="483.425" y2="210.9286102376893" stroke="#2e9a2a" stroke-width="0.6" />
<line x1="481.02500000000003" y1="224.1286102376893" x2="483.425" y2="224.1286102376893" stroke="#2e9a2a" stroke-width="0.6" />
<line x1="485.87" y1="208.75104471689326" x2="485.87" y2="221.95104471689325" stroke="#2e9a2a" stroke-width="0.75" />
<line x1="484.67" y1="208.75104471689326" x2="487.07" y2="208.75104471689326" stroke="#2e9a2a" stroke-width="0.6" />
<line x1="484.67" y1="221.95104471689325" x2="487.07" y2="221.95104471689325" stroke="#2e9a2a" stroke-width="0.6" />
<line x1="489.515" y1="206.67813211365444" x2="489.515" y2="219.87813211365443" stroke="#2e9a2a" stroke-width="0.75" />
<line x1="488.315" y1="206.67813211365444" x2="490.715" y2="206.67813211365444" stroke="#2e9a2a" stroke-width="0.6" />
<line x1="488.315" y1="219.87813211365443" x2="490.715" y2="219.87813211365443" stroke="#2e9a2a" stroke-width="0.6" />
<line x1="493.16" y1="204.66597570996112" x2="493.16" y2="217.8659757099611" stroke="#2e9a2a" stroke-width="0.75" />
<line x1="491.96000000000004" y1="204.66597570996112" x2="494.36" y2="204.66597570996112" stroke="#2e9a2a" stroke-width="0.6" />
<line x1="491.96000000000004" y1="217.8659757099611" x2="494.36" y2="217.8659757099611" stroke="#2e9a2a" stroke-width="0.6" />
<line x1="496.805" y1="202.68972275369094" x2="496.805" y2="215.88972275369093" stroke="#2e9a2a" stroke-width="0.75" />
<line x1="495.605" y1="202.68972275369094" x2="498.005" y2="202.68972275369094" stroke="#2e9a2a" stroke-width="0.6" />
<line x1="495.605" y1="215.88972275369093" x2="498.005" y2="215.88972275369093" stroke="#2e9a2a" stroke-width="0.6" />
<line x1="500.45" y1="200.73490910045004" x2="500.45" y2="213.93490910045003" stroke="#2e9a2a" stroke-width="0.75" />
<line x1="499.25" y1="200.73490910045004" x2="501.65" y2="200.73490910045004" stroke="#2e9a2a" stroke-width="0.6" />
<line x1="499.25" y1="213.93490910045003" x2="501.65" y2="213.93490910045003" stroke="#2e9a2a" stroke-width="0.6" />
<line x1="504.095" y1="198.79297737902257" x2="504.095" y2="211.99297737902256" stroke="#2e9a2a" stroke-width="0.75" />
<line x1="502.89500000000004" y1="198.79297737902257" x2="505.295" y2="198.79297737902257" stroke="#2e9a2a" stroke-width="0.6" />
<line x1="502.89500000000004" y1="211.99297737902256" x2="505.295" y2="211.99297737902256" stroke="#2e9a2a" stroke-width="0.6" />
<line x1="507.74" y1="196.85881471082124" x2="507.74" y2="210.05881471082122" stroke="#2e9a2a" stroke-width="0.75" />
<line x1="506.54" y1="196.85881471082124" x2="508.94" y2="196.85881471082124" stroke="#2e9a2a" stroke-width="0.6" />
<line x1="506.54" y1="210.05881471082122" x2="508.94" y2="210.05881471082122" stroke="#2e9a2a" stroke-width="0.6" />
<line x1="511.385" y1="194.9293480543902" x2="511.385" y2="208.1293480543902" stroke="#2e9a2a" stroke-width="0.75" />
<line x1="510.185" y1="194.9293480543902" x2="512.585" y2="194.9293480543902" stroke="#2e9a2a" stroke-width="0.6" />
<line x1="510.185" y1="208.1293480543902" x2="512.585" y2="208.1293480543902" stroke="#2e9a2a" stroke-width="0.6" />
<line x1="515.03" y1="193.00272375470078" x2="515.03" y2="206.20272375470077" stroke="#2e9a2a" stroke-width="0.75" />
<line x1="513.8299999999999" y1="193.00272375470078" x2="516.23" y2="193.00272375470078" stroke="#2e9a2a" stroke-width="0.6" />
<line x1="513.8299999999999" y1="206.20272375470077" x2="516.23" y2="206.20272375470077" stroke="#2e9a2a" stroke-width="0.6" />
<line x1="518.675" y1="191.077821259941" x2="518.675" y2="204.277821259941" stroke="#2e9a2a" stroke-width="0.75" />
<line x1="517.4749999999999" y1="191.077821259941" x2="519.875" y2="191.077821259941" stroke="#2e9a2a" stroke-width="0.6" />
<line x1="517.4749999999999" y1="204.277821259941" x2="519.875" y2="204.277821259941" stroke="#2e9a2a" stroke-width="0.6" />
<line x1="522.32" y1="189.15396229504256" x2="522.32" y2="202.35396229504255" stroke="#2e9a2a" stroke-width="0.75" />
<line x1="521.12" y1="189.15396229504256" x2="523.5200000000001" y2="189.15396229504256" stroke="#2e9a2a" stroke-width="0.6" />
<line x1="521.12" y1="202.35396229504255" x2="523.5200000000001" y2="202.35396229504255" stroke="#2e9a2a" stroke-width="0.6" />
<line x1="525.965" y1="187.23073596985276" x2="525.965" y2="200.43073596985275" stroke="#2e9a2a" stroke-width="0.75" />
<line x1="524.765" y1="187.23073596985276" x2="527.1650000000001" y2="187.23073596985276" stroke="#2e9a2a" stroke-width="0.6" />
<line x1="524.765" y1="200.43073596985275" x2="527.1650000000001" y2="200.43073596985275" stroke="#2e9a2a" stroke-width="0.6" />
<line x1="529.61" y1="185.30789325226286" x2="529.61" y2="198.50789325226285" stroke="#2e9a2a" stroke-width="0.75" />
<line x1="528.41" y1="185.30789325226286" x2="530.8100000000001" y2="185.30789325226286" stroke="#2e9a2a" stroke-width="0.6" />
<line x1="528.41" y1="198.50789325226285" x2="530.8100000000001" y2="198.50789325226285" stroke="#2e9a2a" stroke-width="0.6" />
<line x1="533.255" y1="183.38528316480745" x2="533.255" y2="196.58528316480744" stroke="#2e9a2a" stroke-width="0.75" />
<line x1="532.055" y1="183.38528316480745" x2="534.455" y2="183.38528316480745" stroke="#2e9a2a" stroke-width="0.6" />
<line x1="532.055" y1="196.58528316480744" x2="534.455" y2="196.58528316480744" stroke="#2e9a2a" stroke-width="0.6" />
<line x1="536.9" y1="181.46281416008284" x2="536.9" y2="194.66281416008283" stroke="#2e9a2a" stroke-width="0.75" />
<line x1="535.6999999999999" y1="181.46281416008284" x2="538.1" y2="181.46281416008284" stroke="#2e9a2a" stroke-width="0.6" />
<line x1="535.6999999999999" y1="194.66281416008283" x2="538.1" y2="194.66281416008283" stroke="#2e9a2a" stroke-width="0.6" />
<circle cx="391.1" cy="189.59281416008284" r="1.55" fill="#1e6a14" stroke="none" stroke-width="1" />
<circle cx="394.745" cy="191.43878316480743" r="1.55" fill="#1e6a14" stroke="none" stroke-width="1" />
<circle cx="398.39" cy="193.28489325226283" r="1.55" fill="#1e6a14" stroke="none" stroke-width="1" />
<circle cx="402.03499999999997" cy="195.13123596985275" r="1.55" fill="#1e6a14" stroke="none" stroke-width="1" />
<circle cx="405.68" cy="196.97796229504254" r="1.55" fill="#1e6a14" stroke="none" stroke-width="1" />
<circle cx="409.325" cy="198.825321259941" r="1.55" fill="#1e6a14" stroke="none" stroke-width="1" />
<circle cx="412.97" cy="200.67372375470077" r="1.55" fill="#1e6a14" stroke="none" stroke-width="1" />
<circle cx="416.615" cy="202.5238480543902" r="1.55" fill="#1e6a14" stroke="none" stroke-width="1" />
<circle cx="420.26" cy="204.37681471082124" r="1.55" fill="#1e6a14" stroke="none" stroke-width="1" />
<circle cx="423.905" cy="206.23447737902256" r="1.55" fill="#1e6a14" stroke="none" stroke-width="1" />
<circle cx="427.55" cy="208.09990910045002" r="1.55" fill="#1e6a14" stroke="none" stroke-width="1" />
<circle cx="431.195" cy="209.97822275369094" r="1.55" fill="#1e6a14" stroke="none" stroke-width="1" />
<circle cx="434.84" cy="211.8779757099611" r="1.55" fill="#1e6a14" stroke="none" stroke-width="1" />
<circle cx="438.485" cy="213.81363211365445" r="1.55" fill="#1e6a14" stroke="none" stroke-width="1" />
<circle cx="442.13" cy="215.81004471689326" r="1.55" fill="#1e6a14" stroke="none" stroke-width="1" />
<circle cx="445.775" cy="217.9111102376893" r="1.55" fill="#1e6a14" stroke="none" stroke-width="1" />
<circle cx="449.42" cy="220.19809219383" r="1.55" fill="#1e6a14" stroke="none" stroke-width="1" />
<circle cx="453.065" cy="222.83433483972894" r="1.55" fill="#1e6a14" stroke="none" stroke-width="1" />
<circle cx="456.71" cy="226.20240826878234" r="1.55" fill="#1e6a14" stroke="none" stroke-width="1" />
<circle cx="460.355" cy="231.548273126726" r="1.55" fill="#1e6a14" stroke="none" stroke-width="1" />
<circle cx="467.645" cy="231.47177312672602" r="1.55" fill="#1e6a14" stroke="none" stroke-width="1" />
<circle cx="471.29" cy="226.04940826878232" r="1.55" fill="#1e6a14" stroke="none" stroke-width="1" />
<circle cx="474.935" cy="222.60483483972894" r="1.55" fill="#1e6a14" stroke="none" stroke-width="1" />
<circle cx="478.58" cy="219.89209219383" r="1.55" fill="#1e6a14" stroke="none" stroke-width="1" />
<circle cx="482.225" cy="217.5286102376893" r="1.55" fill="#1e6a14" stroke="none" stroke-width="1" />
<circle cx="485.87" cy="215.35104471689326" r="1.55" fill="#1e6a14" stroke="none" stroke-width="1" />
<circle cx="489.515" cy="213.27813211365444" r="1.55" fill="#1e6a14" stroke="none" stroke-width="1" />
<circle cx="493.16" cy="211.2659757099611" r="1.55" fill="#1e6a14" stroke="none" stroke-width="1" />
<circle cx="496.805" cy="209.28972275369094" r="1.55" fill="#1e6a14" stroke="none" stroke-width="1" />
<circle cx="500.45" cy="207.33490910045003" r="1.55" fill="#1e6a14" stroke="none" stroke-width="1" />
<circle cx="504.095" cy="205.39297737902257" r="1.55" fill="#1e6a14" stroke="none" stroke-width="1" />
<circle cx="507.74" cy="203.45881471082123" r="1.55" fill="#1e6a14" stroke="none" stroke-width="1" />
<circle cx="511.385" cy="201.5293480543902" r="1.55" fill="#1e6a14" stroke="none" stroke-width="1" />
<circle cx="515.03" cy="199.60272375470078" r="1.55" fill="#1e6a14" stroke="none" stroke-width="1" />
<circle cx="518.675" cy="197.677821259941" r="1.55" fill="#1e6a14" stroke="none" stroke-width="1" />
<circle cx="522.32" cy="195.75396229504256" r="1.55" fill="#1e6a14" stroke="none" stroke-width="1" />
<circle cx="525.965" cy="193.83073596985275" r="1.55" fill="#1e6a14" stroke="none" stroke-width="1" />
<circle cx="529.61" cy="191.90789325226285" r="1.55" fill="#1e6a14" stroke="none" stroke-width="1" />
<circle cx="533.255" cy="189.98528316480744" r="1.55" fill="#1e6a14" stroke="none" stroke-width="1" />
<circle cx="536.9" cy="188.06281416008284" r="1.55" fill="#1e6a14" stroke="none" stroke-width="1" />
<line x1="391.1" y1="206.79281416008286" x2="391.1" y2="219.99281416008284" stroke="#b03828" stroke-width="0.75" />
<line x1="389.90000000000003" y1="206.79281416008286" x2="392.3" y2="206.79281416008286" stroke="#b03828" stroke-width="0.6" />
<line x1="389.90000000000003" y1="219.99281416008284" x2="392.3" y2="219.99281416008284" stroke="#b03828" stroke-width="0.6" />
<line x1="394.745" y1="208.63878316480745" x2="394.745" y2="221.83878316480744" stroke="#b03828" stroke-width="0.75" />
<line x1="393.545" y1="208.63878316480745" x2="395.945" y2="208.63878316480745" stroke="#b03828" stroke-width="0.6" />
<line x1="393.545" y1="221.83878316480744" x2="395.945" y2="221.83878316480744" stroke="#b03828" stroke-width="0.6" />
<line x1="398.39" y1="210.48489325226285" x2="398.39" y2="223.68489325226284" stroke="#b03828" stroke-width="0.75" />
<line x1="397.19" y1="210.48489325226285" x2="399.59" y2="210.48489325226285" stroke="#b03828" stroke-width="0.6" />
<line x1="397.19" y1="223.68489325226284" x2="399.59" y2="223.68489325226284" stroke="#b03828" stroke-width="0.6" />
<line x1="402.03499999999997" y1="212.33123596985277" x2="402.03499999999997" y2="225.53123596985276" stroke="#b03828" stroke-width="0.75" />
<line x1="400.835" y1="212.33123596985277" x2="403.23499999999996" y2="212.33123596985277" stroke="#b03828" stroke-width="0.6" />
<line x1="400.835" y1="225.53123596985276" x2="403.23499999999996" y2="225.53123596985276" stroke="#b03828" stroke-width="0.6" />
<line x1="405.68" y1="214.17796229504256" x2="405.68" y2="227.37796229504255" stroke="#b03828" stroke-width="0.75" />
<line x1="404.48" y1="214.17796229504256" x2="406.88" y2="214.17796229504256" stroke="#b03828" stroke-width="0.6" />
<line x1="404.48" y1="227.37796229504255" x2="406.88" y2="227.37796229504255" stroke="#b03828" stroke-width="0.6" />
<line x1="409.325" y1="216.02532125994102" x2="409.325" y2="229.225321259941" stroke="#b03828" stroke-width="0.75" />
<line x1="408.125" y1="216.02532125994102" x2="410.525" y2="216.02532125994102" stroke="#b03828" stroke-width="0.6" />
<line x1="408.125" y1="229.225321259941" x2="410.525" y2="229.225321259941" stroke="#b03828" stroke-width="0.6" />
<line x1="412.97" y1="217.8737237547008" x2="412.97" y2="231.07372375470078" stroke="#b03828" stroke-width="0.75" />
<line x1="411.77000000000004" y1="217.8737237547008" x2="414.17" y2="217.8737237547008" stroke="#b03828" stroke-width="0.6" />
<line x1="411.77000000000004" y1="231.07372375470078" x2="414.17" y2="231.07372375470078" stroke="#b03828" stroke-width="0.6" />
<line x1="416.615" y1="219.72384805439023" x2="416.615" y2="232.92384805439022" stroke="#b03828" stroke-width="0.75" />
<line x1="415.415" y1="219.72384805439023" x2="417.815" y2="219.72384805439023" stroke="#b03828" stroke-width="0.6" />
<line x1="415.415" y1="232.92384805439022" x2="417.815" y2="232.92384805439022" stroke="#b03828" stroke-width="0.6" />
<line x1="420.26" y1="221.57681471082125" x2="420.26" y2="234.77681471082124" stroke="#b03828" stroke-width="0.75" />
<line x1="419.06" y1="221.57681471082125" x2="421.46" y2="221.57681471082125" stroke="#b03828" stroke-width="0.6" />
<line x1="419.06" y1="234.77681471082124" x2="421.46" y2="234.77681471082124" stroke="#b03828" stroke-width="0.6" />
<line x1="423.905" y1="223.43447737902258" x2="423.905" y2="236.63447737902257" stroke="#b03828" stroke-width="0.75" />
<line x1="422.705" y1="223.43447737902258" x2="425.10499999999996" y2="223.43447737902258" stroke="#b03828" stroke-width="0.6" />
<line x1="422.705" y1="236.63447737902257" x2="425.10499999999996" y2="236.63447737902257" stroke="#b03828" stroke-width="0.6" />
<line x1="427.55" y1="225.29990910045004" x2="427.55" y2="238.49990910045003" stroke="#b03828" stroke-width="0.75" />
<line x1="426.35" y1="225.29990910045004" x2="428.75" y2="225.29990910045004" stroke="#b03828" stroke-width="0.6" />
<line x1="426.35" y1="238.49990910045003" x2="428.75" y2="238.49990910045003" stroke="#b03828" stroke-width="0.6" />
<line x1="431.195" y1="227.17822275369096" x2="431.195" y2="240.37822275369095" stroke="#b03828" stroke-width="0.75" />
<line x1="429.995" y1="227.17822275369096" x2="432.395" y2="227.17822275369096" stroke="#b03828" stroke-width="0.6" />
<line x1="429.995" y1="240.37822275369095" x2="432.395" y2="240.37822275369095" stroke="#b03828" stroke-width="0.6" />
<line x1="434.84" y1="229.07797570996112" x2="434.84" y2="242.2779757099611" stroke="#b03828" stroke-width="0.75" />
<line x1="433.64" y1="229.07797570996112" x2="436.03999999999996" y2="229.07797570996112" stroke="#b03828" stroke-width="0.6" />
<line x1="433.64" y1="242.2779757099611" x2="436.03999999999996" y2="242.2779757099611" stroke="#b03828" stroke-width="0.6" />
<line x1="438.485" y1="231.01363211365444" x2="438.485" y2="244.21363211365443" stroke="#b03828" stroke-width="0.75" />
<line x1="437.285" y1="231.01363211365444" x2="439.685" y2="231.01363211365444" stroke="#b03828" stroke-width="0.6" />
<line x1="437.285" y1="244.21363211365443" x2="439.685" y2="244.21363211365443" stroke="#b03828" stroke-width="0.6" />
<line x1="442.13" y1="233.01004471689325" x2="442.13" y2="246.21004471689324" stroke="#b03828" stroke-width="0.75" />
<line x1="440.93" y1="233.01004471689325" x2="443.33" y2="233.01004471689325" stroke="#b03828" stroke-width="0.6" />
<line x1="440.93" y1="246.21004471689324" x2="443.33" y2="246.21004471689324" stroke="#b03828" stroke-width="0.6" />
<line x1="445.775" y1="235.1111102376893" x2="445.775" y2="248.3111102376893" stroke="#b03828" stroke-width="0.75" />
<line x1="444.575" y1="235.1111102376893" x2="446.97499999999997" y2="235.1111102376893" stroke="#b03828" stroke-width="0.6" />
<line x1="444.575" y1="248.3111102376893" x2="446.97499999999997" y2="248.3111102376893" stroke="#b03828" stroke-width="0.6" />
<line x1="449.42" y1="237.39809219383" x2="449.42" y2="250.59809219382998" stroke="#b03828" stroke-width="0.75" />
<line x1="448.22" y1="237.39809219383" x2="450.62" y2="237.39809219383" stroke="#b03828" stroke-width="0.6" />
<line x1="448.22" y1="250.59809219382998" x2="450.62" y2="250.59809219382998" stroke="#b03828" stroke-width="0.6" />
<line x1="453.065" y1="240.03433483972896" x2="453.065" y2="253.23433483972894" stroke="#b03828" stroke-width="0.75" />
<line x1="451.865" y1="240.03433483972896" x2="454.265" y2="240.03433483972896" stroke="#b03828" stroke-width="0.6" />
<line x1="451.865" y1="253.23433483972894" x2="454.265" y2="253.23433483972894" stroke="#b03828" stroke-width="0.6" />
<line x1="456.71" y1="243.40240826878235" x2="456.71" y2="256.60240826878237" stroke="#b03828" stroke-width="0.75" />
<line x1="455.51" y1="243.40240826878235" x2="457.90999999999997" y2="243.40240826878235" stroke="#b03828" stroke-width="0.6" />
<line x1="455.51" y1="256.60240826878237" x2="457.90999999999997" y2="256.60240826878237" stroke="#b03828" stroke-width="0.6" />
<line x1="460.355" y1="248.748273126726" x2="460.355" y2="261.948273126726" stroke="#b03828" stroke-width="0.75" />
<line x1="459.15500000000003" y1="248.748273126726" x2="461.555" y2="248.748273126726" stroke="#b03828" stroke-width="0.6" />
<line x1="459.15500000000003" y1="261.948273126726" x2="461.555" y2="261.948273126726" stroke="#b03828" stroke-width="0.6" />
<line x1="467.645" y1="248.748273126726" x2="467.645" y2="261.948273126726" stroke="#b03828" stroke-width="0.75" />
<line x1="466.445" y1="248.748273126726" x2="468.84499999999997" y2="248.748273126726" stroke="#b03828" stroke-width="0.6" />
<line x1="466.445" y1="261.948273126726" x2="468.84499999999997" y2="261.948273126726" stroke="#b03828" stroke-width="0.6" />
<line x1="471.29" y1="243.40240826878235" x2="471.29" y2="256.60240826878237" stroke="#b03828" stroke-width="0.75" />
<line x1="470.09000000000003" y1="243.40240826878235" x2="472.49" y2="243.40240826878235" stroke="#b03828" stroke-width="0.6" />
<line x1="470.09000000000003" y1="256.60240826878237" x2="472.49" y2="256.60240826878237" stroke="#b03828" stroke-width="0.6" />
<line x1="474.935" y1="240.03433483972896" x2="474.935" y2="253.23433483972894" stroke="#b03828" stroke-width="0.75" />
<line x1="473.735" y1="240.03433483972896" x2="476.135" y2="240.03433483972896" stroke="#b03828" stroke-width="0.6" />
<line x1="473.735" y1="253.23433483972894" x2="476.135" y2="253.23433483972894" stroke="#b03828" stroke-width="0.6" />
<line x1="478.58" y1="237.39809219383" x2="478.58" y2="250.59809219382998" stroke="#b03828" stroke-width="0.75" />
<line x1="477.38" y1="237.39809219383" x2="479.78" y2="237.39809219383" stroke="#b03828" stroke-width="0.6" />
<line x1="477.38" y1="250.59809219382998" x2="479.78" y2="250.59809219382998" stroke="#b03828" stroke-width="0.6" />
<line x1="482.225" y1="235.1111102376893" x2="482.225" y2="248.3111102376893" stroke="#b03828" stroke-width="0.75" />
<line x1="481.02500000000003" y1="235.1111102376893" x2="483.425" y2="235.1111102376893" stroke="#b03828" stroke-width="0.6" />
<line x1="481.02500000000003" y1="248.3111102376893" x2="483.425" y2="248.3111102376893" stroke="#b03828" stroke-width="0.6" />
<line x1="485.87" y1="233.01004471689325" x2="485.87" y2="246.21004471689324" stroke="#b03828" stroke-width="0.75" />
<line x1="484.67" y1="233.01004471689325" x2="487.07" y2="233.01004471689325" stroke="#b03828" stroke-width="0.6" />
<line x1="484.67" y1="246.21004471689324" x2="487.07" y2="246.21004471689324" stroke="#b03828" stroke-width="0.6" />
<line x1="489.515" y1="231.01363211365444" x2="489.515" y2="244.21363211365443" stroke="#b03828" stroke-width="0.75" />
<line x1="488.315" y1="231.01363211365444" x2="490.715" y2="231.01363211365444" stroke="#b03828" stroke-width="0.6" />
<line x1="488.315" y1="244.21363211365443" x2="490.715" y2="244.21363211365443" stroke="#b03828" stroke-width="0.6" />
<line x1="493.16" y1="229.07797570996112" x2="493.16" y2="242.2779757099611" stroke="#b03828" stroke-width="0.75" />
<line x1="491.96000000000004" y1="229.07797570996112" x2="494.36" y2="229.07797570996112" stroke="#b03828" stroke-width="0.6" />
<line x1="491.96000000000004" y1="242.2779757099611" x2="494.36" y2="242.2779757099611" stroke="#b03828" stroke-width="0.6" />
<line x1="496.805" y1="227.17822275369096" x2="496.805" y2="240.37822275369095" stroke="#b03828" stroke-width="0.75" />
<line x1="495.605" y1="227.17822275369096" x2="498.005" y2="227.17822275369096" stroke="#b03828" stroke-width="0.6" />
<line x1="495.605" y1="240.37822275369095" x2="498.005" y2="240.37822275369095" stroke="#b03828" stroke-width="0.6" />
<line x1="500.45" y1="225.29990910045004" x2="500.45" y2="238.49990910045003" stroke="#b03828" stroke-width="0.75" />
<line x1="499.25" y1="225.29990910045004" x2="501.65" y2="225.29990910045004" stroke="#b03828" stroke-width="0.6" />
<line x1="499.25" y1="238.49990910045003" x2="501.65" y2="238.49990910045003" stroke="#b03828" stroke-width="0.6" />
<line x1="504.095" y1="223.43447737902258" x2="504.095" y2="236.63447737902257" stroke="#b03828" stroke-width="0.75" />
<line x1="502.89500000000004" y1="223.43447737902258" x2="505.295" y2="223.43447737902258" stroke="#b03828" stroke-width="0.6" />
<line x1="502.89500000000004" y1="236.63447737902257" x2="505.295" y2="236.63447737902257" stroke="#b03828" stroke-width="0.6" />
<line x1="507.74" y1="221.57681471082125" x2="507.74" y2="234.77681471082124" stroke="#b03828" stroke-width="0.75" />
<line x1="506.54" y1="221.57681471082125" x2="508.94" y2="221.57681471082125" stroke="#b03828" stroke-width="0.6" />
<line x1="506.54" y1="234.77681471082124" x2="508.94" y2="234.77681471082124" stroke="#b03828" stroke-width="0.6" />
<line x1="511.385" y1="219.72384805439023" x2="511.385" y2="232.92384805439022" stroke="#b03828" stroke-width="0.75" />
<line x1="510.185" y1="219.72384805439023" x2="512.585" y2="219.72384805439023" stroke="#b03828" stroke-width="0.6" />
<line x1="510.185" y1="232.92384805439022" x2="512.585" y2="232.92384805439022" stroke="#b03828" stroke-width="0.6" />
<line x1="515.03" y1="217.8737237547008" x2="515.03" y2="231.07372375470078" stroke="#b03828" stroke-width="0.75" />
<line x1="513.8299999999999" y1="217.8737237547008" x2="516.23" y2="217.8737237547008" stroke="#b03828" stroke-width="0.6" />
<line x1="513.8299999999999" y1="231.07372375470078" x2="516.23" y2="231.07372375470078" stroke="#b03828" stroke-width="0.6" />
<line x1="518.675" y1="216.02532125994102" x2="518.675" y2="229.225321259941" stroke="#b03828" stroke-width="0.75" />
<line x1="517.4749999999999" y1="216.02532125994102" x2="519.875" y2="216.02532125994102" stroke="#b03828" stroke-width="0.6" />
<line x1="517.4749999999999" y1="229.225321259941" x2="519.875" y2="229.225321259941" stroke="#b03828" stroke-width="0.6" />
<line x1="522.32" y1="214.17796229504256" x2="522.32" y2="227.37796229504255" stroke="#b03828" stroke-width="0.75" />
<line x1="521.12" y1="214.17796229504256" x2="523.5200000000001" y2="214.17796229504256" stroke="#b03828" stroke-width="0.6" />
<line x1="521.12" y1="227.37796229504255" x2="523.5200000000001" y2="227.37796229504255" stroke="#b03828" stroke-width="0.6" />
<line x1="525.965" y1="212.33123596985277" x2="525.965" y2="225.53123596985276" stroke="#b03828" stroke-width="0.75" />
<line x1="524.765" y1="212.33123596985277" x2="527.1650000000001" y2="212.33123596985277" stroke="#b03828" stroke-width="0.6" />
<line x1="524.765" y1="225.53123596985276" x2="527.1650000000001" y2="225.53123596985276" stroke="#b03828" stroke-width="0.6" />
<line x1="529.61" y1="210.48489325226285" x2="529.61" y2="223.68489325226284" stroke="#b03828" stroke-width="0.75" />
<line x1="528.41" y1="210.48489325226285" x2="530.8100000000001" y2="210.48489325226285" stroke="#b03828" stroke-width="0.6" />
<line x1="528.41" y1="223.68489325226284" x2="530.8100000000001" y2="223.68489325226284" stroke="#b03828" stroke-width="0.6" />
<line x1="533.255" y1="208.63878316480745" x2="533.255" y2="221.83878316480744" stroke="#b03828" stroke-width="0.75" />
<line x1="532.055" y1="208.63878316480745" x2="534.455" y2="208.63878316480745" stroke="#b03828" stroke-width="0.6" />
<line x1="532.055" y1="221.83878316480744" x2="534.455" y2="221.83878316480744" stroke="#b03828" stroke-width="0.6" />
<line x1="536.9" y1="206.79281416008286" x2="536.9" y2="219.99281416008284" stroke="#b03828" stroke-width="0.75" />
<line x1="535.6999999999999" y1="206.79281416008286" x2="538.1" y2="206.79281416008286" stroke="#b03828" stroke-width="0.6" />
<line x1="535.6999999999999" y1="219.99281416008284" x2="538.1" y2="219.99281416008284" stroke="#b03828" stroke-width="0.6" />
<circle cx="391.1" cy="213.39281416008285" r="1.55" fill="#5a1208" stroke="none" stroke-width="1" />
<circle cx="394.745" cy="215.23878316480744" r="1.55" fill="#5a1208" stroke="none" stroke-width="1" />
<circle cx="398.39" cy="217.08489325226284" r="1.55" fill="#5a1208" stroke="none" stroke-width="1" />
<circle cx="402.03499999999997" cy="218.93123596985276" r="1.55" fill="#5a1208" stroke="none" stroke-width="1" />
<circle cx="405.68" cy="220.77796229504256" r="1.55" fill="#5a1208" stroke="none" stroke-width="1" />
<circle cx="409.325" cy="222.62532125994102" r="1.55" fill="#5a1208" stroke="none" stroke-width="1" />
<circle cx="412.97" cy="224.47372375470079" r="1.55" fill="#5a1208" stroke="none" stroke-width="1" />
<circle cx="416.615" cy="226.32384805439023" r="1.55" fill="#5a1208" stroke="none" stroke-width="1" />
<circle cx="420.26" cy="228.17681471082125" r="1.55" fill="#5a1208" stroke="none" stroke-width="1" />
<circle cx="423.905" cy="230.03447737902258" r="1.55" fill="#5a1208" stroke="none" stroke-width="1" />
<circle cx="427.55" cy="231.89990910045003" r="1.55" fill="#5a1208" stroke="none" stroke-width="1" />
<circle cx="431.195" cy="233.77822275369095" r="1.55" fill="#5a1208" stroke="none" stroke-width="1" />
<circle cx="434.84" cy="235.67797570996112" r="1.55" fill="#5a1208" stroke="none" stroke-width="1" />
<circle cx="438.485" cy="237.61363211365443" r="1.55" fill="#5a1208" stroke="none" stroke-width="1" />
<circle cx="442.13" cy="239.61004471689324" r="1.55" fill="#5a1208" stroke="none" stroke-width="1" />
<circle cx="445.775" cy="241.7111102376893" r="1.55" fill="#5a1208" stroke="none" stroke-width="1" />
<circle cx="449.42" cy="243.99809219383" r="1.55" fill="#5a1208" stroke="none" stroke-width="1" />
<circle cx="453.065" cy="246.63433483972895" r="1.55" fill="#5a1208" stroke="none" stroke-width="1" />
<circle cx="456.71" cy="250.00240826878235" r="1.55" fill="#5a1208" stroke="none" stroke-width="1" />
<circle cx="460.355" cy="255.34827312672599" r="1.55" fill="#5a1208" stroke="none" stroke-width="1" />
<circle cx="467.645" cy="255.34827312672599" r="1.55" fill="#5a1208" stroke="none" stroke-width="1" />
<circle cx="471.29" cy="250.00240826878235" r="1.55" fill="#5a1208" stroke="none" stroke-width="1" />
<circle cx="474.935" cy="246.63433483972895" r="1.55" fill="#5a1208" stroke="none" stroke-width="1" />
<circle cx="478.58" cy="243.99809219383" r="1.55" fill="#5a1208" stroke="none" stroke-width="1" />
<circle cx="482.225" cy="241.7111102376893" r="1.55" fill="#5a1208" stroke="none" stroke-width="1" />
<circle cx="485.87" cy="239.61004471689324" r="1.55" fill="#5a1208" stroke="none" stroke-width="1" />
<circle cx="489.515" cy="237.61363211365443" r="1.55" fill="#5a1208" stroke="none" stroke-width="1" />
<circle cx="493.16" cy="235.67797570996112" r="1.55" fill="#5a1208" stroke="none" stroke-width="1" />
<circle cx="496.805" cy="233.77822275369095" r="1.55" fill="#5a1208" stroke="none" stroke-width="1" />
<circle cx="500.45" cy="231.89990910045003" r="1.55" fill="#5a1208" stroke="none" stroke-width="1" />
<circle cx="504.095" cy="230.03447737902258" r="1.55" fill="#5a1208" stroke="none" stroke-width="1" />
<circle cx="507.74" cy="228.17681471082125" r="1.55" fill="#5a1208" stroke="none" stroke-width="1" />
<circle cx="511.385" cy="226.32384805439023" r="1.55" fill="#5a1208" stroke="none" stroke-width="1" />
<circle cx="515.03" cy="224.47372375470079" r="1.55" fill="#5a1208" stroke="none" stroke-width="1" />
<circle cx="518.675" cy="222.62532125994102" r="1.55" fill="#5a1208" stroke="none" stroke-width="1" />
<circle cx="522.32" cy="220.77796229504256" r="1.55" fill="#5a1208" stroke="none" stroke-width="1" />
<circle cx="525.965" cy="218.93123596985276" r="1.55" fill="#5a1208" stroke="none" stroke-width="1" />
<circle cx="529.61" cy="217.08489325226284" r="1.55" fill="#5a1208" stroke="none" stroke-width="1" />
<circle cx="533.255" cy="215.23878316480744" r="1.55" fill="#5a1208" stroke="none" stroke-width="1" />
<circle cx="536.9" cy="213.39281416008285" r="1.55" fill="#5a1208" stroke="none" stroke-width="1" />
</g>
<rect x="384.6" y="182.5" width="159.0" height="85.5" fill="none" stroke="#333" stroke-width="0.8" />
<line x1="384.6" y1="259.3" x2="387.1" y2="259.3" stroke="#333" stroke-width="0.7" />
<line x1="543.6" y1="259.3" x2="541.1" y2="259.3" stroke="#333" stroke-width="0.7" />
<text x="379.6" y="261.0" font-size="7.6" fill="#222" stroke="#222" stroke-width="0.22" font-weight="normal" font-style="normal" text-anchor="end" >-6</text>
<line x1="384.6" y1="242.3" x2="387.1" y2="242.3" stroke="#333" stroke-width="0.7" />
<line x1="543.6" y1="242.3" x2="541.1" y2="242.3" stroke="#333" stroke-width="0.7" />
<text x="379.6" y="244.0" font-size="7.6" fill="#222" stroke="#222" stroke-width="0.22" font-weight="normal" font-style="normal" text-anchor="end" >-5</text>
<line x1="384.6" y1="225.3" x2="387.1" y2="225.3" stroke="#333" stroke-width="0.7" />
<line x1="543.6" y1="225.3" x2="541.1" y2="225.3" stroke="#333" stroke-width="0.7" />
<text x="379.6" y="227.0" font-size="7.6" fill="#222" stroke="#222" stroke-width="0.22" font-weight="normal" font-style="normal" text-anchor="end" >-4</text>
<line x1="384.6" y1="208.3" x2="387.1" y2="208.3" stroke="#333" stroke-width="0.7" />
<line x1="543.6" y1="208.3" x2="541.1" y2="208.3" stroke="#333" stroke-width="0.7" />
<text x="379.6" y="210.0" font-size="7.6" fill="#222" stroke="#222" stroke-width="0.22" font-weight="normal" font-style="normal" text-anchor="end" >-3</text>
<line x1="384.6" y1="191.3" x2="387.1" y2="191.3" stroke="#333" stroke-width="0.7" />
<line x1="543.6" y1="191.3" x2="541.1" y2="191.3" stroke="#333" stroke-width="0.7" />
<text x="379.6" y="193.0" font-size="7.6" fill="#222" stroke="#222" stroke-width="0.22" font-weight="normal" font-style="normal" text-anchor="end" >-2</text>
<line x1="391.1" y1="268.0" x2="391.1" y2="265.5" stroke="#333" stroke-width="0.7" />
<line x1="391.1" y1="182.5" x2="391.1" y2="185.0" stroke="#333" stroke-width="0.7" />
<text x="390.5" y="280.3" font-size="8.2" fill="#222" stroke="#222" stroke-width="0.22" font-weight="normal" font-style="normal" text-anchor="middle" >-1</text>
<line x1="427.55" y1="268.0" x2="427.55" y2="265.5" stroke="#333" stroke-width="0.7" />
<line x1="427.55" y1="182.5" x2="427.55" y2="185.0" stroke="#333" stroke-width="0.7" />
<text x="427.0" y="280.3" font-size="8.2" fill="#222" stroke="#222" stroke-width="0.22" font-weight="normal" font-style="normal" text-anchor="middle" >-0.5</text>
<line x1="464.0" y1="268.0" x2="464.0" y2="265.5" stroke="#333" stroke-width="0.7" />
<line x1="464.0" y1="182.5" x2="464.0" y2="185.0" stroke="#333" stroke-width="0.7" />
<text x="463.4" y="280.3" font-size="8.2" fill="#222" stroke="#222" stroke-width="0.22" font-weight="normal" font-style="normal" text-anchor="middle" >0</text>
<line x1="500.45" y1="268.0" x2="500.45" y2="265.5" stroke="#333" stroke-width="0.7" />
<line x1="500.45" y1="182.5" x2="500.45" y2="185.0" stroke="#333" stroke-width="0.7" />
<text x="499.79999999999995" y="280.3" font-size="8.2" fill="#222" stroke="#222" stroke-width="0.22" font-weight="normal" font-style="normal" text-anchor="middle" >0.5</text>
<line x1="536.9" y1="268.0" x2="536.9" y2="265.5" stroke="#333" stroke-width="0.7" />
<line x1="536.9" y1="182.5" x2="536.9" y2="185.0" stroke="#333" stroke-width="0.7" />
<text x="536.3" y="280.3" font-size="8.2" fill="#222" stroke="#222" stroke-width="0.22" font-weight="normal" font-style="normal" text-anchor="middle" >1</text>
<text x="464" y="288.6" font-size="8.5" fill="#222" stroke="#222" stroke-width="0.22" font-weight="normal" font-style="normal" text-anchor="middle" >Potential (V)</text>
<text font-size="7.1" fill="#222" stroke="#222" stroke-width="0.22" text-anchor="middle" transform="translate(371.2,220.2) rotate(-90)">log|J (A cm<tspan font-size="4.7" dy="-2.6">-2</tspan><tspan dy="2.6">)|</tspan></text>
<text x="410" y="255" font-size="6.3" fill="#222" stroke="#222" stroke-width="0.22" font-weight="normal" font-style="normal" text-anchor="end" >Open</text>
<text x="410" y="262.8" font-size="6.3" fill="#222" stroke="#222" stroke-width="0.22" font-weight="normal" font-style="normal" text-anchor="end" >Closed</text>
<line x1="414.3" y1="252.9" x2="432.4" y2="252.9" stroke="#3a9a2a" stroke-width="0.7" />
<line x1="414.3" y1="251.4" x2="414.3" y2="254.4" stroke="#3a9a2a" stroke-width="0.7" />
<line x1="432.4" y1="251.4" x2="432.4" y2="254.4" stroke="#3a9a2a" stroke-width="0.7" />
<circle cx="423.4" cy="252.9" r="1.25" fill="#1e6a14" stroke="none" stroke-width="1" />
<line x1="414.3" y1="260.7" x2="432.4" y2="260.7" stroke="#c04a3a" stroke-width="0.7" />
<line x1="414.3" y1="259.2" x2="414.3" y2="262.2" stroke="#c04a3a" stroke-width="0.7" />
<line x1="432.4" y1="259.2" x2="432.4" y2="262.2" stroke="#c04a3a" stroke-width="0.7" />
<circle cx="423.4" cy="260.7" r="1.25" fill="#6a1a10" stroke="none" stroke-width="1" />
<polygon points="18.00,152.00 33.50,152.00 31.00,154.50 26.00,155.00 24.00,158.00 20.00,156.00" fill="#5cf0f0" stroke="none" stroke-width="1" />
<polygon points="21.00,155.60 29.00,155.60 28.50,158.80 22.50,159.20" fill="#ff90ea" stroke="none" stroke-width="1" />
<polygon points="28.00,157.20 31.50,156.80 30.50,159.50 27.50,159.60" fill="#8cf4f4" stroke="none" stroke-width="1" />
</svg>
</body></html>
